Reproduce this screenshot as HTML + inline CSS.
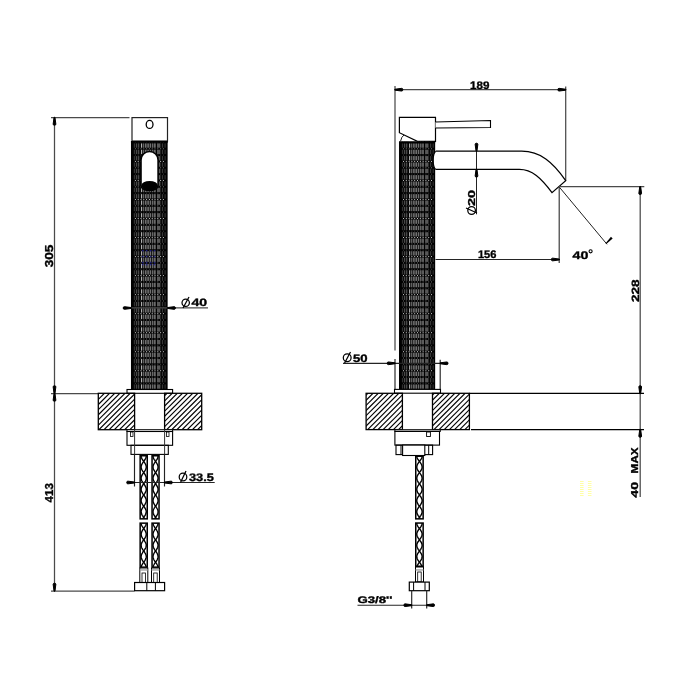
<!DOCTYPE html>
<html><head><meta charset="utf-8">
<style>
html,body{margin:0;padding:0;background:#fff;width:700px;height:700px;overflow:hidden}
svg{display:block;will-change:transform}
text{font-family:"Liberation Sans",sans-serif;font-weight:bold;fill:#000;stroke:#000;stroke-width:0.35px;text-rendering:geometricPrecision}
</style></head>
<body>
<svg width="700" height="700" viewBox="0 0 700 700">
<defs>
  <path id="arr" d="M0.2,-0.45 L-6.6,-1.35 Q-7.8,-1.4 -7.8,0 Q-7.8,1.4 -6.6,1.35 L0.2,0.45 Z" fill="#000"/>
</defs>

<g fill="none" stroke="#000" stroke-width="1">
<g stroke="#4a4a4a" stroke-width="1.25">
  <line x1="54.5" y1="117.5" x2="54.5" y2="591"/>
  <line x1="51" y1="117.5" x2="129.5" y2="117.5"/>
  <line x1="51" y1="393.5" x2="98" y2="393.5"/>
  <line x1="51" y1="591" x2="134.5" y2="591"/>
</g>
<use href="#arr" transform="translate(54.5,117.5) rotate(-90)"/>
<use href="#arr" transform="translate(54.5,393.5) rotate(90)"/>
<use href="#arr" transform="translate(54.5,393.5) rotate(-90)"/>
<use href="#arr" transform="translate(54.5,591) rotate(90)"/>
<rect x="132" y="117.6" width="35.5" height="23.4" fill="#fff" stroke="#222" stroke-width="1.2"/>
<ellipse cx="149.6" cy="124.4" rx="3.4" ry="4.0" stroke-width="1.3"/>
</g>
<clipPath id="kL"><rect x="130.8" y="141" width="37.0" height="248.39999999999998"/></clipPath>
<g clip-path="url(#kL)">
<rect x="130.8" y="141" width="37.0" height="248.39999999999998" fill="#000"/>
<rect x="133.80" y="137.06" width="1.2" height="4.34" fill="#303030"/>
<rect x="135.80" y="137.06" width="1.4" height="4.34" fill="#484848"/>
<rect x="137.90" y="137.06" width="1.4" height="4.34" fill="#484848"/>
<rect x="140.95" y="137.06" width="1.1" height="4.34" fill="#b0b0b0"/>
<rect x="142.70" y="137.06" width="1.6" height="4.34" fill="#606060"/>
<rect x="145.00" y="137.06" width="1.6" height="4.34" fill="#707070"/>
<rect x="147.30" y="137.06" width="1.6" height="4.34" fill="#707070"/>
<rect x="149.60" y="137.06" width="1.6" height="4.34" fill="#707070"/>
<rect x="151.95" y="137.06" width="1.5" height="4.34" fill="#686868"/>
<rect x="154.30" y="137.06" width="1.2" height="4.34" fill="#989898"/>
<rect x="157.00" y="137.06" width="3.4" height="4.34" fill="#585858"/>
<rect x="161.85" y="137.06" width="1.3" height="4.34" fill="#383838"/>
<rect x="164.50" y="137.06" width="1.2" height="4.34" fill="#303030"/>
<rect x="134.90" y="135.56" width="1" height="1" fill="#404040"/>
<rect x="137.70" y="135.56" width="1" height="1" fill="#404040"/>
<rect x="140.50" y="135.56" width="1" height="1" fill="#404040"/>
<rect x="143.30" y="135.56" width="1" height="1" fill="#404040"/>
<rect x="146.10" y="135.56" width="1" height="1" fill="#404040"/>
<rect x="148.90" y="135.56" width="1" height="1" fill="#404040"/>
<rect x="151.70" y="135.56" width="1" height="1" fill="#404040"/>
<rect x="154.50" y="135.56" width="1" height="1" fill="#404040"/>
<rect x="157.30" y="135.56" width="1" height="1" fill="#404040"/>
<rect x="160.10" y="135.56" width="1" height="1" fill="#404040"/>
<rect x="162.90" y="135.56" width="1" height="1" fill="#404040"/>
<rect x="133.80" y="143.40" width="1.2" height="4.34" fill="#303030"/>
<rect x="135.80" y="143.40" width="1.4" height="4.34" fill="#484848"/>
<rect x="137.90" y="143.40" width="1.4" height="4.34" fill="#484848"/>
<rect x="140.95" y="143.40" width="1.1" height="4.34" fill="#b0b0b0"/>
<rect x="142.70" y="143.40" width="1.6" height="4.34" fill="#606060"/>
<rect x="145.00" y="143.40" width="1.6" height="4.34" fill="#707070"/>
<rect x="147.30" y="143.40" width="1.6" height="4.34" fill="#707070"/>
<rect x="149.60" y="143.40" width="1.6" height="4.34" fill="#707070"/>
<rect x="151.95" y="143.40" width="1.5" height="4.34" fill="#686868"/>
<rect x="154.30" y="143.40" width="1.2" height="4.34" fill="#989898"/>
<rect x="157.00" y="143.40" width="3.4" height="4.34" fill="#585858"/>
<rect x="161.85" y="143.40" width="1.3" height="4.34" fill="#383838"/>
<rect x="164.50" y="143.40" width="1.2" height="4.34" fill="#303030"/>
<rect x="134.90" y="141.90" width="1" height="1" fill="#c8c8c8"/>
<rect x="137.70" y="141.90" width="1" height="1" fill="#c8c8c8"/>
<rect x="140.50" y="141.90" width="1" height="1" fill="#c8c8c8"/>
<rect x="143.30" y="141.90" width="1" height="1" fill="#c8c8c8"/>
<rect x="146.10" y="141.90" width="1" height="1" fill="#c8c8c8"/>
<rect x="148.90" y="141.90" width="1" height="1" fill="#c8c8c8"/>
<rect x="151.70" y="141.90" width="1" height="1" fill="#c8c8c8"/>
<rect x="154.50" y="141.90" width="1" height="1" fill="#c8c8c8"/>
<rect x="157.30" y="141.90" width="1" height="1" fill="#c8c8c8"/>
<rect x="160.10" y="141.90" width="1" height="1" fill="#c8c8c8"/>
<rect x="162.90" y="141.90" width="1" height="1" fill="#c8c8c8"/>
<rect x="133.80" y="149.74" width="1.2" height="4.34" fill="#303030"/>
<rect x="135.80" y="149.74" width="1.4" height="4.34" fill="#484848"/>
<rect x="137.90" y="149.74" width="1.4" height="4.34" fill="#484848"/>
<rect x="140.95" y="149.74" width="1.1" height="4.34" fill="#b0b0b0"/>
<rect x="142.70" y="149.74" width="1.6" height="4.34" fill="#606060"/>
<rect x="145.00" y="149.74" width="1.6" height="4.34" fill="#707070"/>
<rect x="147.30" y="149.74" width="1.6" height="4.34" fill="#707070"/>
<rect x="149.60" y="149.74" width="1.6" height="4.34" fill="#707070"/>
<rect x="151.95" y="149.74" width="1.5" height="4.34" fill="#686868"/>
<rect x="154.30" y="149.74" width="1.2" height="4.34" fill="#989898"/>
<rect x="157.00" y="149.74" width="3.4" height="4.34" fill="#585858"/>
<rect x="161.85" y="149.74" width="1.3" height="4.34" fill="#383838"/>
<rect x="164.50" y="149.74" width="1.2" height="4.34" fill="#303030"/>
<rect x="134.90" y="148.24" width="1" height="1" fill="#707070"/>
<rect x="137.70" y="148.24" width="1" height="1" fill="#707070"/>
<rect x="140.50" y="148.24" width="1" height="1" fill="#707070"/>
<rect x="143.30" y="148.24" width="1" height="1" fill="#707070"/>
<rect x="146.10" y="148.24" width="1" height="1" fill="#707070"/>
<rect x="148.90" y="148.24" width="1" height="1" fill="#707070"/>
<rect x="151.70" y="148.24" width="1" height="1" fill="#707070"/>
<rect x="154.50" y="148.24" width="1" height="1" fill="#707070"/>
<rect x="157.30" y="148.24" width="1" height="1" fill="#707070"/>
<rect x="160.10" y="148.24" width="1" height="1" fill="#707070"/>
<rect x="162.90" y="148.24" width="1" height="1" fill="#707070"/>
<rect x="133.80" y="156.08" width="1.2" height="4.34" fill="#303030"/>
<rect x="135.80" y="156.08" width="1.4" height="4.34" fill="#484848"/>
<rect x="137.90" y="156.08" width="1.4" height="4.34" fill="#484848"/>
<rect x="140.95" y="156.08" width="1.1" height="4.34" fill="#b0b0b0"/>
<rect x="142.70" y="156.08" width="1.6" height="4.34" fill="#606060"/>
<rect x="145.00" y="156.08" width="1.6" height="4.34" fill="#707070"/>
<rect x="147.30" y="156.08" width="1.6" height="4.34" fill="#707070"/>
<rect x="149.60" y="156.08" width="1.6" height="4.34" fill="#707070"/>
<rect x="151.95" y="156.08" width="1.5" height="4.34" fill="#686868"/>
<rect x="154.30" y="156.08" width="1.2" height="4.34" fill="#989898"/>
<rect x="157.00" y="156.08" width="3.4" height="4.34" fill="#585858"/>
<rect x="161.85" y="156.08" width="1.3" height="4.34" fill="#383838"/>
<rect x="164.50" y="156.08" width="1.2" height="4.34" fill="#303030"/>
<rect x="134.90" y="154.58" width="1" height="1" fill="#404040"/>
<rect x="137.70" y="154.58" width="1" height="1" fill="#404040"/>
<rect x="140.50" y="154.58" width="1" height="1" fill="#404040"/>
<rect x="143.30" y="154.58" width="1" height="1" fill="#404040"/>
<rect x="146.10" y="154.58" width="1" height="1" fill="#404040"/>
<rect x="148.90" y="154.58" width="1" height="1" fill="#404040"/>
<rect x="151.70" y="154.58" width="1" height="1" fill="#404040"/>
<rect x="154.50" y="154.58" width="1" height="1" fill="#404040"/>
<rect x="157.30" y="154.58" width="1" height="1" fill="#404040"/>
<rect x="160.10" y="154.58" width="1" height="1" fill="#404040"/>
<rect x="162.90" y="154.58" width="1" height="1" fill="#404040"/>
<rect x="133.80" y="162.43" width="1.2" height="4.34" fill="#303030"/>
<rect x="135.80" y="162.43" width="1.4" height="4.34" fill="#484848"/>
<rect x="137.90" y="162.43" width="1.4" height="4.34" fill="#484848"/>
<rect x="140.95" y="162.43" width="1.1" height="4.34" fill="#b0b0b0"/>
<rect x="142.70" y="162.43" width="1.6" height="4.34" fill="#606060"/>
<rect x="145.00" y="162.43" width="1.6" height="4.34" fill="#707070"/>
<rect x="147.30" y="162.43" width="1.6" height="4.34" fill="#707070"/>
<rect x="149.60" y="162.43" width="1.6" height="4.34" fill="#707070"/>
<rect x="151.95" y="162.43" width="1.5" height="4.34" fill="#686868"/>
<rect x="154.30" y="162.43" width="1.2" height="4.34" fill="#989898"/>
<rect x="157.00" y="162.43" width="3.4" height="4.34" fill="#585858"/>
<rect x="161.85" y="162.43" width="1.3" height="4.34" fill="#383838"/>
<rect x="164.50" y="162.43" width="1.2" height="4.34" fill="#303030"/>
<rect x="134.90" y="160.93" width="1" height="1" fill="#c8c8c8"/>
<rect x="137.70" y="160.93" width="1" height="1" fill="#c8c8c8"/>
<rect x="140.50" y="160.93" width="1" height="1" fill="#c8c8c8"/>
<rect x="143.30" y="160.93" width="1" height="1" fill="#c8c8c8"/>
<rect x="146.10" y="160.93" width="1" height="1" fill="#c8c8c8"/>
<rect x="148.90" y="160.93" width="1" height="1" fill="#c8c8c8"/>
<rect x="151.70" y="160.93" width="1" height="1" fill="#c8c8c8"/>
<rect x="154.50" y="160.93" width="1" height="1" fill="#c8c8c8"/>
<rect x="157.30" y="160.93" width="1" height="1" fill="#c8c8c8"/>
<rect x="160.10" y="160.93" width="1" height="1" fill="#c8c8c8"/>
<rect x="162.90" y="160.93" width="1" height="1" fill="#c8c8c8"/>
<rect x="133.80" y="168.77" width="1.2" height="4.34" fill="#303030"/>
<rect x="135.80" y="168.77" width="1.4" height="4.34" fill="#484848"/>
<rect x="137.90" y="168.77" width="1.4" height="4.34" fill="#484848"/>
<rect x="140.95" y="168.77" width="1.1" height="4.34" fill="#b0b0b0"/>
<rect x="142.70" y="168.77" width="1.6" height="4.34" fill="#606060"/>
<rect x="145.00" y="168.77" width="1.6" height="4.34" fill="#707070"/>
<rect x="147.30" y="168.77" width="1.6" height="4.34" fill="#707070"/>
<rect x="149.60" y="168.77" width="1.6" height="4.34" fill="#707070"/>
<rect x="151.95" y="168.77" width="1.5" height="4.34" fill="#686868"/>
<rect x="154.30" y="168.77" width="1.2" height="4.34" fill="#989898"/>
<rect x="157.00" y="168.77" width="3.4" height="4.34" fill="#585858"/>
<rect x="161.85" y="168.77" width="1.3" height="4.34" fill="#383838"/>
<rect x="164.50" y="168.77" width="1.2" height="4.34" fill="#303030"/>
<rect x="134.90" y="167.27" width="1" height="1" fill="#707070"/>
<rect x="137.70" y="167.27" width="1" height="1" fill="#707070"/>
<rect x="140.50" y="167.27" width="1" height="1" fill="#707070"/>
<rect x="143.30" y="167.27" width="1" height="1" fill="#707070"/>
<rect x="146.10" y="167.27" width="1" height="1" fill="#707070"/>
<rect x="148.90" y="167.27" width="1" height="1" fill="#707070"/>
<rect x="151.70" y="167.27" width="1" height="1" fill="#707070"/>
<rect x="154.50" y="167.27" width="1" height="1" fill="#707070"/>
<rect x="157.30" y="167.27" width="1" height="1" fill="#707070"/>
<rect x="160.10" y="167.27" width="1" height="1" fill="#707070"/>
<rect x="162.90" y="167.27" width="1" height="1" fill="#707070"/>
<rect x="133.80" y="175.11" width="1.2" height="4.34" fill="#303030"/>
<rect x="135.80" y="175.11" width="1.4" height="4.34" fill="#484848"/>
<rect x="137.90" y="175.11" width="1.4" height="4.34" fill="#484848"/>
<rect x="140.95" y="175.11" width="1.1" height="4.34" fill="#b0b0b0"/>
<rect x="142.70" y="175.11" width="1.6" height="4.34" fill="#606060"/>
<rect x="145.00" y="175.11" width="1.6" height="4.34" fill="#707070"/>
<rect x="147.30" y="175.11" width="1.6" height="4.34" fill="#707070"/>
<rect x="149.60" y="175.11" width="1.6" height="4.34" fill="#707070"/>
<rect x="151.95" y="175.11" width="1.5" height="4.34" fill="#686868"/>
<rect x="154.30" y="175.11" width="1.2" height="4.34" fill="#989898"/>
<rect x="157.00" y="175.11" width="3.4" height="4.34" fill="#585858"/>
<rect x="161.85" y="175.11" width="1.3" height="4.34" fill="#383838"/>
<rect x="164.50" y="175.11" width="1.2" height="4.34" fill="#303030"/>
<rect x="134.90" y="173.61" width="1" height="1" fill="#404040"/>
<rect x="137.70" y="173.61" width="1" height="1" fill="#404040"/>
<rect x="140.50" y="173.61" width="1" height="1" fill="#404040"/>
<rect x="143.30" y="173.61" width="1" height="1" fill="#404040"/>
<rect x="146.10" y="173.61" width="1" height="1" fill="#404040"/>
<rect x="148.90" y="173.61" width="1" height="1" fill="#404040"/>
<rect x="151.70" y="173.61" width="1" height="1" fill="#404040"/>
<rect x="154.50" y="173.61" width="1" height="1" fill="#404040"/>
<rect x="157.30" y="173.61" width="1" height="1" fill="#404040"/>
<rect x="160.10" y="173.61" width="1" height="1" fill="#404040"/>
<rect x="162.90" y="173.61" width="1" height="1" fill="#404040"/>
<rect x="133.80" y="181.45" width="1.2" height="4.34" fill="#303030"/>
<rect x="135.80" y="181.45" width="1.4" height="4.34" fill="#484848"/>
<rect x="137.90" y="181.45" width="1.4" height="4.34" fill="#484848"/>
<rect x="140.95" y="181.45" width="1.1" height="4.34" fill="#b0b0b0"/>
<rect x="142.70" y="181.45" width="1.6" height="4.34" fill="#606060"/>
<rect x="145.00" y="181.45" width="1.6" height="4.34" fill="#707070"/>
<rect x="147.30" y="181.45" width="1.6" height="4.34" fill="#707070"/>
<rect x="149.60" y="181.45" width="1.6" height="4.34" fill="#707070"/>
<rect x="151.95" y="181.45" width="1.5" height="4.34" fill="#686868"/>
<rect x="154.30" y="181.45" width="1.2" height="4.34" fill="#989898"/>
<rect x="157.00" y="181.45" width="3.4" height="4.34" fill="#585858"/>
<rect x="161.85" y="181.45" width="1.3" height="4.34" fill="#383838"/>
<rect x="164.50" y="181.45" width="1.2" height="4.34" fill="#303030"/>
<rect x="134.90" y="179.95" width="1" height="1" fill="#c8c8c8"/>
<rect x="137.70" y="179.95" width="1" height="1" fill="#c8c8c8"/>
<rect x="140.50" y="179.95" width="1" height="1" fill="#c8c8c8"/>
<rect x="143.30" y="179.95" width="1" height="1" fill="#c8c8c8"/>
<rect x="146.10" y="179.95" width="1" height="1" fill="#c8c8c8"/>
<rect x="148.90" y="179.95" width="1" height="1" fill="#c8c8c8"/>
<rect x="151.70" y="179.95" width="1" height="1" fill="#c8c8c8"/>
<rect x="154.50" y="179.95" width="1" height="1" fill="#c8c8c8"/>
<rect x="157.30" y="179.95" width="1" height="1" fill="#c8c8c8"/>
<rect x="160.10" y="179.95" width="1" height="1" fill="#c8c8c8"/>
<rect x="162.90" y="179.95" width="1" height="1" fill="#c8c8c8"/>
<rect x="133.80" y="187.79" width="1.2" height="4.34" fill="#303030"/>
<rect x="135.80" y="187.79" width="1.4" height="4.34" fill="#484848"/>
<rect x="137.90" y="187.79" width="1.4" height="4.34" fill="#484848"/>
<rect x="140.95" y="187.79" width="1.1" height="4.34" fill="#b0b0b0"/>
<rect x="142.70" y="187.79" width="1.6" height="4.34" fill="#606060"/>
<rect x="145.00" y="187.79" width="1.6" height="4.34" fill="#707070"/>
<rect x="147.30" y="187.79" width="1.6" height="4.34" fill="#707070"/>
<rect x="149.60" y="187.79" width="1.6" height="4.34" fill="#707070"/>
<rect x="151.95" y="187.79" width="1.5" height="4.34" fill="#686868"/>
<rect x="154.30" y="187.79" width="1.2" height="4.34" fill="#989898"/>
<rect x="157.00" y="187.79" width="3.4" height="4.34" fill="#585858"/>
<rect x="161.85" y="187.79" width="1.3" height="4.34" fill="#383838"/>
<rect x="164.50" y="187.79" width="1.2" height="4.34" fill="#303030"/>
<rect x="134.90" y="186.29" width="1" height="1" fill="#707070"/>
<rect x="137.70" y="186.29" width="1" height="1" fill="#707070"/>
<rect x="140.50" y="186.29" width="1" height="1" fill="#707070"/>
<rect x="143.30" y="186.29" width="1" height="1" fill="#707070"/>
<rect x="146.10" y="186.29" width="1" height="1" fill="#707070"/>
<rect x="148.90" y="186.29" width="1" height="1" fill="#707070"/>
<rect x="151.70" y="186.29" width="1" height="1" fill="#707070"/>
<rect x="154.50" y="186.29" width="1" height="1" fill="#707070"/>
<rect x="157.30" y="186.29" width="1" height="1" fill="#707070"/>
<rect x="160.10" y="186.29" width="1" height="1" fill="#707070"/>
<rect x="162.90" y="186.29" width="1" height="1" fill="#707070"/>
<rect x="133.80" y="194.14" width="1.2" height="4.34" fill="#303030"/>
<rect x="135.80" y="194.14" width="1.4" height="4.34" fill="#484848"/>
<rect x="137.90" y="194.14" width="1.4" height="4.34" fill="#484848"/>
<rect x="140.95" y="194.14" width="1.1" height="4.34" fill="#b0b0b0"/>
<rect x="142.70" y="194.14" width="1.6" height="4.34" fill="#606060"/>
<rect x="145.00" y="194.14" width="1.6" height="4.34" fill="#707070"/>
<rect x="147.30" y="194.14" width="1.6" height="4.34" fill="#707070"/>
<rect x="149.60" y="194.14" width="1.6" height="4.34" fill="#707070"/>
<rect x="151.95" y="194.14" width="1.5" height="4.34" fill="#686868"/>
<rect x="154.30" y="194.14" width="1.2" height="4.34" fill="#989898"/>
<rect x="157.00" y="194.14" width="3.4" height="4.34" fill="#585858"/>
<rect x="161.85" y="194.14" width="1.3" height="4.34" fill="#383838"/>
<rect x="164.50" y="194.14" width="1.2" height="4.34" fill="#303030"/>
<rect x="134.90" y="192.64" width="1" height="1" fill="#404040"/>
<rect x="137.70" y="192.64" width="1" height="1" fill="#404040"/>
<rect x="140.50" y="192.64" width="1" height="1" fill="#404040"/>
<rect x="143.30" y="192.64" width="1" height="1" fill="#404040"/>
<rect x="146.10" y="192.64" width="1" height="1" fill="#404040"/>
<rect x="148.90" y="192.64" width="1" height="1" fill="#404040"/>
<rect x="151.70" y="192.64" width="1" height="1" fill="#404040"/>
<rect x="154.50" y="192.64" width="1" height="1" fill="#404040"/>
<rect x="157.30" y="192.64" width="1" height="1" fill="#404040"/>
<rect x="160.10" y="192.64" width="1" height="1" fill="#404040"/>
<rect x="162.90" y="192.64" width="1" height="1" fill="#404040"/>
<rect x="133.80" y="200.48" width="1.2" height="4.34" fill="#303030"/>
<rect x="135.80" y="200.48" width="1.4" height="4.34" fill="#484848"/>
<rect x="137.90" y="200.48" width="1.4" height="4.34" fill="#484848"/>
<rect x="140.95" y="200.48" width="1.1" height="4.34" fill="#b0b0b0"/>
<rect x="142.70" y="200.48" width="1.6" height="4.34" fill="#606060"/>
<rect x="145.00" y="200.48" width="1.6" height="4.34" fill="#707070"/>
<rect x="147.30" y="200.48" width="1.6" height="4.34" fill="#707070"/>
<rect x="149.60" y="200.48" width="1.6" height="4.34" fill="#707070"/>
<rect x="151.95" y="200.48" width="1.5" height="4.34" fill="#686868"/>
<rect x="154.30" y="200.48" width="1.2" height="4.34" fill="#989898"/>
<rect x="157.00" y="200.48" width="3.4" height="4.34" fill="#585858"/>
<rect x="161.85" y="200.48" width="1.3" height="4.34" fill="#383838"/>
<rect x="164.50" y="200.48" width="1.2" height="4.34" fill="#303030"/>
<rect x="134.90" y="198.98" width="1" height="1" fill="#c8c8c8"/>
<rect x="137.70" y="198.98" width="1" height="1" fill="#c8c8c8"/>
<rect x="140.50" y="198.98" width="1" height="1" fill="#c8c8c8"/>
<rect x="143.30" y="198.98" width="1" height="1" fill="#c8c8c8"/>
<rect x="146.10" y="198.98" width="1" height="1" fill="#c8c8c8"/>
<rect x="148.90" y="198.98" width="1" height="1" fill="#c8c8c8"/>
<rect x="151.70" y="198.98" width="1" height="1" fill="#c8c8c8"/>
<rect x="154.50" y="198.98" width="1" height="1" fill="#c8c8c8"/>
<rect x="157.30" y="198.98" width="1" height="1" fill="#c8c8c8"/>
<rect x="160.10" y="198.98" width="1" height="1" fill="#c8c8c8"/>
<rect x="162.90" y="198.98" width="1" height="1" fill="#c8c8c8"/>
<rect x="133.80" y="206.82" width="1.2" height="4.34" fill="#303030"/>
<rect x="135.80" y="206.82" width="1.4" height="4.34" fill="#484848"/>
<rect x="137.90" y="206.82" width="1.4" height="4.34" fill="#484848"/>
<rect x="140.95" y="206.82" width="1.1" height="4.34" fill="#b0b0b0"/>
<rect x="142.70" y="206.82" width="1.6" height="4.34" fill="#606060"/>
<rect x="145.00" y="206.82" width="1.6" height="4.34" fill="#707070"/>
<rect x="147.30" y="206.82" width="1.6" height="4.34" fill="#707070"/>
<rect x="149.60" y="206.82" width="1.6" height="4.34" fill="#707070"/>
<rect x="151.95" y="206.82" width="1.5" height="4.34" fill="#686868"/>
<rect x="154.30" y="206.82" width="1.2" height="4.34" fill="#989898"/>
<rect x="157.00" y="206.82" width="3.4" height="4.34" fill="#585858"/>
<rect x="161.85" y="206.82" width="1.3" height="4.34" fill="#383838"/>
<rect x="164.50" y="206.82" width="1.2" height="4.34" fill="#303030"/>
<rect x="134.90" y="205.32" width="1" height="1" fill="#707070"/>
<rect x="137.70" y="205.32" width="1" height="1" fill="#707070"/>
<rect x="140.50" y="205.32" width="1" height="1" fill="#707070"/>
<rect x="143.30" y="205.32" width="1" height="1" fill="#707070"/>
<rect x="146.10" y="205.32" width="1" height="1" fill="#707070"/>
<rect x="148.90" y="205.32" width="1" height="1" fill="#707070"/>
<rect x="151.70" y="205.32" width="1" height="1" fill="#707070"/>
<rect x="154.50" y="205.32" width="1" height="1" fill="#707070"/>
<rect x="157.30" y="205.32" width="1" height="1" fill="#707070"/>
<rect x="160.10" y="205.32" width="1" height="1" fill="#707070"/>
<rect x="162.90" y="205.32" width="1" height="1" fill="#707070"/>
<rect x="133.80" y="213.16" width="1.2" height="4.34" fill="#303030"/>
<rect x="135.80" y="213.16" width="1.4" height="4.34" fill="#484848"/>
<rect x="137.90" y="213.16" width="1.4" height="4.34" fill="#484848"/>
<rect x="140.95" y="213.16" width="1.1" height="4.34" fill="#b0b0b0"/>
<rect x="142.70" y="213.16" width="1.6" height="4.34" fill="#606060"/>
<rect x="145.00" y="213.16" width="1.6" height="4.34" fill="#707070"/>
<rect x="147.30" y="213.16" width="1.6" height="4.34" fill="#707070"/>
<rect x="149.60" y="213.16" width="1.6" height="4.34" fill="#707070"/>
<rect x="151.95" y="213.16" width="1.5" height="4.34" fill="#686868"/>
<rect x="154.30" y="213.16" width="1.2" height="4.34" fill="#989898"/>
<rect x="157.00" y="213.16" width="3.4" height="4.34" fill="#585858"/>
<rect x="161.85" y="213.16" width="1.3" height="4.34" fill="#383838"/>
<rect x="164.50" y="213.16" width="1.2" height="4.34" fill="#303030"/>
<rect x="134.90" y="211.66" width="1" height="1" fill="#404040"/>
<rect x="137.70" y="211.66" width="1" height="1" fill="#404040"/>
<rect x="140.50" y="211.66" width="1" height="1" fill="#404040"/>
<rect x="143.30" y="211.66" width="1" height="1" fill="#404040"/>
<rect x="146.10" y="211.66" width="1" height="1" fill="#404040"/>
<rect x="148.90" y="211.66" width="1" height="1" fill="#404040"/>
<rect x="151.70" y="211.66" width="1" height="1" fill="#404040"/>
<rect x="154.50" y="211.66" width="1" height="1" fill="#404040"/>
<rect x="157.30" y="211.66" width="1" height="1" fill="#404040"/>
<rect x="160.10" y="211.66" width="1" height="1" fill="#404040"/>
<rect x="162.90" y="211.66" width="1" height="1" fill="#404040"/>
<rect x="133.80" y="219.50" width="1.2" height="4.34" fill="#303030"/>
<rect x="135.80" y="219.50" width="1.4" height="4.34" fill="#484848"/>
<rect x="137.90" y="219.50" width="1.4" height="4.34" fill="#484848"/>
<rect x="140.95" y="219.50" width="1.1" height="4.34" fill="#b0b0b0"/>
<rect x="142.70" y="219.50" width="1.6" height="4.34" fill="#606060"/>
<rect x="145.00" y="219.50" width="1.6" height="4.34" fill="#707070"/>
<rect x="147.30" y="219.50" width="1.6" height="4.34" fill="#707070"/>
<rect x="149.60" y="219.50" width="1.6" height="4.34" fill="#707070"/>
<rect x="151.95" y="219.50" width="1.5" height="4.34" fill="#686868"/>
<rect x="154.30" y="219.50" width="1.2" height="4.34" fill="#989898"/>
<rect x="157.00" y="219.50" width="3.4" height="4.34" fill="#585858"/>
<rect x="161.85" y="219.50" width="1.3" height="4.34" fill="#383838"/>
<rect x="164.50" y="219.50" width="1.2" height="4.34" fill="#303030"/>
<rect x="134.90" y="218.00" width="1" height="1" fill="#c8c8c8"/>
<rect x="137.70" y="218.00" width="1" height="1" fill="#c8c8c8"/>
<rect x="140.50" y="218.00" width="1" height="1" fill="#c8c8c8"/>
<rect x="143.30" y="218.00" width="1" height="1" fill="#c8c8c8"/>
<rect x="146.10" y="218.00" width="1" height="1" fill="#c8c8c8"/>
<rect x="148.90" y="218.00" width="1" height="1" fill="#c8c8c8"/>
<rect x="151.70" y="218.00" width="1" height="1" fill="#c8c8c8"/>
<rect x="154.50" y="218.00" width="1" height="1" fill="#c8c8c8"/>
<rect x="157.30" y="218.00" width="1" height="1" fill="#c8c8c8"/>
<rect x="160.10" y="218.00" width="1" height="1" fill="#c8c8c8"/>
<rect x="162.90" y="218.00" width="1" height="1" fill="#c8c8c8"/>
<rect x="133.80" y="225.85" width="1.2" height="4.34" fill="#303030"/>
<rect x="135.80" y="225.85" width="1.4" height="4.34" fill="#484848"/>
<rect x="137.90" y="225.85" width="1.4" height="4.34" fill="#484848"/>
<rect x="140.95" y="225.85" width="1.1" height="4.34" fill="#b0b0b0"/>
<rect x="142.70" y="225.85" width="1.6" height="4.34" fill="#606060"/>
<rect x="145.00" y="225.85" width="1.6" height="4.34" fill="#707070"/>
<rect x="147.30" y="225.85" width="1.6" height="4.34" fill="#707070"/>
<rect x="149.60" y="225.85" width="1.6" height="4.34" fill="#707070"/>
<rect x="151.95" y="225.85" width="1.5" height="4.34" fill="#686868"/>
<rect x="154.30" y="225.85" width="1.2" height="4.34" fill="#989898"/>
<rect x="157.00" y="225.85" width="3.4" height="4.34" fill="#585858"/>
<rect x="161.85" y="225.85" width="1.3" height="4.34" fill="#383838"/>
<rect x="164.50" y="225.85" width="1.2" height="4.34" fill="#303030"/>
<rect x="134.90" y="224.35" width="1" height="1" fill="#707070"/>
<rect x="137.70" y="224.35" width="1" height="1" fill="#707070"/>
<rect x="140.50" y="224.35" width="1" height="1" fill="#707070"/>
<rect x="143.30" y="224.35" width="1" height="1" fill="#707070"/>
<rect x="146.10" y="224.35" width="1" height="1" fill="#707070"/>
<rect x="148.90" y="224.35" width="1" height="1" fill="#707070"/>
<rect x="151.70" y="224.35" width="1" height="1" fill="#707070"/>
<rect x="154.50" y="224.35" width="1" height="1" fill="#707070"/>
<rect x="157.30" y="224.35" width="1" height="1" fill="#707070"/>
<rect x="160.10" y="224.35" width="1" height="1" fill="#707070"/>
<rect x="162.90" y="224.35" width="1" height="1" fill="#707070"/>
<rect x="133.80" y="232.19" width="1.2" height="4.34" fill="#303030"/>
<rect x="135.80" y="232.19" width="1.4" height="4.34" fill="#484848"/>
<rect x="137.90" y="232.19" width="1.4" height="4.34" fill="#484848"/>
<rect x="140.95" y="232.19" width="1.1" height="4.34" fill="#b0b0b0"/>
<rect x="142.70" y="232.19" width="1.6" height="4.34" fill="#606060"/>
<rect x="145.00" y="232.19" width="1.6" height="4.34" fill="#707070"/>
<rect x="147.30" y="232.19" width="1.6" height="4.34" fill="#707070"/>
<rect x="149.60" y="232.19" width="1.6" height="4.34" fill="#707070"/>
<rect x="151.95" y="232.19" width="1.5" height="4.34" fill="#686868"/>
<rect x="154.30" y="232.19" width="1.2" height="4.34" fill="#989898"/>
<rect x="157.00" y="232.19" width="3.4" height="4.34" fill="#585858"/>
<rect x="161.85" y="232.19" width="1.3" height="4.34" fill="#383838"/>
<rect x="164.50" y="232.19" width="1.2" height="4.34" fill="#303030"/>
<rect x="134.90" y="230.69" width="1" height="1" fill="#404040"/>
<rect x="137.70" y="230.69" width="1" height="1" fill="#404040"/>
<rect x="140.50" y="230.69" width="1" height="1" fill="#404040"/>
<rect x="143.30" y="230.69" width="1" height="1" fill="#404040"/>
<rect x="146.10" y="230.69" width="1" height="1" fill="#404040"/>
<rect x="148.90" y="230.69" width="1" height="1" fill="#404040"/>
<rect x="151.70" y="230.69" width="1" height="1" fill="#404040"/>
<rect x="154.50" y="230.69" width="1" height="1" fill="#404040"/>
<rect x="157.30" y="230.69" width="1" height="1" fill="#404040"/>
<rect x="160.10" y="230.69" width="1" height="1" fill="#404040"/>
<rect x="162.90" y="230.69" width="1" height="1" fill="#404040"/>
<rect x="133.80" y="238.53" width="1.2" height="4.34" fill="#303030"/>
<rect x="135.80" y="238.53" width="1.4" height="4.34" fill="#484848"/>
<rect x="137.90" y="238.53" width="1.4" height="4.34" fill="#484848"/>
<rect x="140.95" y="238.53" width="1.1" height="4.34" fill="#b0b0b0"/>
<rect x="142.70" y="238.53" width="1.6" height="4.34" fill="#606060"/>
<rect x="145.00" y="238.53" width="1.6" height="4.34" fill="#707070"/>
<rect x="147.30" y="238.53" width="1.6" height="4.34" fill="#707070"/>
<rect x="149.60" y="238.53" width="1.6" height="4.34" fill="#707070"/>
<rect x="151.95" y="238.53" width="1.5" height="4.34" fill="#686868"/>
<rect x="154.30" y="238.53" width="1.2" height="4.34" fill="#989898"/>
<rect x="157.00" y="238.53" width="3.4" height="4.34" fill="#585858"/>
<rect x="161.85" y="238.53" width="1.3" height="4.34" fill="#383838"/>
<rect x="164.50" y="238.53" width="1.2" height="4.34" fill="#303030"/>
<rect x="134.90" y="237.03" width="1" height="1" fill="#c8c8c8"/>
<rect x="137.70" y="237.03" width="1" height="1" fill="#c8c8c8"/>
<rect x="140.50" y="237.03" width="1" height="1" fill="#c8c8c8"/>
<rect x="143.30" y="237.03" width="1" height="1" fill="#c8c8c8"/>
<rect x="146.10" y="237.03" width="1" height="1" fill="#c8c8c8"/>
<rect x="148.90" y="237.03" width="1" height="1" fill="#c8c8c8"/>
<rect x="151.70" y="237.03" width="1" height="1" fill="#c8c8c8"/>
<rect x="154.50" y="237.03" width="1" height="1" fill="#c8c8c8"/>
<rect x="157.30" y="237.03" width="1" height="1" fill="#c8c8c8"/>
<rect x="160.10" y="237.03" width="1" height="1" fill="#c8c8c8"/>
<rect x="162.90" y="237.03" width="1" height="1" fill="#c8c8c8"/>
<rect x="133.80" y="244.87" width="1.2" height="4.34" fill="#303030"/>
<rect x="135.80" y="244.87" width="1.4" height="4.34" fill="#484848"/>
<rect x="137.90" y="244.87" width="1.4" height="4.34" fill="#484848"/>
<rect x="140.95" y="244.87" width="1.1" height="4.34" fill="#b0b0b0"/>
<rect x="142.70" y="244.87" width="1.6" height="4.34" fill="#606060"/>
<rect x="145.00" y="244.87" width="1.6" height="4.34" fill="#707070"/>
<rect x="147.30" y="244.87" width="1.6" height="4.34" fill="#707070"/>
<rect x="149.60" y="244.87" width="1.6" height="4.34" fill="#707070"/>
<rect x="151.95" y="244.87" width="1.5" height="4.34" fill="#686868"/>
<rect x="154.30" y="244.87" width="1.2" height="4.34" fill="#989898"/>
<rect x="157.00" y="244.87" width="3.4" height="4.34" fill="#585858"/>
<rect x="161.85" y="244.87" width="1.3" height="4.34" fill="#383838"/>
<rect x="164.50" y="244.87" width="1.2" height="4.34" fill="#303030"/>
<rect x="134.90" y="243.37" width="1" height="1" fill="#707070"/>
<rect x="137.70" y="243.37" width="1" height="1" fill="#707070"/>
<rect x="140.50" y="243.37" width="1" height="1" fill="#707070"/>
<rect x="143.30" y="243.37" width="1" height="1" fill="#707070"/>
<rect x="146.10" y="243.37" width="1" height="1" fill="#707070"/>
<rect x="148.90" y="243.37" width="1" height="1" fill="#707070"/>
<rect x="151.70" y="243.37" width="1" height="1" fill="#707070"/>
<rect x="154.50" y="243.37" width="1" height="1" fill="#707070"/>
<rect x="157.30" y="243.37" width="1" height="1" fill="#707070"/>
<rect x="160.10" y="243.37" width="1" height="1" fill="#707070"/>
<rect x="162.90" y="243.37" width="1" height="1" fill="#707070"/>
<rect x="133.80" y="251.21" width="1.2" height="4.34" fill="#303030"/>
<rect x="135.80" y="251.21" width="1.4" height="4.34" fill="#484848"/>
<rect x="137.90" y="251.21" width="1.4" height="4.34" fill="#484848"/>
<rect x="140.95" y="251.21" width="1.1" height="4.34" fill="#b0b0b0"/>
<rect x="142.70" y="251.21" width="1.6" height="4.34" fill="#606060"/>
<rect x="145.00" y="251.21" width="1.6" height="4.34" fill="#707070"/>
<rect x="147.30" y="251.21" width="1.6" height="4.34" fill="#707070"/>
<rect x="149.60" y="251.21" width="1.6" height="4.34" fill="#707070"/>
<rect x="151.95" y="251.21" width="1.5" height="4.34" fill="#686868"/>
<rect x="154.30" y="251.21" width="1.2" height="4.34" fill="#989898"/>
<rect x="157.00" y="251.21" width="3.4" height="4.34" fill="#585858"/>
<rect x="161.85" y="251.21" width="1.3" height="4.34" fill="#383838"/>
<rect x="164.50" y="251.21" width="1.2" height="4.34" fill="#303030"/>
<rect x="134.90" y="249.71" width="1" height="1" fill="#404040"/>
<rect x="137.70" y="249.71" width="1" height="1" fill="#404040"/>
<rect x="140.50" y="249.71" width="1" height="1" fill="#404040"/>
<rect x="143.30" y="249.71" width="1" height="1" fill="#404040"/>
<rect x="146.10" y="249.71" width="1" height="1" fill="#404040"/>
<rect x="148.90" y="249.71" width="1" height="1" fill="#404040"/>
<rect x="151.70" y="249.71" width="1" height="1" fill="#404040"/>
<rect x="154.50" y="249.71" width="1" height="1" fill="#404040"/>
<rect x="157.30" y="249.71" width="1" height="1" fill="#404040"/>
<rect x="160.10" y="249.71" width="1" height="1" fill="#404040"/>
<rect x="162.90" y="249.71" width="1" height="1" fill="#404040"/>
<rect x="133.80" y="257.56" width="1.2" height="4.34" fill="#303030"/>
<rect x="135.80" y="257.56" width="1.4" height="4.34" fill="#484848"/>
<rect x="137.90" y="257.56" width="1.4" height="4.34" fill="#484848"/>
<rect x="140.95" y="257.56" width="1.1" height="4.34" fill="#b0b0b0"/>
<rect x="142.70" y="257.56" width="1.6" height="4.34" fill="#606060"/>
<rect x="145.00" y="257.56" width="1.6" height="4.34" fill="#707070"/>
<rect x="147.30" y="257.56" width="1.6" height="4.34" fill="#707070"/>
<rect x="149.60" y="257.56" width="1.6" height="4.34" fill="#707070"/>
<rect x="151.95" y="257.56" width="1.5" height="4.34" fill="#686868"/>
<rect x="154.30" y="257.56" width="1.2" height="4.34" fill="#989898"/>
<rect x="157.00" y="257.56" width="3.4" height="4.34" fill="#585858"/>
<rect x="161.85" y="257.56" width="1.3" height="4.34" fill="#383838"/>
<rect x="164.50" y="257.56" width="1.2" height="4.34" fill="#303030"/>
<rect x="134.90" y="256.06" width="1" height="1" fill="#c8c8c8"/>
<rect x="137.70" y="256.06" width="1" height="1" fill="#c8c8c8"/>
<rect x="140.50" y="256.06" width="1" height="1" fill="#c8c8c8"/>
<rect x="143.30" y="256.06" width="1" height="1" fill="#c8c8c8"/>
<rect x="146.10" y="256.06" width="1" height="1" fill="#c8c8c8"/>
<rect x="148.90" y="256.06" width="1" height="1" fill="#c8c8c8"/>
<rect x="151.70" y="256.06" width="1" height="1" fill="#c8c8c8"/>
<rect x="154.50" y="256.06" width="1" height="1" fill="#c8c8c8"/>
<rect x="157.30" y="256.06" width="1" height="1" fill="#c8c8c8"/>
<rect x="160.10" y="256.06" width="1" height="1" fill="#c8c8c8"/>
<rect x="162.90" y="256.06" width="1" height="1" fill="#c8c8c8"/>
<rect x="133.80" y="263.90" width="1.2" height="4.34" fill="#303030"/>
<rect x="135.80" y="263.90" width="1.4" height="4.34" fill="#484848"/>
<rect x="137.90" y="263.90" width="1.4" height="4.34" fill="#484848"/>
<rect x="140.95" y="263.90" width="1.1" height="4.34" fill="#b0b0b0"/>
<rect x="142.70" y="263.90" width="1.6" height="4.34" fill="#606060"/>
<rect x="145.00" y="263.90" width="1.6" height="4.34" fill="#707070"/>
<rect x="147.30" y="263.90" width="1.6" height="4.34" fill="#707070"/>
<rect x="149.60" y="263.90" width="1.6" height="4.34" fill="#707070"/>
<rect x="151.95" y="263.90" width="1.5" height="4.34" fill="#686868"/>
<rect x="154.30" y="263.90" width="1.2" height="4.34" fill="#989898"/>
<rect x="157.00" y="263.90" width="3.4" height="4.34" fill="#585858"/>
<rect x="161.85" y="263.90" width="1.3" height="4.34" fill="#383838"/>
<rect x="164.50" y="263.90" width="1.2" height="4.34" fill="#303030"/>
<rect x="134.90" y="262.40" width="1" height="1" fill="#707070"/>
<rect x="137.70" y="262.40" width="1" height="1" fill="#707070"/>
<rect x="140.50" y="262.40" width="1" height="1" fill="#707070"/>
<rect x="143.30" y="262.40" width="1" height="1" fill="#707070"/>
<rect x="146.10" y="262.40" width="1" height="1" fill="#707070"/>
<rect x="148.90" y="262.40" width="1" height="1" fill="#707070"/>
<rect x="151.70" y="262.40" width="1" height="1" fill="#707070"/>
<rect x="154.50" y="262.40" width="1" height="1" fill="#707070"/>
<rect x="157.30" y="262.40" width="1" height="1" fill="#707070"/>
<rect x="160.10" y="262.40" width="1" height="1" fill="#707070"/>
<rect x="162.90" y="262.40" width="1" height="1" fill="#707070"/>
<rect x="133.80" y="270.24" width="1.2" height="4.34" fill="#303030"/>
<rect x="135.80" y="270.24" width="1.4" height="4.34" fill="#484848"/>
<rect x="137.90" y="270.24" width="1.4" height="4.34" fill="#484848"/>
<rect x="140.95" y="270.24" width="1.1" height="4.34" fill="#b0b0b0"/>
<rect x="142.70" y="270.24" width="1.6" height="4.34" fill="#606060"/>
<rect x="145.00" y="270.24" width="1.6" height="4.34" fill="#707070"/>
<rect x="147.30" y="270.24" width="1.6" height="4.34" fill="#707070"/>
<rect x="149.60" y="270.24" width="1.6" height="4.34" fill="#707070"/>
<rect x="151.95" y="270.24" width="1.5" height="4.34" fill="#686868"/>
<rect x="154.30" y="270.24" width="1.2" height="4.34" fill="#989898"/>
<rect x="157.00" y="270.24" width="3.4" height="4.34" fill="#585858"/>
<rect x="161.85" y="270.24" width="1.3" height="4.34" fill="#383838"/>
<rect x="164.50" y="270.24" width="1.2" height="4.34" fill="#303030"/>
<rect x="134.90" y="268.74" width="1" height="1" fill="#404040"/>
<rect x="137.70" y="268.74" width="1" height="1" fill="#404040"/>
<rect x="140.50" y="268.74" width="1" height="1" fill="#404040"/>
<rect x="143.30" y="268.74" width="1" height="1" fill="#404040"/>
<rect x="146.10" y="268.74" width="1" height="1" fill="#404040"/>
<rect x="148.90" y="268.74" width="1" height="1" fill="#404040"/>
<rect x="151.70" y="268.74" width="1" height="1" fill="#404040"/>
<rect x="154.50" y="268.74" width="1" height="1" fill="#404040"/>
<rect x="157.30" y="268.74" width="1" height="1" fill="#404040"/>
<rect x="160.10" y="268.74" width="1" height="1" fill="#404040"/>
<rect x="162.90" y="268.74" width="1" height="1" fill="#404040"/>
<rect x="133.80" y="276.58" width="1.2" height="4.34" fill="#303030"/>
<rect x="135.80" y="276.58" width="1.4" height="4.34" fill="#484848"/>
<rect x="137.90" y="276.58" width="1.4" height="4.34" fill="#484848"/>
<rect x="140.95" y="276.58" width="1.1" height="4.34" fill="#b0b0b0"/>
<rect x="142.70" y="276.58" width="1.6" height="4.34" fill="#606060"/>
<rect x="145.00" y="276.58" width="1.6" height="4.34" fill="#707070"/>
<rect x="147.30" y="276.58" width="1.6" height="4.34" fill="#707070"/>
<rect x="149.60" y="276.58" width="1.6" height="4.34" fill="#707070"/>
<rect x="151.95" y="276.58" width="1.5" height="4.34" fill="#686868"/>
<rect x="154.30" y="276.58" width="1.2" height="4.34" fill="#989898"/>
<rect x="157.00" y="276.58" width="3.4" height="4.34" fill="#585858"/>
<rect x="161.85" y="276.58" width="1.3" height="4.34" fill="#383838"/>
<rect x="164.50" y="276.58" width="1.2" height="4.34" fill="#303030"/>
<rect x="134.90" y="275.08" width="1" height="1" fill="#c8c8c8"/>
<rect x="137.70" y="275.08" width="1" height="1" fill="#c8c8c8"/>
<rect x="140.50" y="275.08" width="1" height="1" fill="#c8c8c8"/>
<rect x="143.30" y="275.08" width="1" height="1" fill="#c8c8c8"/>
<rect x="146.10" y="275.08" width="1" height="1" fill="#c8c8c8"/>
<rect x="148.90" y="275.08" width="1" height="1" fill="#c8c8c8"/>
<rect x="151.70" y="275.08" width="1" height="1" fill="#c8c8c8"/>
<rect x="154.50" y="275.08" width="1" height="1" fill="#c8c8c8"/>
<rect x="157.30" y="275.08" width="1" height="1" fill="#c8c8c8"/>
<rect x="160.10" y="275.08" width="1" height="1" fill="#c8c8c8"/>
<rect x="162.90" y="275.08" width="1" height="1" fill="#c8c8c8"/>
<rect x="133.80" y="282.92" width="1.2" height="4.34" fill="#303030"/>
<rect x="135.80" y="282.92" width="1.4" height="4.34" fill="#484848"/>
<rect x="137.90" y="282.92" width="1.4" height="4.34" fill="#484848"/>
<rect x="140.95" y="282.92" width="1.1" height="4.34" fill="#b0b0b0"/>
<rect x="142.70" y="282.92" width="1.6" height="4.34" fill="#606060"/>
<rect x="145.00" y="282.92" width="1.6" height="4.34" fill="#707070"/>
<rect x="147.30" y="282.92" width="1.6" height="4.34" fill="#707070"/>
<rect x="149.60" y="282.92" width="1.6" height="4.34" fill="#707070"/>
<rect x="151.95" y="282.92" width="1.5" height="4.34" fill="#686868"/>
<rect x="154.30" y="282.92" width="1.2" height="4.34" fill="#989898"/>
<rect x="157.00" y="282.92" width="3.4" height="4.34" fill="#585858"/>
<rect x="161.85" y="282.92" width="1.3" height="4.34" fill="#383838"/>
<rect x="164.50" y="282.92" width="1.2" height="4.34" fill="#303030"/>
<rect x="134.90" y="281.42" width="1" height="1" fill="#707070"/>
<rect x="137.70" y="281.42" width="1" height="1" fill="#707070"/>
<rect x="140.50" y="281.42" width="1" height="1" fill="#707070"/>
<rect x="143.30" y="281.42" width="1" height="1" fill="#707070"/>
<rect x="146.10" y="281.42" width="1" height="1" fill="#707070"/>
<rect x="148.90" y="281.42" width="1" height="1" fill="#707070"/>
<rect x="151.70" y="281.42" width="1" height="1" fill="#707070"/>
<rect x="154.50" y="281.42" width="1" height="1" fill="#707070"/>
<rect x="157.30" y="281.42" width="1" height="1" fill="#707070"/>
<rect x="160.10" y="281.42" width="1" height="1" fill="#707070"/>
<rect x="162.90" y="281.42" width="1" height="1" fill="#707070"/>
<rect x="133.80" y="289.27" width="1.2" height="4.34" fill="#303030"/>
<rect x="135.80" y="289.27" width="1.4" height="4.34" fill="#484848"/>
<rect x="137.90" y="289.27" width="1.4" height="4.34" fill="#484848"/>
<rect x="140.95" y="289.27" width="1.1" height="4.34" fill="#b0b0b0"/>
<rect x="142.70" y="289.27" width="1.6" height="4.34" fill="#606060"/>
<rect x="145.00" y="289.27" width="1.6" height="4.34" fill="#707070"/>
<rect x="147.30" y="289.27" width="1.6" height="4.34" fill="#707070"/>
<rect x="149.60" y="289.27" width="1.6" height="4.34" fill="#707070"/>
<rect x="151.95" y="289.27" width="1.5" height="4.34" fill="#686868"/>
<rect x="154.30" y="289.27" width="1.2" height="4.34" fill="#989898"/>
<rect x="157.00" y="289.27" width="3.4" height="4.34" fill="#585858"/>
<rect x="161.85" y="289.27" width="1.3" height="4.34" fill="#383838"/>
<rect x="164.50" y="289.27" width="1.2" height="4.34" fill="#303030"/>
<rect x="134.90" y="287.77" width="1" height="1" fill="#404040"/>
<rect x="137.70" y="287.77" width="1" height="1" fill="#404040"/>
<rect x="140.50" y="287.77" width="1" height="1" fill="#404040"/>
<rect x="143.30" y="287.77" width="1" height="1" fill="#404040"/>
<rect x="146.10" y="287.77" width="1" height="1" fill="#404040"/>
<rect x="148.90" y="287.77" width="1" height="1" fill="#404040"/>
<rect x="151.70" y="287.77" width="1" height="1" fill="#404040"/>
<rect x="154.50" y="287.77" width="1" height="1" fill="#404040"/>
<rect x="157.30" y="287.77" width="1" height="1" fill="#404040"/>
<rect x="160.10" y="287.77" width="1" height="1" fill="#404040"/>
<rect x="162.90" y="287.77" width="1" height="1" fill="#404040"/>
<rect x="133.80" y="295.61" width="1.2" height="4.34" fill="#303030"/>
<rect x="135.80" y="295.61" width="1.4" height="4.34" fill="#484848"/>
<rect x="137.90" y="295.61" width="1.4" height="4.34" fill="#484848"/>
<rect x="140.95" y="295.61" width="1.1" height="4.34" fill="#b0b0b0"/>
<rect x="142.70" y="295.61" width="1.6" height="4.34" fill="#606060"/>
<rect x="145.00" y="295.61" width="1.6" height="4.34" fill="#707070"/>
<rect x="147.30" y="295.61" width="1.6" height="4.34" fill="#707070"/>
<rect x="149.60" y="295.61" width="1.6" height="4.34" fill="#707070"/>
<rect x="151.95" y="295.61" width="1.5" height="4.34" fill="#686868"/>
<rect x="154.30" y="295.61" width="1.2" height="4.34" fill="#989898"/>
<rect x="157.00" y="295.61" width="3.4" height="4.34" fill="#585858"/>
<rect x="161.85" y="295.61" width="1.3" height="4.34" fill="#383838"/>
<rect x="164.50" y="295.61" width="1.2" height="4.34" fill="#303030"/>
<rect x="134.90" y="294.11" width="1" height="1" fill="#c8c8c8"/>
<rect x="137.70" y="294.11" width="1" height="1" fill="#c8c8c8"/>
<rect x="140.50" y="294.11" width="1" height="1" fill="#c8c8c8"/>
<rect x="143.30" y="294.11" width="1" height="1" fill="#c8c8c8"/>
<rect x="146.10" y="294.11" width="1" height="1" fill="#c8c8c8"/>
<rect x="148.90" y="294.11" width="1" height="1" fill="#c8c8c8"/>
<rect x="151.70" y="294.11" width="1" height="1" fill="#c8c8c8"/>
<rect x="154.50" y="294.11" width="1" height="1" fill="#c8c8c8"/>
<rect x="157.30" y="294.11" width="1" height="1" fill="#c8c8c8"/>
<rect x="160.10" y="294.11" width="1" height="1" fill="#c8c8c8"/>
<rect x="162.90" y="294.11" width="1" height="1" fill="#c8c8c8"/>
<rect x="133.80" y="301.95" width="1.2" height="4.34" fill="#303030"/>
<rect x="135.80" y="301.95" width="1.4" height="4.34" fill="#484848"/>
<rect x="137.90" y="301.95" width="1.4" height="4.34" fill="#484848"/>
<rect x="140.95" y="301.95" width="1.1" height="4.34" fill="#b0b0b0"/>
<rect x="142.70" y="301.95" width="1.6" height="4.34" fill="#606060"/>
<rect x="145.00" y="301.95" width="1.6" height="4.34" fill="#707070"/>
<rect x="147.30" y="301.95" width="1.6" height="4.34" fill="#707070"/>
<rect x="149.60" y="301.95" width="1.6" height="4.34" fill="#707070"/>
<rect x="151.95" y="301.95" width="1.5" height="4.34" fill="#686868"/>
<rect x="154.30" y="301.95" width="1.2" height="4.34" fill="#989898"/>
<rect x="157.00" y="301.95" width="3.4" height="4.34" fill="#585858"/>
<rect x="161.85" y="301.95" width="1.3" height="4.34" fill="#383838"/>
<rect x="164.50" y="301.95" width="1.2" height="4.34" fill="#303030"/>
<rect x="134.90" y="300.45" width="1" height="1" fill="#707070"/>
<rect x="137.70" y="300.45" width="1" height="1" fill="#707070"/>
<rect x="140.50" y="300.45" width="1" height="1" fill="#707070"/>
<rect x="143.30" y="300.45" width="1" height="1" fill="#707070"/>
<rect x="146.10" y="300.45" width="1" height="1" fill="#707070"/>
<rect x="148.90" y="300.45" width="1" height="1" fill="#707070"/>
<rect x="151.70" y="300.45" width="1" height="1" fill="#707070"/>
<rect x="154.50" y="300.45" width="1" height="1" fill="#707070"/>
<rect x="157.30" y="300.45" width="1" height="1" fill="#707070"/>
<rect x="160.10" y="300.45" width="1" height="1" fill="#707070"/>
<rect x="162.90" y="300.45" width="1" height="1" fill="#707070"/>
<rect x="133.80" y="308.29" width="1.2" height="4.34" fill="#303030"/>
<rect x="135.80" y="308.29" width="1.4" height="4.34" fill="#484848"/>
<rect x="137.90" y="308.29" width="1.4" height="4.34" fill="#484848"/>
<rect x="140.95" y="308.29" width="1.1" height="4.34" fill="#b0b0b0"/>
<rect x="142.70" y="308.29" width="1.6" height="4.34" fill="#606060"/>
<rect x="145.00" y="308.29" width="1.6" height="4.34" fill="#707070"/>
<rect x="147.30" y="308.29" width="1.6" height="4.34" fill="#707070"/>
<rect x="149.60" y="308.29" width="1.6" height="4.34" fill="#707070"/>
<rect x="151.95" y="308.29" width="1.5" height="4.34" fill="#686868"/>
<rect x="154.30" y="308.29" width="1.2" height="4.34" fill="#989898"/>
<rect x="157.00" y="308.29" width="3.4" height="4.34" fill="#585858"/>
<rect x="161.85" y="308.29" width="1.3" height="4.34" fill="#383838"/>
<rect x="164.50" y="308.29" width="1.2" height="4.34" fill="#303030"/>
<rect x="134.90" y="306.79" width="1" height="1" fill="#404040"/>
<rect x="137.70" y="306.79" width="1" height="1" fill="#404040"/>
<rect x="140.50" y="306.79" width="1" height="1" fill="#404040"/>
<rect x="143.30" y="306.79" width="1" height="1" fill="#404040"/>
<rect x="146.10" y="306.79" width="1" height="1" fill="#404040"/>
<rect x="148.90" y="306.79" width="1" height="1" fill="#404040"/>
<rect x="151.70" y="306.79" width="1" height="1" fill="#404040"/>
<rect x="154.50" y="306.79" width="1" height="1" fill="#404040"/>
<rect x="157.30" y="306.79" width="1" height="1" fill="#404040"/>
<rect x="160.10" y="306.79" width="1" height="1" fill="#404040"/>
<rect x="162.90" y="306.79" width="1" height="1" fill="#404040"/>
<rect x="133.80" y="314.63" width="1.2" height="4.34" fill="#303030"/>
<rect x="135.80" y="314.63" width="1.4" height="4.34" fill="#484848"/>
<rect x="137.90" y="314.63" width="1.4" height="4.34" fill="#484848"/>
<rect x="140.95" y="314.63" width="1.1" height="4.34" fill="#b0b0b0"/>
<rect x="142.70" y="314.63" width="1.6" height="4.34" fill="#606060"/>
<rect x="145.00" y="314.63" width="1.6" height="4.34" fill="#707070"/>
<rect x="147.30" y="314.63" width="1.6" height="4.34" fill="#707070"/>
<rect x="149.60" y="314.63" width="1.6" height="4.34" fill="#707070"/>
<rect x="151.95" y="314.63" width="1.5" height="4.34" fill="#686868"/>
<rect x="154.30" y="314.63" width="1.2" height="4.34" fill="#989898"/>
<rect x="157.00" y="314.63" width="3.4" height="4.34" fill="#585858"/>
<rect x="161.85" y="314.63" width="1.3" height="4.34" fill="#383838"/>
<rect x="164.50" y="314.63" width="1.2" height="4.34" fill="#303030"/>
<rect x="134.90" y="313.13" width="1" height="1" fill="#c8c8c8"/>
<rect x="137.70" y="313.13" width="1" height="1" fill="#c8c8c8"/>
<rect x="140.50" y="313.13" width="1" height="1" fill="#c8c8c8"/>
<rect x="143.30" y="313.13" width="1" height="1" fill="#c8c8c8"/>
<rect x="146.10" y="313.13" width="1" height="1" fill="#c8c8c8"/>
<rect x="148.90" y="313.13" width="1" height="1" fill="#c8c8c8"/>
<rect x="151.70" y="313.13" width="1" height="1" fill="#c8c8c8"/>
<rect x="154.50" y="313.13" width="1" height="1" fill="#c8c8c8"/>
<rect x="157.30" y="313.13" width="1" height="1" fill="#c8c8c8"/>
<rect x="160.10" y="313.13" width="1" height="1" fill="#c8c8c8"/>
<rect x="162.90" y="313.13" width="1" height="1" fill="#c8c8c8"/>
<rect x="133.80" y="320.98" width="1.2" height="4.34" fill="#303030"/>
<rect x="135.80" y="320.98" width="1.4" height="4.34" fill="#484848"/>
<rect x="137.90" y="320.98" width="1.4" height="4.34" fill="#484848"/>
<rect x="140.95" y="320.98" width="1.1" height="4.34" fill="#b0b0b0"/>
<rect x="142.70" y="320.98" width="1.6" height="4.34" fill="#606060"/>
<rect x="145.00" y="320.98" width="1.6" height="4.34" fill="#707070"/>
<rect x="147.30" y="320.98" width="1.6" height="4.34" fill="#707070"/>
<rect x="149.60" y="320.98" width="1.6" height="4.34" fill="#707070"/>
<rect x="151.95" y="320.98" width="1.5" height="4.34" fill="#686868"/>
<rect x="154.30" y="320.98" width="1.2" height="4.34" fill="#989898"/>
<rect x="157.00" y="320.98" width="3.4" height="4.34" fill="#585858"/>
<rect x="161.85" y="320.98" width="1.3" height="4.34" fill="#383838"/>
<rect x="164.50" y="320.98" width="1.2" height="4.34" fill="#303030"/>
<rect x="134.90" y="319.48" width="1" height="1" fill="#707070"/>
<rect x="137.70" y="319.48" width="1" height="1" fill="#707070"/>
<rect x="140.50" y="319.48" width="1" height="1" fill="#707070"/>
<rect x="143.30" y="319.48" width="1" height="1" fill="#707070"/>
<rect x="146.10" y="319.48" width="1" height="1" fill="#707070"/>
<rect x="148.90" y="319.48" width="1" height="1" fill="#707070"/>
<rect x="151.70" y="319.48" width="1" height="1" fill="#707070"/>
<rect x="154.50" y="319.48" width="1" height="1" fill="#707070"/>
<rect x="157.30" y="319.48" width="1" height="1" fill="#707070"/>
<rect x="160.10" y="319.48" width="1" height="1" fill="#707070"/>
<rect x="162.90" y="319.48" width="1" height="1" fill="#707070"/>
<rect x="133.80" y="327.32" width="1.2" height="4.34" fill="#303030"/>
<rect x="135.80" y="327.32" width="1.4" height="4.34" fill="#484848"/>
<rect x="137.90" y="327.32" width="1.4" height="4.34" fill="#484848"/>
<rect x="140.95" y="327.32" width="1.1" height="4.34" fill="#b0b0b0"/>
<rect x="142.70" y="327.32" width="1.6" height="4.34" fill="#606060"/>
<rect x="145.00" y="327.32" width="1.6" height="4.34" fill="#707070"/>
<rect x="147.30" y="327.32" width="1.6" height="4.34" fill="#707070"/>
<rect x="149.60" y="327.32" width="1.6" height="4.34" fill="#707070"/>
<rect x="151.95" y="327.32" width="1.5" height="4.34" fill="#686868"/>
<rect x="154.30" y="327.32" width="1.2" height="4.34" fill="#989898"/>
<rect x="157.00" y="327.32" width="3.4" height="4.34" fill="#585858"/>
<rect x="161.85" y="327.32" width="1.3" height="4.34" fill="#383838"/>
<rect x="164.50" y="327.32" width="1.2" height="4.34" fill="#303030"/>
<rect x="134.90" y="325.82" width="1" height="1" fill="#404040"/>
<rect x="137.70" y="325.82" width="1" height="1" fill="#404040"/>
<rect x="140.50" y="325.82" width="1" height="1" fill="#404040"/>
<rect x="143.30" y="325.82" width="1" height="1" fill="#404040"/>
<rect x="146.10" y="325.82" width="1" height="1" fill="#404040"/>
<rect x="148.90" y="325.82" width="1" height="1" fill="#404040"/>
<rect x="151.70" y="325.82" width="1" height="1" fill="#404040"/>
<rect x="154.50" y="325.82" width="1" height="1" fill="#404040"/>
<rect x="157.30" y="325.82" width="1" height="1" fill="#404040"/>
<rect x="160.10" y="325.82" width="1" height="1" fill="#404040"/>
<rect x="162.90" y="325.82" width="1" height="1" fill="#404040"/>
<rect x="133.80" y="333.66" width="1.2" height="4.34" fill="#303030"/>
<rect x="135.80" y="333.66" width="1.4" height="4.34" fill="#484848"/>
<rect x="137.90" y="333.66" width="1.4" height="4.34" fill="#484848"/>
<rect x="140.95" y="333.66" width="1.1" height="4.34" fill="#b0b0b0"/>
<rect x="142.70" y="333.66" width="1.6" height="4.34" fill="#606060"/>
<rect x="145.00" y="333.66" width="1.6" height="4.34" fill="#707070"/>
<rect x="147.30" y="333.66" width="1.6" height="4.34" fill="#707070"/>
<rect x="149.60" y="333.66" width="1.6" height="4.34" fill="#707070"/>
<rect x="151.95" y="333.66" width="1.5" height="4.34" fill="#686868"/>
<rect x="154.30" y="333.66" width="1.2" height="4.34" fill="#989898"/>
<rect x="157.00" y="333.66" width="3.4" height="4.34" fill="#585858"/>
<rect x="161.85" y="333.66" width="1.3" height="4.34" fill="#383838"/>
<rect x="164.50" y="333.66" width="1.2" height="4.34" fill="#303030"/>
<rect x="134.90" y="332.16" width="1" height="1" fill="#c8c8c8"/>
<rect x="137.70" y="332.16" width="1" height="1" fill="#c8c8c8"/>
<rect x="140.50" y="332.16" width="1" height="1" fill="#c8c8c8"/>
<rect x="143.30" y="332.16" width="1" height="1" fill="#c8c8c8"/>
<rect x="146.10" y="332.16" width="1" height="1" fill="#c8c8c8"/>
<rect x="148.90" y="332.16" width="1" height="1" fill="#c8c8c8"/>
<rect x="151.70" y="332.16" width="1" height="1" fill="#c8c8c8"/>
<rect x="154.50" y="332.16" width="1" height="1" fill="#c8c8c8"/>
<rect x="157.30" y="332.16" width="1" height="1" fill="#c8c8c8"/>
<rect x="160.10" y="332.16" width="1" height="1" fill="#c8c8c8"/>
<rect x="162.90" y="332.16" width="1" height="1" fill="#c8c8c8"/>
<rect x="133.80" y="340.00" width="1.2" height="4.34" fill="#303030"/>
<rect x="135.80" y="340.00" width="1.4" height="4.34" fill="#484848"/>
<rect x="137.90" y="340.00" width="1.4" height="4.34" fill="#484848"/>
<rect x="140.95" y="340.00" width="1.1" height="4.34" fill="#b0b0b0"/>
<rect x="142.70" y="340.00" width="1.6" height="4.34" fill="#606060"/>
<rect x="145.00" y="340.00" width="1.6" height="4.34" fill="#707070"/>
<rect x="147.30" y="340.00" width="1.6" height="4.34" fill="#707070"/>
<rect x="149.60" y="340.00" width="1.6" height="4.34" fill="#707070"/>
<rect x="151.95" y="340.00" width="1.5" height="4.34" fill="#686868"/>
<rect x="154.30" y="340.00" width="1.2" height="4.34" fill="#989898"/>
<rect x="157.00" y="340.00" width="3.4" height="4.34" fill="#585858"/>
<rect x="161.85" y="340.00" width="1.3" height="4.34" fill="#383838"/>
<rect x="164.50" y="340.00" width="1.2" height="4.34" fill="#303030"/>
<rect x="134.90" y="338.50" width="1" height="1" fill="#707070"/>
<rect x="137.70" y="338.50" width="1" height="1" fill="#707070"/>
<rect x="140.50" y="338.50" width="1" height="1" fill="#707070"/>
<rect x="143.30" y="338.50" width="1" height="1" fill="#707070"/>
<rect x="146.10" y="338.50" width="1" height="1" fill="#707070"/>
<rect x="148.90" y="338.50" width="1" height="1" fill="#707070"/>
<rect x="151.70" y="338.50" width="1" height="1" fill="#707070"/>
<rect x="154.50" y="338.50" width="1" height="1" fill="#707070"/>
<rect x="157.30" y="338.50" width="1" height="1" fill="#707070"/>
<rect x="160.10" y="338.50" width="1" height="1" fill="#707070"/>
<rect x="162.90" y="338.50" width="1" height="1" fill="#707070"/>
<rect x="133.80" y="346.34" width="1.2" height="4.34" fill="#303030"/>
<rect x="135.80" y="346.34" width="1.4" height="4.34" fill="#484848"/>
<rect x="137.90" y="346.34" width="1.4" height="4.34" fill="#484848"/>
<rect x="140.95" y="346.34" width="1.1" height="4.34" fill="#b0b0b0"/>
<rect x="142.70" y="346.34" width="1.6" height="4.34" fill="#606060"/>
<rect x="145.00" y="346.34" width="1.6" height="4.34" fill="#707070"/>
<rect x="147.30" y="346.34" width="1.6" height="4.34" fill="#707070"/>
<rect x="149.60" y="346.34" width="1.6" height="4.34" fill="#707070"/>
<rect x="151.95" y="346.34" width="1.5" height="4.34" fill="#686868"/>
<rect x="154.30" y="346.34" width="1.2" height="4.34" fill="#989898"/>
<rect x="157.00" y="346.34" width="3.4" height="4.34" fill="#585858"/>
<rect x="161.85" y="346.34" width="1.3" height="4.34" fill="#383838"/>
<rect x="164.50" y="346.34" width="1.2" height="4.34" fill="#303030"/>
<rect x="134.90" y="344.84" width="1" height="1" fill="#404040"/>
<rect x="137.70" y="344.84" width="1" height="1" fill="#404040"/>
<rect x="140.50" y="344.84" width="1" height="1" fill="#404040"/>
<rect x="143.30" y="344.84" width="1" height="1" fill="#404040"/>
<rect x="146.10" y="344.84" width="1" height="1" fill="#404040"/>
<rect x="148.90" y="344.84" width="1" height="1" fill="#404040"/>
<rect x="151.70" y="344.84" width="1" height="1" fill="#404040"/>
<rect x="154.50" y="344.84" width="1" height="1" fill="#404040"/>
<rect x="157.30" y="344.84" width="1" height="1" fill="#404040"/>
<rect x="160.10" y="344.84" width="1" height="1" fill="#404040"/>
<rect x="162.90" y="344.84" width="1" height="1" fill="#404040"/>
<rect x="133.80" y="352.69" width="1.2" height="4.34" fill="#303030"/>
<rect x="135.80" y="352.69" width="1.4" height="4.34" fill="#484848"/>
<rect x="137.90" y="352.69" width="1.4" height="4.34" fill="#484848"/>
<rect x="140.95" y="352.69" width="1.1" height="4.34" fill="#b0b0b0"/>
<rect x="142.70" y="352.69" width="1.6" height="4.34" fill="#606060"/>
<rect x="145.00" y="352.69" width="1.6" height="4.34" fill="#707070"/>
<rect x="147.30" y="352.69" width="1.6" height="4.34" fill="#707070"/>
<rect x="149.60" y="352.69" width="1.6" height="4.34" fill="#707070"/>
<rect x="151.95" y="352.69" width="1.5" height="4.34" fill="#686868"/>
<rect x="154.30" y="352.69" width="1.2" height="4.34" fill="#989898"/>
<rect x="157.00" y="352.69" width="3.4" height="4.34" fill="#585858"/>
<rect x="161.85" y="352.69" width="1.3" height="4.34" fill="#383838"/>
<rect x="164.50" y="352.69" width="1.2" height="4.34" fill="#303030"/>
<rect x="134.90" y="351.19" width="1" height="1" fill="#c8c8c8"/>
<rect x="137.70" y="351.19" width="1" height="1" fill="#c8c8c8"/>
<rect x="140.50" y="351.19" width="1" height="1" fill="#c8c8c8"/>
<rect x="143.30" y="351.19" width="1" height="1" fill="#c8c8c8"/>
<rect x="146.10" y="351.19" width="1" height="1" fill="#c8c8c8"/>
<rect x="148.90" y="351.19" width="1" height="1" fill="#c8c8c8"/>
<rect x="151.70" y="351.19" width="1" height="1" fill="#c8c8c8"/>
<rect x="154.50" y="351.19" width="1" height="1" fill="#c8c8c8"/>
<rect x="157.30" y="351.19" width="1" height="1" fill="#c8c8c8"/>
<rect x="160.10" y="351.19" width="1" height="1" fill="#c8c8c8"/>
<rect x="162.90" y="351.19" width="1" height="1" fill="#c8c8c8"/>
<rect x="133.80" y="359.03" width="1.2" height="4.34" fill="#303030"/>
<rect x="135.80" y="359.03" width="1.4" height="4.34" fill="#484848"/>
<rect x="137.90" y="359.03" width="1.4" height="4.34" fill="#484848"/>
<rect x="140.95" y="359.03" width="1.1" height="4.34" fill="#b0b0b0"/>
<rect x="142.70" y="359.03" width="1.6" height="4.34" fill="#606060"/>
<rect x="145.00" y="359.03" width="1.6" height="4.34" fill="#707070"/>
<rect x="147.30" y="359.03" width="1.6" height="4.34" fill="#707070"/>
<rect x="149.60" y="359.03" width="1.6" height="4.34" fill="#707070"/>
<rect x="151.95" y="359.03" width="1.5" height="4.34" fill="#686868"/>
<rect x="154.30" y="359.03" width="1.2" height="4.34" fill="#989898"/>
<rect x="157.00" y="359.03" width="3.4" height="4.34" fill="#585858"/>
<rect x="161.85" y="359.03" width="1.3" height="4.34" fill="#383838"/>
<rect x="164.50" y="359.03" width="1.2" height="4.34" fill="#303030"/>
<rect x="134.90" y="357.53" width="1" height="1" fill="#707070"/>
<rect x="137.70" y="357.53" width="1" height="1" fill="#707070"/>
<rect x="140.50" y="357.53" width="1" height="1" fill="#707070"/>
<rect x="143.30" y="357.53" width="1" height="1" fill="#707070"/>
<rect x="146.10" y="357.53" width="1" height="1" fill="#707070"/>
<rect x="148.90" y="357.53" width="1" height="1" fill="#707070"/>
<rect x="151.70" y="357.53" width="1" height="1" fill="#707070"/>
<rect x="154.50" y="357.53" width="1" height="1" fill="#707070"/>
<rect x="157.30" y="357.53" width="1" height="1" fill="#707070"/>
<rect x="160.10" y="357.53" width="1" height="1" fill="#707070"/>
<rect x="162.90" y="357.53" width="1" height="1" fill="#707070"/>
<rect x="133.80" y="365.37" width="1.2" height="4.34" fill="#303030"/>
<rect x="135.80" y="365.37" width="1.4" height="4.34" fill="#484848"/>
<rect x="137.90" y="365.37" width="1.4" height="4.34" fill="#484848"/>
<rect x="140.95" y="365.37" width="1.1" height="4.34" fill="#b0b0b0"/>
<rect x="142.70" y="365.37" width="1.6" height="4.34" fill="#606060"/>
<rect x="145.00" y="365.37" width="1.6" height="4.34" fill="#707070"/>
<rect x="147.30" y="365.37" width="1.6" height="4.34" fill="#707070"/>
<rect x="149.60" y="365.37" width="1.6" height="4.34" fill="#707070"/>
<rect x="151.95" y="365.37" width="1.5" height="4.34" fill="#686868"/>
<rect x="154.30" y="365.37" width="1.2" height="4.34" fill="#989898"/>
<rect x="157.00" y="365.37" width="3.4" height="4.34" fill="#585858"/>
<rect x="161.85" y="365.37" width="1.3" height="4.34" fill="#383838"/>
<rect x="164.50" y="365.37" width="1.2" height="4.34" fill="#303030"/>
<rect x="134.90" y="363.87" width="1" height="1" fill="#404040"/>
<rect x="137.70" y="363.87" width="1" height="1" fill="#404040"/>
<rect x="140.50" y="363.87" width="1" height="1" fill="#404040"/>
<rect x="143.30" y="363.87" width="1" height="1" fill="#404040"/>
<rect x="146.10" y="363.87" width="1" height="1" fill="#404040"/>
<rect x="148.90" y="363.87" width="1" height="1" fill="#404040"/>
<rect x="151.70" y="363.87" width="1" height="1" fill="#404040"/>
<rect x="154.50" y="363.87" width="1" height="1" fill="#404040"/>
<rect x="157.30" y="363.87" width="1" height="1" fill="#404040"/>
<rect x="160.10" y="363.87" width="1" height="1" fill="#404040"/>
<rect x="162.90" y="363.87" width="1" height="1" fill="#404040"/>
<rect x="133.80" y="371.71" width="1.2" height="4.34" fill="#303030"/>
<rect x="135.80" y="371.71" width="1.4" height="4.34" fill="#484848"/>
<rect x="137.90" y="371.71" width="1.4" height="4.34" fill="#484848"/>
<rect x="140.95" y="371.71" width="1.1" height="4.34" fill="#b0b0b0"/>
<rect x="142.70" y="371.71" width="1.6" height="4.34" fill="#606060"/>
<rect x="145.00" y="371.71" width="1.6" height="4.34" fill="#707070"/>
<rect x="147.30" y="371.71" width="1.6" height="4.34" fill="#707070"/>
<rect x="149.60" y="371.71" width="1.6" height="4.34" fill="#707070"/>
<rect x="151.95" y="371.71" width="1.5" height="4.34" fill="#686868"/>
<rect x="154.30" y="371.71" width="1.2" height="4.34" fill="#989898"/>
<rect x="157.00" y="371.71" width="3.4" height="4.34" fill="#585858"/>
<rect x="161.85" y="371.71" width="1.3" height="4.34" fill="#383838"/>
<rect x="164.50" y="371.71" width="1.2" height="4.34" fill="#303030"/>
<rect x="134.90" y="370.21" width="1" height="1" fill="#c8c8c8"/>
<rect x="137.70" y="370.21" width="1" height="1" fill="#c8c8c8"/>
<rect x="140.50" y="370.21" width="1" height="1" fill="#c8c8c8"/>
<rect x="143.30" y="370.21" width="1" height="1" fill="#c8c8c8"/>
<rect x="146.10" y="370.21" width="1" height="1" fill="#c8c8c8"/>
<rect x="148.90" y="370.21" width="1" height="1" fill="#c8c8c8"/>
<rect x="151.70" y="370.21" width="1" height="1" fill="#c8c8c8"/>
<rect x="154.50" y="370.21" width="1" height="1" fill="#c8c8c8"/>
<rect x="157.30" y="370.21" width="1" height="1" fill="#c8c8c8"/>
<rect x="160.10" y="370.21" width="1" height="1" fill="#c8c8c8"/>
<rect x="162.90" y="370.21" width="1" height="1" fill="#c8c8c8"/>
<rect x="133.80" y="378.05" width="1.2" height="4.34" fill="#303030"/>
<rect x="135.80" y="378.05" width="1.4" height="4.34" fill="#484848"/>
<rect x="137.90" y="378.05" width="1.4" height="4.34" fill="#484848"/>
<rect x="140.95" y="378.05" width="1.1" height="4.34" fill="#b0b0b0"/>
<rect x="142.70" y="378.05" width="1.6" height="4.34" fill="#606060"/>
<rect x="145.00" y="378.05" width="1.6" height="4.34" fill="#707070"/>
<rect x="147.30" y="378.05" width="1.6" height="4.34" fill="#707070"/>
<rect x="149.60" y="378.05" width="1.6" height="4.34" fill="#707070"/>
<rect x="151.95" y="378.05" width="1.5" height="4.34" fill="#686868"/>
<rect x="154.30" y="378.05" width="1.2" height="4.34" fill="#989898"/>
<rect x="157.00" y="378.05" width="3.4" height="4.34" fill="#585858"/>
<rect x="161.85" y="378.05" width="1.3" height="4.34" fill="#383838"/>
<rect x="164.50" y="378.05" width="1.2" height="4.34" fill="#303030"/>
<rect x="134.90" y="376.55" width="1" height="1" fill="#707070"/>
<rect x="137.70" y="376.55" width="1" height="1" fill="#707070"/>
<rect x="140.50" y="376.55" width="1" height="1" fill="#707070"/>
<rect x="143.30" y="376.55" width="1" height="1" fill="#707070"/>
<rect x="146.10" y="376.55" width="1" height="1" fill="#707070"/>
<rect x="148.90" y="376.55" width="1" height="1" fill="#707070"/>
<rect x="151.70" y="376.55" width="1" height="1" fill="#707070"/>
<rect x="154.50" y="376.55" width="1" height="1" fill="#707070"/>
<rect x="157.30" y="376.55" width="1" height="1" fill="#707070"/>
<rect x="160.10" y="376.55" width="1" height="1" fill="#707070"/>
<rect x="162.90" y="376.55" width="1" height="1" fill="#707070"/>
<rect x="133.80" y="384.40" width="1.2" height="4.34" fill="#303030"/>
<rect x="135.80" y="384.40" width="1.4" height="4.34" fill="#484848"/>
<rect x="137.90" y="384.40" width="1.4" height="4.34" fill="#484848"/>
<rect x="140.95" y="384.40" width="1.1" height="4.34" fill="#b0b0b0"/>
<rect x="142.70" y="384.40" width="1.6" height="4.34" fill="#606060"/>
<rect x="145.00" y="384.40" width="1.6" height="4.34" fill="#707070"/>
<rect x="147.30" y="384.40" width="1.6" height="4.34" fill="#707070"/>
<rect x="149.60" y="384.40" width="1.6" height="4.34" fill="#707070"/>
<rect x="151.95" y="384.40" width="1.5" height="4.34" fill="#686868"/>
<rect x="154.30" y="384.40" width="1.2" height="4.34" fill="#989898"/>
<rect x="157.00" y="384.40" width="3.4" height="4.34" fill="#585858"/>
<rect x="161.85" y="384.40" width="1.3" height="4.34" fill="#383838"/>
<rect x="164.50" y="384.40" width="1.2" height="4.34" fill="#303030"/>
<rect x="134.90" y="382.90" width="1" height="1" fill="#404040"/>
<rect x="137.70" y="382.90" width="1" height="1" fill="#404040"/>
<rect x="140.50" y="382.90" width="1" height="1" fill="#404040"/>
<rect x="143.30" y="382.90" width="1" height="1" fill="#404040"/>
<rect x="146.10" y="382.90" width="1" height="1" fill="#404040"/>
<rect x="148.90" y="382.90" width="1" height="1" fill="#404040"/>
<rect x="151.70" y="382.90" width="1" height="1" fill="#404040"/>
<rect x="154.50" y="382.90" width="1" height="1" fill="#404040"/>
<rect x="157.30" y="382.90" width="1" height="1" fill="#404040"/>
<rect x="160.10" y="382.90" width="1" height="1" fill="#404040"/>
<rect x="162.90" y="382.90" width="1" height="1" fill="#404040"/>
<rect x="130.8" y="141" width="37.0" height="1.9" fill="#000"/>
</g>
<g fill="none" stroke="#000" stroke-width="1">
<path d="M141,160 A8.55,8.55 0 0 1 158.1,160 L158.1,185.5 A8.55,5 0 0 1 141,185.5 Z" fill="#fff" stroke="#000" stroke-width="1.6"/>
<ellipse cx="149.6" cy="185.6" rx="8.3" ry="4.7" fill="#000" stroke="none"/>
<rect x="127" y="389.5" width="45.6" height="3.8" fill="#fff" stroke-width="1.1"/>
</g>
<clipPath id="h1"><rect x="98.3" y="393.3" width="36.3" height="36.39999999999998"/></clipPath>
<g clip-path="url(#h1)" stroke="#000" stroke-width="1.15">
<line x1="68.00" y1="429.7" x2="104.40" y2="393.3"/>
<line x1="73.15" y1="429.7" x2="109.55" y2="393.3"/>
<line x1="78.30" y1="429.7" x2="114.70" y2="393.3"/>
<line x1="83.45" y1="429.7" x2="119.85" y2="393.3"/>
<line x1="88.60" y1="429.7" x2="125.00" y2="393.3"/>
<line x1="93.75" y1="429.7" x2="130.15" y2="393.3"/>
<line x1="98.90" y1="429.7" x2="135.30" y2="393.3"/>
<line x1="104.05" y1="429.7" x2="140.45" y2="393.3"/>
<line x1="109.20" y1="429.7" x2="145.60" y2="393.3"/>
<line x1="114.35" y1="429.7" x2="150.75" y2="393.3"/>
<line x1="119.50" y1="429.7" x2="155.90" y2="393.3"/>
<line x1="124.65" y1="429.7" x2="161.05" y2="393.3"/>
<line x1="129.80" y1="429.7" x2="166.20" y2="393.3"/>
</g>
<rect x="98.3" y="393.3" width="36.3" height="36.39999999999998" fill="none" stroke="#000" stroke-width="1.3"/>
<clipPath id="h2"><rect x="164.6" y="393.3" width="37.099999999999994" height="36.39999999999998"/></clipPath>
<g clip-path="url(#h2)" stroke="#000" stroke-width="1.15">
<line x1="130.60" y1="429.7" x2="167.00" y2="393.3"/>
<line x1="135.75" y1="429.7" x2="172.15" y2="393.3"/>
<line x1="140.90" y1="429.7" x2="177.30" y2="393.3"/>
<line x1="146.05" y1="429.7" x2="182.45" y2="393.3"/>
<line x1="151.20" y1="429.7" x2="187.60" y2="393.3"/>
<line x1="156.35" y1="429.7" x2="192.75" y2="393.3"/>
<line x1="161.50" y1="429.7" x2="197.90" y2="393.3"/>
<line x1="166.65" y1="429.7" x2="203.05" y2="393.3"/>
<line x1="171.80" y1="429.7" x2="208.20" y2="393.3"/>
<line x1="176.95" y1="429.7" x2="213.35" y2="393.3"/>
<line x1="182.10" y1="429.7" x2="218.50" y2="393.3"/>
<line x1="187.25" y1="429.7" x2="223.65" y2="393.3"/>
<line x1="192.40" y1="429.7" x2="228.80" y2="393.3"/>
<line x1="197.55" y1="429.7" x2="233.95" y2="393.3"/>
</g>
<rect x="164.6" y="393.3" width="37.099999999999994" height="36.39999999999998" fill="none" stroke="#000" stroke-width="1.3"/>
<g fill="none" stroke="#000" stroke-width="1">
<rect x="127" y="429.7" width="45.6" height="1.8" fill="#fff" stroke-width="1"/>
<rect x="127" y="431.5" width="45.6" height="13.8" stroke-width="1.1"/>
<rect x="130.5" y="432" width="2.5" height="4.5" stroke-width="0.8"/>
<rect x="166.5" y="432" width="2.5" height="4.5" stroke-width="0.8"/>
<rect x="131" y="445.3" width="37.3" height="9.1" stroke-width="1.1"/>
<line x1="134.6" y1="429.7" x2="134.6" y2="454.4" stroke="#333"/>
<line x1="164.6" y1="429.7" x2="164.6" y2="454.4" stroke="#333"/>
</g>
<clipPath id="cb13944557"><rect x="140.15" y="455.75" width="7.099999999999994" height="63.10000000000002"/></clipPath>
<g clip-path="url(#cb13944557)">
<polyline points="146.3,455.8 146.2,456.5 146.1,457.2 145.8,457.9 145.5,458.6 145.1,459.3 144.7,460.0 144.2,460.7 143.7,461.4 143.2,462.1 142.7,462.8 142.3,463.5 141.9,464.2 141.6,464.9 141.3,465.6 141.2,466.3 141.1,467.0 141.2,467.7 141.3,468.4 141.6,469.1 141.9,469.8 142.3,470.5 142.7,471.2 143.2,471.9 143.7,472.6 144.2,473.3 144.7,474.0 145.1,474.7 145.5,475.4 145.8,476.1 146.1,476.8 146.2,477.5 146.3,478.2 146.2,478.9 146.1,479.6 145.8,480.3 145.5,481.0 145.1,481.7 144.7,482.4 144.2,483.1 143.7,483.8 143.2,484.5 142.7,485.2 142.3,485.9 141.9,486.6 141.6,487.3 141.3,488.0 141.2,488.7 141.1,489.4 141.2,490.1 141.3,490.8 141.6,491.5 141.9,492.2 142.3,492.9 142.7,493.6 143.2,494.3 143.7,495.0 144.2,495.7 144.7,496.4 145.1,497.1 145.5,497.8 145.8,498.5 146.1,499.2 146.2,499.9 146.3,500.6 146.2,501.3 146.1,502.0 145.8,502.7 145.5,503.4 145.1,504.1 144.7,504.8 144.2,505.5 143.7,506.2 143.2,506.9 142.7,507.6 142.3,508.3 141.9,509.0 141.6,509.7 141.3,510.4 141.2,511.1 141.1,511.8 141.2,512.5 141.4,513.2 141.6,513.9 141.9,514.6 142.3,515.3 142.8,516.0 143.2,516.7 143.7,517.4 144.2,518.1 144.7,518.9" fill="none" stroke="#000" stroke-width="1.4"/>
<polyline points="141.1,455.8 141.2,456.5 141.3,457.2 141.6,457.9 141.9,458.6 142.3,459.3 142.7,460.0 143.2,460.7 143.7,461.4 144.2,462.1 144.7,462.8 145.1,463.5 145.5,464.2 145.8,464.9 146.1,465.6 146.2,466.3 146.3,467.0 146.2,467.7 146.1,468.4 145.8,469.1 145.5,469.8 145.1,470.5 144.7,471.2 144.2,471.9 143.7,472.6 143.2,473.3 142.7,474.0 142.3,474.7 141.9,475.4 141.6,476.1 141.3,476.8 141.2,477.5 141.1,478.2 141.2,478.9 141.3,479.6 141.6,480.3 141.9,481.0 142.3,481.7 142.7,482.4 143.2,483.1 143.7,483.8 144.2,484.5 144.7,485.2 145.1,485.9 145.5,486.6 145.8,487.3 146.1,488.0 146.2,488.7 146.3,489.4 146.2,490.1 146.1,490.8 145.8,491.5 145.5,492.2 145.1,492.9 144.7,493.6 144.2,494.3 143.7,495.0 143.2,495.7 142.7,496.4 142.3,497.1 141.9,497.8 141.6,498.5 141.3,499.2 141.2,499.9 141.1,500.6 141.2,501.3 141.3,502.0 141.6,502.7 141.9,503.4 142.3,504.1 142.7,504.8 143.2,505.5 143.7,506.2 144.2,506.9 144.7,507.6 145.1,508.3 145.5,509.0 145.8,509.7 146.1,510.4 146.2,511.1 146.3,511.8 146.2,512.5 146.0,513.2 145.8,513.9 145.5,514.6 145.1,515.3 144.6,516.0 144.2,516.7 143.7,517.4 143.2,518.1 142.7,518.9" fill="none" stroke="#000" stroke-width="1.4"/>
</g>
<rect x="140.15" y="455.75" width="7.099999999999994" height="63.10000000000002" fill="none" stroke="#000" stroke-width="1.5"/>
<clipPath id="cb13945231"><rect x="140.15" y="523.15" width="7.099999999999994" height="44.0"/></clipPath>
<g clip-path="url(#cb13945231)">
<polyline points="146.3,523.1 146.2,523.9 146.0,524.6 145.8,525.3 145.4,526.0 145.0,526.7 144.5,527.4 144.0,528.1 143.5,528.8 143.0,529.5 142.6,530.2 142.1,531.0 141.8,531.7 141.5,532.4 141.3,533.1 141.2,533.8 141.2,534.5 141.2,535.2 141.4,535.9 141.7,536.6 142.1,537.3 142.5,538.1 143.0,538.8 143.5,539.5 144.0,540.2 144.5,540.9 144.9,541.6 145.4,542.3 145.7,543.0 146.0,543.7 146.2,544.4 146.2,545.1 146.2,545.9 146.1,546.6 145.9,547.3 145.6,548.0 145.2,548.7 144.8,549.4 144.3,550.1 143.8,550.8 143.3,551.5 142.8,552.2 142.4,553.0 142.0,553.7 141.6,554.4 141.4,555.1 141.2,555.8 141.1,556.5 141.2,557.2 141.3,557.9 141.5,558.6 141.9,559.3 142.3,560.1 142.7,560.8 143.2,561.5 143.7,562.2 144.2,562.9 144.7,563.6 145.1,564.3 145.5,565.0 145.8,565.7 146.1,566.4 146.2,567.1" fill="none" stroke="#000" stroke-width="1.4"/>
<polyline points="141.1,523.1 141.2,523.9 141.4,524.6 141.6,525.3 142.0,526.0 142.4,526.7 142.9,527.4 143.4,528.1 143.9,528.8 144.4,529.5 144.8,530.2 145.3,531.0 145.6,531.7 145.9,532.4 146.1,533.1 146.2,533.8 146.2,534.5 146.2,535.2 146.0,535.9 145.7,536.6 145.3,537.3 144.9,538.1 144.4,538.8 143.9,539.5 143.4,540.2 142.9,540.9 142.5,541.6 142.0,542.3 141.7,543.0 141.4,543.7 141.2,544.4 141.2,545.1 141.2,545.9 141.3,546.6 141.5,547.3 141.8,548.0 142.2,548.7 142.6,549.4 143.1,550.1 143.6,550.8 144.1,551.5 144.6,552.2 145.0,553.0 145.4,553.7 145.8,554.4 146.0,555.1 146.2,555.8 146.3,556.5 146.2,557.2 146.1,557.9 145.9,558.6 145.5,559.3 145.1,560.1 144.7,560.8 144.2,561.5 143.7,562.2 143.2,562.9 142.7,563.6 142.3,564.3 141.9,565.0 141.6,565.7 141.3,566.4 141.2,567.1" fill="none" stroke="#000" stroke-width="1.4"/>
</g>
<rect x="140.15" y="523.15" width="7.099999999999994" height="44.0" fill="none" stroke="#000" stroke-width="1.5"/>
<clipPath id="cb15134557"><rect x="152.05" y="455.75" width="7.0" height="63.10000000000002"/></clipPath>
<g clip-path="url(#cb15134557)">
<polyline points="158.1,455.8 158.0,456.5 157.9,457.2 157.7,457.9 157.4,458.6 157.0,459.3 156.5,460.0 156.1,460.7 155.6,461.4 155.1,462.1 154.6,462.8 154.2,463.5 153.8,464.2 153.5,464.9 153.2,465.6 153.1,466.3 153.0,467.0 153.1,467.7 153.2,468.4 153.4,469.1 153.8,469.8 154.1,470.5 154.6,471.2 155.0,471.9 155.5,472.6 156.0,473.3 156.5,474.0 156.9,474.7 157.3,475.4 157.6,476.1 157.9,476.8 158.0,477.5 158.1,478.2 158.0,478.9 157.9,479.6 157.6,480.3 157.3,481.0 157.0,481.7 156.5,482.4 156.0,483.1 155.6,483.8 155.1,484.5 154.6,485.2 154.2,485.9 153.8,486.6 153.5,487.3 153.2,488.0 153.1,488.7 153.0,489.4 153.1,490.1 153.2,490.8 153.5,491.5 153.8,492.2 154.2,492.9 154.6,493.6 155.1,494.3 155.6,495.0 156.1,495.7 156.5,496.4 157.0,497.1 157.3,497.8 157.7,498.5 157.9,499.2 158.0,499.9 158.1,500.6 158.0,501.3 157.9,502.0 157.6,502.7 157.3,503.4 156.9,504.1 156.5,504.8 156.0,505.5 155.5,506.2 155.0,506.9 154.6,507.6 154.1,508.3 153.8,509.0 153.4,509.7 153.2,510.4 153.1,511.1 153.0,511.8 153.1,512.5 153.2,513.2 153.5,513.9 153.8,514.6 154.2,515.3 154.6,516.0 155.1,516.7 155.6,517.4 156.1,518.1 156.5,518.9" fill="none" stroke="#000" stroke-width="1.4"/>
<polyline points="153.0,455.8 153.1,456.5 153.2,457.2 153.4,457.9 153.7,458.6 154.1,459.3 154.6,460.0 155.0,460.7 155.5,461.4 156.0,462.1 156.5,462.8 156.9,463.5 157.3,464.2 157.6,464.9 157.9,465.6 158.0,466.3 158.1,467.0 158.0,467.7 157.9,468.4 157.7,469.1 157.3,469.8 157.0,470.5 156.5,471.2 156.1,471.9 155.6,472.6 155.1,473.3 154.6,474.0 154.2,474.7 153.8,475.4 153.5,476.1 153.2,476.8 153.1,477.5 153.0,478.2 153.1,478.9 153.2,479.6 153.5,480.3 153.8,481.0 154.1,481.7 154.6,482.4 155.1,483.1 155.5,483.8 156.0,484.5 156.5,485.2 156.9,485.9 157.3,486.6 157.6,487.3 157.9,488.0 158.0,488.7 158.1,489.4 158.0,490.1 157.9,490.8 157.6,491.5 157.3,492.2 156.9,492.9 156.5,493.6 156.0,494.3 155.5,495.0 155.0,495.7 154.6,496.4 154.1,497.1 153.8,497.8 153.4,498.5 153.2,499.2 153.1,499.9 153.0,500.6 153.1,501.3 153.2,502.0 153.5,502.7 153.8,503.4 154.2,504.1 154.6,504.8 155.1,505.5 155.6,506.2 156.1,506.9 156.5,507.6 157.0,508.3 157.3,509.0 157.7,509.7 157.9,510.4 158.0,511.1 158.1,511.8 158.0,512.5 157.9,513.2 157.6,513.9 157.3,514.6 156.9,515.3 156.5,516.0 156.0,516.7 155.5,517.4 155.0,518.1 154.6,518.9" fill="none" stroke="#000" stroke-width="1.4"/>
</g>
<rect x="152.05" y="455.75" width="7.0" height="63.10000000000002" fill="none" stroke="#000" stroke-width="1.5"/>
<clipPath id="cb15135231"><rect x="152.05" y="523.15" width="7.0" height="44.0"/></clipPath>
<g clip-path="url(#cb15135231)">
<polyline points="158.1,523.1 158.0,523.9 157.8,524.6 157.6,525.3 157.2,526.0 156.8,526.7 156.4,527.4 155.9,528.1 155.4,528.8 154.9,529.5 154.4,530.2 154.0,531.0 153.6,531.7 153.4,532.4 153.2,533.1 153.0,533.8 153.0,534.5 153.1,535.2 153.3,535.9 153.6,536.6 153.9,537.3 154.4,538.1 154.8,538.8 155.3,539.5 155.8,540.2 156.3,540.9 156.8,541.6 157.2,542.3 157.5,543.0 157.8,543.7 158.0,544.4 158.1,545.1 158.0,545.9 157.9,546.6 157.7,547.3 157.4,548.0 157.1,548.7 156.6,549.4 156.2,550.1 155.7,550.8 155.2,551.5 154.7,552.2 154.2,553.0 153.8,553.7 153.5,554.4 153.3,555.1 153.1,555.8 153.0,556.5 153.1,557.2 153.2,557.9 153.4,558.6 153.7,559.3 154.1,560.1 154.6,560.8 155.0,561.5 155.5,562.2 156.0,562.9 156.5,563.6 157.0,564.3 157.3,565.0 157.7,565.7 157.9,566.4 158.0,567.1" fill="none" stroke="#000" stroke-width="1.4"/>
<polyline points="153.0,523.1 153.1,523.9 153.3,524.6 153.5,525.3 153.9,526.0 154.3,526.7 154.7,527.4 155.2,528.1 155.7,528.8 156.2,529.5 156.7,530.2 157.1,531.0 157.5,531.7 157.7,532.4 157.9,533.1 158.1,533.8 158.1,534.5 158.0,535.2 157.8,535.9 157.5,536.6 157.2,537.3 156.7,538.1 156.3,538.8 155.8,539.5 155.3,540.2 154.8,540.9 154.3,541.6 153.9,542.3 153.6,543.0 153.3,543.7 153.1,544.4 153.0,545.1 153.1,545.9 153.2,546.6 153.4,547.3 153.7,548.0 154.0,548.7 154.5,549.4 154.9,550.1 155.4,550.8 155.9,551.5 156.4,552.2 156.9,553.0 157.3,553.7 157.6,554.4 157.8,555.1 158.0,555.8 158.1,556.5 158.0,557.2 157.9,557.9 157.7,558.6 157.4,559.3 157.0,560.1 156.5,560.8 156.1,561.5 155.6,562.2 155.1,562.9 154.6,563.6 154.1,564.3 153.8,565.0 153.4,565.7 153.2,566.4 153.1,567.1" fill="none" stroke="#000" stroke-width="1.4"/>
</g>
<rect x="152.05" y="523.15" width="7.0" height="44.0" fill="none" stroke="#000" stroke-width="1.5"/>
<g fill="none" stroke="#000" stroke-width="1">
<rect x="139.8" y="568" width="8" height="14.5" stroke-width="1"/>
<rect x="151.5" y="568" width="8" height="14.5" stroke-width="1"/>
<rect x="142" y="573" width="3.5" height="9.5" stroke-width="0.8"/>
<rect x="153.7" y="573" width="3.5" height="9.5" stroke-width="0.8"/>
<rect x="134.6" y="582.5" width="30" height="8.2" fill="#fff" stroke-width="1.2"/>
<line x1="146.8" y1="582.5" x2="146.8" y2="590.7"/>
<line x1="155.4" y1="582.5" x2="155.4" y2="590.7"/>
<g stroke="#242424" stroke-width="1.15">
  <line x1="134.5" y1="454.4" x2="134.5" y2="486.5"/>
  <line x1="164.5" y1="454.4" x2="164.5" y2="486.5"/>
  <line x1="127" y1="482.5" x2="214.7" y2="482.5"/>
</g>
<use href="#arr" transform="translate(134.5,482.5) rotate(0)"/>
<use href="#arr" transform="translate(164.5,482.5) rotate(180)"/>
<line x1="124" y1="307.9" x2="208" y2="307.9" stroke="#4a4a4a" stroke-width="1.25"/>
<use href="#arr" transform="translate(131,308) rotate(0)"/>
<use href="#arr" transform="translate(167.6,308) rotate(180)"/>
<g stroke="#4a4a4a" stroke-width="1.25">
  <line x1="395" y1="86" x2="395" y2="350.5"/>
  <line x1="565.7" y1="86.4" x2="565.7" y2="180.6"/>
  <line x1="395" y1="89.7" x2="565.7" y2="89.7"/>
</g>
<use href="#arr" transform="translate(395,89.7) rotate(180)"/>
<use href="#arr" transform="translate(565.7,89.7) rotate(0)"/>
<path d="M399.4,117.3 L435.5,117.3 L435.5,141.3 L417.4,141.3 L399.4,132.7 Z" fill="#fff" stroke-width="1.2"/>
<path d="M400.5,141.3 Q401.5,136.5 404,135" stroke-width="0.9"/>
<path d="M435.5,122 L490.5,120.5 L490.5,127.5 L435.5,128" fill="#fff" stroke-width="1.1"/>
</g>
<clipPath id="kR"><rect x="398.9" y="141.3" width="36.5" height="248.09999999999997"/></clipPath>
<g clip-path="url(#kR)">
<rect x="398.9" y="141.3" width="36.5" height="248.09999999999997" fill="#000"/>
<rect x="401.90" y="137.06" width="1.2" height="4.34" fill="#303030"/>
<rect x="403.90" y="137.06" width="1.4" height="4.34" fill="#484848"/>
<rect x="406.00" y="137.06" width="1.4" height="4.34" fill="#484848"/>
<rect x="409.05" y="137.06" width="1.1" height="4.34" fill="#b0b0b0"/>
<rect x="410.80" y="137.06" width="1.6" height="4.34" fill="#606060"/>
<rect x="413.10" y="137.06" width="1.6" height="4.34" fill="#707070"/>
<rect x="415.40" y="137.06" width="1.6" height="4.34" fill="#707070"/>
<rect x="417.70" y="137.06" width="1.6" height="4.34" fill="#707070"/>
<rect x="420.05" y="137.06" width="1.5" height="4.34" fill="#686868"/>
<rect x="422.40" y="137.06" width="1.2" height="4.34" fill="#989898"/>
<rect x="425.10" y="137.06" width="3.4" height="4.34" fill="#585858"/>
<rect x="429.95" y="137.06" width="1.3" height="4.34" fill="#383838"/>
<rect x="432.60" y="137.06" width="1.2" height="4.34" fill="#303030"/>
<rect x="403.00" y="135.56" width="1" height="1" fill="#404040"/>
<rect x="405.80" y="135.56" width="1" height="1" fill="#404040"/>
<rect x="408.60" y="135.56" width="1" height="1" fill="#404040"/>
<rect x="411.40" y="135.56" width="1" height="1" fill="#404040"/>
<rect x="414.20" y="135.56" width="1" height="1" fill="#404040"/>
<rect x="417.00" y="135.56" width="1" height="1" fill="#404040"/>
<rect x="419.80" y="135.56" width="1" height="1" fill="#404040"/>
<rect x="422.60" y="135.56" width="1" height="1" fill="#404040"/>
<rect x="425.40" y="135.56" width="1" height="1" fill="#404040"/>
<rect x="428.20" y="135.56" width="1" height="1" fill="#404040"/>
<rect x="431.00" y="135.56" width="1" height="1" fill="#404040"/>
<rect x="401.90" y="143.40" width="1.2" height="4.34" fill="#303030"/>
<rect x="403.90" y="143.40" width="1.4" height="4.34" fill="#484848"/>
<rect x="406.00" y="143.40" width="1.4" height="4.34" fill="#484848"/>
<rect x="409.05" y="143.40" width="1.1" height="4.34" fill="#b0b0b0"/>
<rect x="410.80" y="143.40" width="1.6" height="4.34" fill="#606060"/>
<rect x="413.10" y="143.40" width="1.6" height="4.34" fill="#707070"/>
<rect x="415.40" y="143.40" width="1.6" height="4.34" fill="#707070"/>
<rect x="417.70" y="143.40" width="1.6" height="4.34" fill="#707070"/>
<rect x="420.05" y="143.40" width="1.5" height="4.34" fill="#686868"/>
<rect x="422.40" y="143.40" width="1.2" height="4.34" fill="#989898"/>
<rect x="425.10" y="143.40" width="3.4" height="4.34" fill="#585858"/>
<rect x="429.95" y="143.40" width="1.3" height="4.34" fill="#383838"/>
<rect x="432.60" y="143.40" width="1.2" height="4.34" fill="#303030"/>
<rect x="403.00" y="141.90" width="1" height="1" fill="#c8c8c8"/>
<rect x="405.80" y="141.90" width="1" height="1" fill="#c8c8c8"/>
<rect x="408.60" y="141.90" width="1" height="1" fill="#c8c8c8"/>
<rect x="411.40" y="141.90" width="1" height="1" fill="#c8c8c8"/>
<rect x="414.20" y="141.90" width="1" height="1" fill="#c8c8c8"/>
<rect x="417.00" y="141.90" width="1" height="1" fill="#c8c8c8"/>
<rect x="419.80" y="141.90" width="1" height="1" fill="#c8c8c8"/>
<rect x="422.60" y="141.90" width="1" height="1" fill="#c8c8c8"/>
<rect x="425.40" y="141.90" width="1" height="1" fill="#c8c8c8"/>
<rect x="428.20" y="141.90" width="1" height="1" fill="#c8c8c8"/>
<rect x="431.00" y="141.90" width="1" height="1" fill="#c8c8c8"/>
<rect x="401.90" y="149.74" width="1.2" height="4.34" fill="#303030"/>
<rect x="403.90" y="149.74" width="1.4" height="4.34" fill="#484848"/>
<rect x="406.00" y="149.74" width="1.4" height="4.34" fill="#484848"/>
<rect x="409.05" y="149.74" width="1.1" height="4.34" fill="#b0b0b0"/>
<rect x="410.80" y="149.74" width="1.6" height="4.34" fill="#606060"/>
<rect x="413.10" y="149.74" width="1.6" height="4.34" fill="#707070"/>
<rect x="415.40" y="149.74" width="1.6" height="4.34" fill="#707070"/>
<rect x="417.70" y="149.74" width="1.6" height="4.34" fill="#707070"/>
<rect x="420.05" y="149.74" width="1.5" height="4.34" fill="#686868"/>
<rect x="422.40" y="149.74" width="1.2" height="4.34" fill="#989898"/>
<rect x="425.10" y="149.74" width="3.4" height="4.34" fill="#585858"/>
<rect x="429.95" y="149.74" width="1.3" height="4.34" fill="#383838"/>
<rect x="432.60" y="149.74" width="1.2" height="4.34" fill="#303030"/>
<rect x="403.00" y="148.24" width="1" height="1" fill="#707070"/>
<rect x="405.80" y="148.24" width="1" height="1" fill="#707070"/>
<rect x="408.60" y="148.24" width="1" height="1" fill="#707070"/>
<rect x="411.40" y="148.24" width="1" height="1" fill="#707070"/>
<rect x="414.20" y="148.24" width="1" height="1" fill="#707070"/>
<rect x="417.00" y="148.24" width="1" height="1" fill="#707070"/>
<rect x="419.80" y="148.24" width="1" height="1" fill="#707070"/>
<rect x="422.60" y="148.24" width="1" height="1" fill="#707070"/>
<rect x="425.40" y="148.24" width="1" height="1" fill="#707070"/>
<rect x="428.20" y="148.24" width="1" height="1" fill="#707070"/>
<rect x="431.00" y="148.24" width="1" height="1" fill="#707070"/>
<rect x="401.90" y="156.08" width="1.2" height="4.34" fill="#303030"/>
<rect x="403.90" y="156.08" width="1.4" height="4.34" fill="#484848"/>
<rect x="406.00" y="156.08" width="1.4" height="4.34" fill="#484848"/>
<rect x="409.05" y="156.08" width="1.1" height="4.34" fill="#b0b0b0"/>
<rect x="410.80" y="156.08" width="1.6" height="4.34" fill="#606060"/>
<rect x="413.10" y="156.08" width="1.6" height="4.34" fill="#707070"/>
<rect x="415.40" y="156.08" width="1.6" height="4.34" fill="#707070"/>
<rect x="417.70" y="156.08" width="1.6" height="4.34" fill="#707070"/>
<rect x="420.05" y="156.08" width="1.5" height="4.34" fill="#686868"/>
<rect x="422.40" y="156.08" width="1.2" height="4.34" fill="#989898"/>
<rect x="425.10" y="156.08" width="3.4" height="4.34" fill="#585858"/>
<rect x="429.95" y="156.08" width="1.3" height="4.34" fill="#383838"/>
<rect x="432.60" y="156.08" width="1.2" height="4.34" fill="#303030"/>
<rect x="403.00" y="154.58" width="1" height="1" fill="#404040"/>
<rect x="405.80" y="154.58" width="1" height="1" fill="#404040"/>
<rect x="408.60" y="154.58" width="1" height="1" fill="#404040"/>
<rect x="411.40" y="154.58" width="1" height="1" fill="#404040"/>
<rect x="414.20" y="154.58" width="1" height="1" fill="#404040"/>
<rect x="417.00" y="154.58" width="1" height="1" fill="#404040"/>
<rect x="419.80" y="154.58" width="1" height="1" fill="#404040"/>
<rect x="422.60" y="154.58" width="1" height="1" fill="#404040"/>
<rect x="425.40" y="154.58" width="1" height="1" fill="#404040"/>
<rect x="428.20" y="154.58" width="1" height="1" fill="#404040"/>
<rect x="431.00" y="154.58" width="1" height="1" fill="#404040"/>
<rect x="401.90" y="162.43" width="1.2" height="4.34" fill="#303030"/>
<rect x="403.90" y="162.43" width="1.4" height="4.34" fill="#484848"/>
<rect x="406.00" y="162.43" width="1.4" height="4.34" fill="#484848"/>
<rect x="409.05" y="162.43" width="1.1" height="4.34" fill="#b0b0b0"/>
<rect x="410.80" y="162.43" width="1.6" height="4.34" fill="#606060"/>
<rect x="413.10" y="162.43" width="1.6" height="4.34" fill="#707070"/>
<rect x="415.40" y="162.43" width="1.6" height="4.34" fill="#707070"/>
<rect x="417.70" y="162.43" width="1.6" height="4.34" fill="#707070"/>
<rect x="420.05" y="162.43" width="1.5" height="4.34" fill="#686868"/>
<rect x="422.40" y="162.43" width="1.2" height="4.34" fill="#989898"/>
<rect x="425.10" y="162.43" width="3.4" height="4.34" fill="#585858"/>
<rect x="429.95" y="162.43" width="1.3" height="4.34" fill="#383838"/>
<rect x="432.60" y="162.43" width="1.2" height="4.34" fill="#303030"/>
<rect x="403.00" y="160.93" width="1" height="1" fill="#c8c8c8"/>
<rect x="405.80" y="160.93" width="1" height="1" fill="#c8c8c8"/>
<rect x="408.60" y="160.93" width="1" height="1" fill="#c8c8c8"/>
<rect x="411.40" y="160.93" width="1" height="1" fill="#c8c8c8"/>
<rect x="414.20" y="160.93" width="1" height="1" fill="#c8c8c8"/>
<rect x="417.00" y="160.93" width="1" height="1" fill="#c8c8c8"/>
<rect x="419.80" y="160.93" width="1" height="1" fill="#c8c8c8"/>
<rect x="422.60" y="160.93" width="1" height="1" fill="#c8c8c8"/>
<rect x="425.40" y="160.93" width="1" height="1" fill="#c8c8c8"/>
<rect x="428.20" y="160.93" width="1" height="1" fill="#c8c8c8"/>
<rect x="431.00" y="160.93" width="1" height="1" fill="#c8c8c8"/>
<rect x="401.90" y="168.77" width="1.2" height="4.34" fill="#303030"/>
<rect x="403.90" y="168.77" width="1.4" height="4.34" fill="#484848"/>
<rect x="406.00" y="168.77" width="1.4" height="4.34" fill="#484848"/>
<rect x="409.05" y="168.77" width="1.1" height="4.34" fill="#b0b0b0"/>
<rect x="410.80" y="168.77" width="1.6" height="4.34" fill="#606060"/>
<rect x="413.10" y="168.77" width="1.6" height="4.34" fill="#707070"/>
<rect x="415.40" y="168.77" width="1.6" height="4.34" fill="#707070"/>
<rect x="417.70" y="168.77" width="1.6" height="4.34" fill="#707070"/>
<rect x="420.05" y="168.77" width="1.5" height="4.34" fill="#686868"/>
<rect x="422.40" y="168.77" width="1.2" height="4.34" fill="#989898"/>
<rect x="425.10" y="168.77" width="3.4" height="4.34" fill="#585858"/>
<rect x="429.95" y="168.77" width="1.3" height="4.34" fill="#383838"/>
<rect x="432.60" y="168.77" width="1.2" height="4.34" fill="#303030"/>
<rect x="403.00" y="167.27" width="1" height="1" fill="#707070"/>
<rect x="405.80" y="167.27" width="1" height="1" fill="#707070"/>
<rect x="408.60" y="167.27" width="1" height="1" fill="#707070"/>
<rect x="411.40" y="167.27" width="1" height="1" fill="#707070"/>
<rect x="414.20" y="167.27" width="1" height="1" fill="#707070"/>
<rect x="417.00" y="167.27" width="1" height="1" fill="#707070"/>
<rect x="419.80" y="167.27" width="1" height="1" fill="#707070"/>
<rect x="422.60" y="167.27" width="1" height="1" fill="#707070"/>
<rect x="425.40" y="167.27" width="1" height="1" fill="#707070"/>
<rect x="428.20" y="167.27" width="1" height="1" fill="#707070"/>
<rect x="431.00" y="167.27" width="1" height="1" fill="#707070"/>
<rect x="401.90" y="175.11" width="1.2" height="4.34" fill="#303030"/>
<rect x="403.90" y="175.11" width="1.4" height="4.34" fill="#484848"/>
<rect x="406.00" y="175.11" width="1.4" height="4.34" fill="#484848"/>
<rect x="409.05" y="175.11" width="1.1" height="4.34" fill="#b0b0b0"/>
<rect x="410.80" y="175.11" width="1.6" height="4.34" fill="#606060"/>
<rect x="413.10" y="175.11" width="1.6" height="4.34" fill="#707070"/>
<rect x="415.40" y="175.11" width="1.6" height="4.34" fill="#707070"/>
<rect x="417.70" y="175.11" width="1.6" height="4.34" fill="#707070"/>
<rect x="420.05" y="175.11" width="1.5" height="4.34" fill="#686868"/>
<rect x="422.40" y="175.11" width="1.2" height="4.34" fill="#989898"/>
<rect x="425.10" y="175.11" width="3.4" height="4.34" fill="#585858"/>
<rect x="429.95" y="175.11" width="1.3" height="4.34" fill="#383838"/>
<rect x="432.60" y="175.11" width="1.2" height="4.34" fill="#303030"/>
<rect x="403.00" y="173.61" width="1" height="1" fill="#404040"/>
<rect x="405.80" y="173.61" width="1" height="1" fill="#404040"/>
<rect x="408.60" y="173.61" width="1" height="1" fill="#404040"/>
<rect x="411.40" y="173.61" width="1" height="1" fill="#404040"/>
<rect x="414.20" y="173.61" width="1" height="1" fill="#404040"/>
<rect x="417.00" y="173.61" width="1" height="1" fill="#404040"/>
<rect x="419.80" y="173.61" width="1" height="1" fill="#404040"/>
<rect x="422.60" y="173.61" width="1" height="1" fill="#404040"/>
<rect x="425.40" y="173.61" width="1" height="1" fill="#404040"/>
<rect x="428.20" y="173.61" width="1" height="1" fill="#404040"/>
<rect x="431.00" y="173.61" width="1" height="1" fill="#404040"/>
<rect x="401.90" y="181.45" width="1.2" height="4.34" fill="#303030"/>
<rect x="403.90" y="181.45" width="1.4" height="4.34" fill="#484848"/>
<rect x="406.00" y="181.45" width="1.4" height="4.34" fill="#484848"/>
<rect x="409.05" y="181.45" width="1.1" height="4.34" fill="#b0b0b0"/>
<rect x="410.80" y="181.45" width="1.6" height="4.34" fill="#606060"/>
<rect x="413.10" y="181.45" width="1.6" height="4.34" fill="#707070"/>
<rect x="415.40" y="181.45" width="1.6" height="4.34" fill="#707070"/>
<rect x="417.70" y="181.45" width="1.6" height="4.34" fill="#707070"/>
<rect x="420.05" y="181.45" width="1.5" height="4.34" fill="#686868"/>
<rect x="422.40" y="181.45" width="1.2" height="4.34" fill="#989898"/>
<rect x="425.10" y="181.45" width="3.4" height="4.34" fill="#585858"/>
<rect x="429.95" y="181.45" width="1.3" height="4.34" fill="#383838"/>
<rect x="432.60" y="181.45" width="1.2" height="4.34" fill="#303030"/>
<rect x="403.00" y="179.95" width="1" height="1" fill="#c8c8c8"/>
<rect x="405.80" y="179.95" width="1" height="1" fill="#c8c8c8"/>
<rect x="408.60" y="179.95" width="1" height="1" fill="#c8c8c8"/>
<rect x="411.40" y="179.95" width="1" height="1" fill="#c8c8c8"/>
<rect x="414.20" y="179.95" width="1" height="1" fill="#c8c8c8"/>
<rect x="417.00" y="179.95" width="1" height="1" fill="#c8c8c8"/>
<rect x="419.80" y="179.95" width="1" height="1" fill="#c8c8c8"/>
<rect x="422.60" y="179.95" width="1" height="1" fill="#c8c8c8"/>
<rect x="425.40" y="179.95" width="1" height="1" fill="#c8c8c8"/>
<rect x="428.20" y="179.95" width="1" height="1" fill="#c8c8c8"/>
<rect x="431.00" y="179.95" width="1" height="1" fill="#c8c8c8"/>
<rect x="401.90" y="187.79" width="1.2" height="4.34" fill="#303030"/>
<rect x="403.90" y="187.79" width="1.4" height="4.34" fill="#484848"/>
<rect x="406.00" y="187.79" width="1.4" height="4.34" fill="#484848"/>
<rect x="409.05" y="187.79" width="1.1" height="4.34" fill="#b0b0b0"/>
<rect x="410.80" y="187.79" width="1.6" height="4.34" fill="#606060"/>
<rect x="413.10" y="187.79" width="1.6" height="4.34" fill="#707070"/>
<rect x="415.40" y="187.79" width="1.6" height="4.34" fill="#707070"/>
<rect x="417.70" y="187.79" width="1.6" height="4.34" fill="#707070"/>
<rect x="420.05" y="187.79" width="1.5" height="4.34" fill="#686868"/>
<rect x="422.40" y="187.79" width="1.2" height="4.34" fill="#989898"/>
<rect x="425.10" y="187.79" width="3.4" height="4.34" fill="#585858"/>
<rect x="429.95" y="187.79" width="1.3" height="4.34" fill="#383838"/>
<rect x="432.60" y="187.79" width="1.2" height="4.34" fill="#303030"/>
<rect x="403.00" y="186.29" width="1" height="1" fill="#707070"/>
<rect x="405.80" y="186.29" width="1" height="1" fill="#707070"/>
<rect x="408.60" y="186.29" width="1" height="1" fill="#707070"/>
<rect x="411.40" y="186.29" width="1" height="1" fill="#707070"/>
<rect x="414.20" y="186.29" width="1" height="1" fill="#707070"/>
<rect x="417.00" y="186.29" width="1" height="1" fill="#707070"/>
<rect x="419.80" y="186.29" width="1" height="1" fill="#707070"/>
<rect x="422.60" y="186.29" width="1" height="1" fill="#707070"/>
<rect x="425.40" y="186.29" width="1" height="1" fill="#707070"/>
<rect x="428.20" y="186.29" width="1" height="1" fill="#707070"/>
<rect x="431.00" y="186.29" width="1" height="1" fill="#707070"/>
<rect x="401.90" y="194.14" width="1.2" height="4.34" fill="#303030"/>
<rect x="403.90" y="194.14" width="1.4" height="4.34" fill="#484848"/>
<rect x="406.00" y="194.14" width="1.4" height="4.34" fill="#484848"/>
<rect x="409.05" y="194.14" width="1.1" height="4.34" fill="#b0b0b0"/>
<rect x="410.80" y="194.14" width="1.6" height="4.34" fill="#606060"/>
<rect x="413.10" y="194.14" width="1.6" height="4.34" fill="#707070"/>
<rect x="415.40" y="194.14" width="1.6" height="4.34" fill="#707070"/>
<rect x="417.70" y="194.14" width="1.6" height="4.34" fill="#707070"/>
<rect x="420.05" y="194.14" width="1.5" height="4.34" fill="#686868"/>
<rect x="422.40" y="194.14" width="1.2" height="4.34" fill="#989898"/>
<rect x="425.10" y="194.14" width="3.4" height="4.34" fill="#585858"/>
<rect x="429.95" y="194.14" width="1.3" height="4.34" fill="#383838"/>
<rect x="432.60" y="194.14" width="1.2" height="4.34" fill="#303030"/>
<rect x="403.00" y="192.64" width="1" height="1" fill="#404040"/>
<rect x="405.80" y="192.64" width="1" height="1" fill="#404040"/>
<rect x="408.60" y="192.64" width="1" height="1" fill="#404040"/>
<rect x="411.40" y="192.64" width="1" height="1" fill="#404040"/>
<rect x="414.20" y="192.64" width="1" height="1" fill="#404040"/>
<rect x="417.00" y="192.64" width="1" height="1" fill="#404040"/>
<rect x="419.80" y="192.64" width="1" height="1" fill="#404040"/>
<rect x="422.60" y="192.64" width="1" height="1" fill="#404040"/>
<rect x="425.40" y="192.64" width="1" height="1" fill="#404040"/>
<rect x="428.20" y="192.64" width="1" height="1" fill="#404040"/>
<rect x="431.00" y="192.64" width="1" height="1" fill="#404040"/>
<rect x="401.90" y="200.48" width="1.2" height="4.34" fill="#303030"/>
<rect x="403.90" y="200.48" width="1.4" height="4.34" fill="#484848"/>
<rect x="406.00" y="200.48" width="1.4" height="4.34" fill="#484848"/>
<rect x="409.05" y="200.48" width="1.1" height="4.34" fill="#b0b0b0"/>
<rect x="410.80" y="200.48" width="1.6" height="4.34" fill="#606060"/>
<rect x="413.10" y="200.48" width="1.6" height="4.34" fill="#707070"/>
<rect x="415.40" y="200.48" width="1.6" height="4.34" fill="#707070"/>
<rect x="417.70" y="200.48" width="1.6" height="4.34" fill="#707070"/>
<rect x="420.05" y="200.48" width="1.5" height="4.34" fill="#686868"/>
<rect x="422.40" y="200.48" width="1.2" height="4.34" fill="#989898"/>
<rect x="425.10" y="200.48" width="3.4" height="4.34" fill="#585858"/>
<rect x="429.95" y="200.48" width="1.3" height="4.34" fill="#383838"/>
<rect x="432.60" y="200.48" width="1.2" height="4.34" fill="#303030"/>
<rect x="403.00" y="198.98" width="1" height="1" fill="#c8c8c8"/>
<rect x="405.80" y="198.98" width="1" height="1" fill="#c8c8c8"/>
<rect x="408.60" y="198.98" width="1" height="1" fill="#c8c8c8"/>
<rect x="411.40" y="198.98" width="1" height="1" fill="#c8c8c8"/>
<rect x="414.20" y="198.98" width="1" height="1" fill="#c8c8c8"/>
<rect x="417.00" y="198.98" width="1" height="1" fill="#c8c8c8"/>
<rect x="419.80" y="198.98" width="1" height="1" fill="#c8c8c8"/>
<rect x="422.60" y="198.98" width="1" height="1" fill="#c8c8c8"/>
<rect x="425.40" y="198.98" width="1" height="1" fill="#c8c8c8"/>
<rect x="428.20" y="198.98" width="1" height="1" fill="#c8c8c8"/>
<rect x="431.00" y="198.98" width="1" height="1" fill="#c8c8c8"/>
<rect x="401.90" y="206.82" width="1.2" height="4.34" fill="#303030"/>
<rect x="403.90" y="206.82" width="1.4" height="4.34" fill="#484848"/>
<rect x="406.00" y="206.82" width="1.4" height="4.34" fill="#484848"/>
<rect x="409.05" y="206.82" width="1.1" height="4.34" fill="#b0b0b0"/>
<rect x="410.80" y="206.82" width="1.6" height="4.34" fill="#606060"/>
<rect x="413.10" y="206.82" width="1.6" height="4.34" fill="#707070"/>
<rect x="415.40" y="206.82" width="1.6" height="4.34" fill="#707070"/>
<rect x="417.70" y="206.82" width="1.6" height="4.34" fill="#707070"/>
<rect x="420.05" y="206.82" width="1.5" height="4.34" fill="#686868"/>
<rect x="422.40" y="206.82" width="1.2" height="4.34" fill="#989898"/>
<rect x="425.10" y="206.82" width="3.4" height="4.34" fill="#585858"/>
<rect x="429.95" y="206.82" width="1.3" height="4.34" fill="#383838"/>
<rect x="432.60" y="206.82" width="1.2" height="4.34" fill="#303030"/>
<rect x="403.00" y="205.32" width="1" height="1" fill="#707070"/>
<rect x="405.80" y="205.32" width="1" height="1" fill="#707070"/>
<rect x="408.60" y="205.32" width="1" height="1" fill="#707070"/>
<rect x="411.40" y="205.32" width="1" height="1" fill="#707070"/>
<rect x="414.20" y="205.32" width="1" height="1" fill="#707070"/>
<rect x="417.00" y="205.32" width="1" height="1" fill="#707070"/>
<rect x="419.80" y="205.32" width="1" height="1" fill="#707070"/>
<rect x="422.60" y="205.32" width="1" height="1" fill="#707070"/>
<rect x="425.40" y="205.32" width="1" height="1" fill="#707070"/>
<rect x="428.20" y="205.32" width="1" height="1" fill="#707070"/>
<rect x="431.00" y="205.32" width="1" height="1" fill="#707070"/>
<rect x="401.90" y="213.16" width="1.2" height="4.34" fill="#303030"/>
<rect x="403.90" y="213.16" width="1.4" height="4.34" fill="#484848"/>
<rect x="406.00" y="213.16" width="1.4" height="4.34" fill="#484848"/>
<rect x="409.05" y="213.16" width="1.1" height="4.34" fill="#b0b0b0"/>
<rect x="410.80" y="213.16" width="1.6" height="4.34" fill="#606060"/>
<rect x="413.10" y="213.16" width="1.6" height="4.34" fill="#707070"/>
<rect x="415.40" y="213.16" width="1.6" height="4.34" fill="#707070"/>
<rect x="417.70" y="213.16" width="1.6" height="4.34" fill="#707070"/>
<rect x="420.05" y="213.16" width="1.5" height="4.34" fill="#686868"/>
<rect x="422.40" y="213.16" width="1.2" height="4.34" fill="#989898"/>
<rect x="425.10" y="213.16" width="3.4" height="4.34" fill="#585858"/>
<rect x="429.95" y="213.16" width="1.3" height="4.34" fill="#383838"/>
<rect x="432.60" y="213.16" width="1.2" height="4.34" fill="#303030"/>
<rect x="403.00" y="211.66" width="1" height="1" fill="#404040"/>
<rect x="405.80" y="211.66" width="1" height="1" fill="#404040"/>
<rect x="408.60" y="211.66" width="1" height="1" fill="#404040"/>
<rect x="411.40" y="211.66" width="1" height="1" fill="#404040"/>
<rect x="414.20" y="211.66" width="1" height="1" fill="#404040"/>
<rect x="417.00" y="211.66" width="1" height="1" fill="#404040"/>
<rect x="419.80" y="211.66" width="1" height="1" fill="#404040"/>
<rect x="422.60" y="211.66" width="1" height="1" fill="#404040"/>
<rect x="425.40" y="211.66" width="1" height="1" fill="#404040"/>
<rect x="428.20" y="211.66" width="1" height="1" fill="#404040"/>
<rect x="431.00" y="211.66" width="1" height="1" fill="#404040"/>
<rect x="401.90" y="219.50" width="1.2" height="4.34" fill="#303030"/>
<rect x="403.90" y="219.50" width="1.4" height="4.34" fill="#484848"/>
<rect x="406.00" y="219.50" width="1.4" height="4.34" fill="#484848"/>
<rect x="409.05" y="219.50" width="1.1" height="4.34" fill="#b0b0b0"/>
<rect x="410.80" y="219.50" width="1.6" height="4.34" fill="#606060"/>
<rect x="413.10" y="219.50" width="1.6" height="4.34" fill="#707070"/>
<rect x="415.40" y="219.50" width="1.6" height="4.34" fill="#707070"/>
<rect x="417.70" y="219.50" width="1.6" height="4.34" fill="#707070"/>
<rect x="420.05" y="219.50" width="1.5" height="4.34" fill="#686868"/>
<rect x="422.40" y="219.50" width="1.2" height="4.34" fill="#989898"/>
<rect x="425.10" y="219.50" width="3.4" height="4.34" fill="#585858"/>
<rect x="429.95" y="219.50" width="1.3" height="4.34" fill="#383838"/>
<rect x="432.60" y="219.50" width="1.2" height="4.34" fill="#303030"/>
<rect x="403.00" y="218.00" width="1" height="1" fill="#c8c8c8"/>
<rect x="405.80" y="218.00" width="1" height="1" fill="#c8c8c8"/>
<rect x="408.60" y="218.00" width="1" height="1" fill="#c8c8c8"/>
<rect x="411.40" y="218.00" width="1" height="1" fill="#c8c8c8"/>
<rect x="414.20" y="218.00" width="1" height="1" fill="#c8c8c8"/>
<rect x="417.00" y="218.00" width="1" height="1" fill="#c8c8c8"/>
<rect x="419.80" y="218.00" width="1" height="1" fill="#c8c8c8"/>
<rect x="422.60" y="218.00" width="1" height="1" fill="#c8c8c8"/>
<rect x="425.40" y="218.00" width="1" height="1" fill="#c8c8c8"/>
<rect x="428.20" y="218.00" width="1" height="1" fill="#c8c8c8"/>
<rect x="431.00" y="218.00" width="1" height="1" fill="#c8c8c8"/>
<rect x="401.90" y="225.85" width="1.2" height="4.34" fill="#303030"/>
<rect x="403.90" y="225.85" width="1.4" height="4.34" fill="#484848"/>
<rect x="406.00" y="225.85" width="1.4" height="4.34" fill="#484848"/>
<rect x="409.05" y="225.85" width="1.1" height="4.34" fill="#b0b0b0"/>
<rect x="410.80" y="225.85" width="1.6" height="4.34" fill="#606060"/>
<rect x="413.10" y="225.85" width="1.6" height="4.34" fill="#707070"/>
<rect x="415.40" y="225.85" width="1.6" height="4.34" fill="#707070"/>
<rect x="417.70" y="225.85" width="1.6" height="4.34" fill="#707070"/>
<rect x="420.05" y="225.85" width="1.5" height="4.34" fill="#686868"/>
<rect x="422.40" y="225.85" width="1.2" height="4.34" fill="#989898"/>
<rect x="425.10" y="225.85" width="3.4" height="4.34" fill="#585858"/>
<rect x="429.95" y="225.85" width="1.3" height="4.34" fill="#383838"/>
<rect x="432.60" y="225.85" width="1.2" height="4.34" fill="#303030"/>
<rect x="403.00" y="224.35" width="1" height="1" fill="#707070"/>
<rect x="405.80" y="224.35" width="1" height="1" fill="#707070"/>
<rect x="408.60" y="224.35" width="1" height="1" fill="#707070"/>
<rect x="411.40" y="224.35" width="1" height="1" fill="#707070"/>
<rect x="414.20" y="224.35" width="1" height="1" fill="#707070"/>
<rect x="417.00" y="224.35" width="1" height="1" fill="#707070"/>
<rect x="419.80" y="224.35" width="1" height="1" fill="#707070"/>
<rect x="422.60" y="224.35" width="1" height="1" fill="#707070"/>
<rect x="425.40" y="224.35" width="1" height="1" fill="#707070"/>
<rect x="428.20" y="224.35" width="1" height="1" fill="#707070"/>
<rect x="431.00" y="224.35" width="1" height="1" fill="#707070"/>
<rect x="401.90" y="232.19" width="1.2" height="4.34" fill="#303030"/>
<rect x="403.90" y="232.19" width="1.4" height="4.34" fill="#484848"/>
<rect x="406.00" y="232.19" width="1.4" height="4.34" fill="#484848"/>
<rect x="409.05" y="232.19" width="1.1" height="4.34" fill="#b0b0b0"/>
<rect x="410.80" y="232.19" width="1.6" height="4.34" fill="#606060"/>
<rect x="413.10" y="232.19" width="1.6" height="4.34" fill="#707070"/>
<rect x="415.40" y="232.19" width="1.6" height="4.34" fill="#707070"/>
<rect x="417.70" y="232.19" width="1.6" height="4.34" fill="#707070"/>
<rect x="420.05" y="232.19" width="1.5" height="4.34" fill="#686868"/>
<rect x="422.40" y="232.19" width="1.2" height="4.34" fill="#989898"/>
<rect x="425.10" y="232.19" width="3.4" height="4.34" fill="#585858"/>
<rect x="429.95" y="232.19" width="1.3" height="4.34" fill="#383838"/>
<rect x="432.60" y="232.19" width="1.2" height="4.34" fill="#303030"/>
<rect x="403.00" y="230.69" width="1" height="1" fill="#404040"/>
<rect x="405.80" y="230.69" width="1" height="1" fill="#404040"/>
<rect x="408.60" y="230.69" width="1" height="1" fill="#404040"/>
<rect x="411.40" y="230.69" width="1" height="1" fill="#404040"/>
<rect x="414.20" y="230.69" width="1" height="1" fill="#404040"/>
<rect x="417.00" y="230.69" width="1" height="1" fill="#404040"/>
<rect x="419.80" y="230.69" width="1" height="1" fill="#404040"/>
<rect x="422.60" y="230.69" width="1" height="1" fill="#404040"/>
<rect x="425.40" y="230.69" width="1" height="1" fill="#404040"/>
<rect x="428.20" y="230.69" width="1" height="1" fill="#404040"/>
<rect x="431.00" y="230.69" width="1" height="1" fill="#404040"/>
<rect x="401.90" y="238.53" width="1.2" height="4.34" fill="#303030"/>
<rect x="403.90" y="238.53" width="1.4" height="4.34" fill="#484848"/>
<rect x="406.00" y="238.53" width="1.4" height="4.34" fill="#484848"/>
<rect x="409.05" y="238.53" width="1.1" height="4.34" fill="#b0b0b0"/>
<rect x="410.80" y="238.53" width="1.6" height="4.34" fill="#606060"/>
<rect x="413.10" y="238.53" width="1.6" height="4.34" fill="#707070"/>
<rect x="415.40" y="238.53" width="1.6" height="4.34" fill="#707070"/>
<rect x="417.70" y="238.53" width="1.6" height="4.34" fill="#707070"/>
<rect x="420.05" y="238.53" width="1.5" height="4.34" fill="#686868"/>
<rect x="422.40" y="238.53" width="1.2" height="4.34" fill="#989898"/>
<rect x="425.10" y="238.53" width="3.4" height="4.34" fill="#585858"/>
<rect x="429.95" y="238.53" width="1.3" height="4.34" fill="#383838"/>
<rect x="432.60" y="238.53" width="1.2" height="4.34" fill="#303030"/>
<rect x="403.00" y="237.03" width="1" height="1" fill="#c8c8c8"/>
<rect x="405.80" y="237.03" width="1" height="1" fill="#c8c8c8"/>
<rect x="408.60" y="237.03" width="1" height="1" fill="#c8c8c8"/>
<rect x="411.40" y="237.03" width="1" height="1" fill="#c8c8c8"/>
<rect x="414.20" y="237.03" width="1" height="1" fill="#c8c8c8"/>
<rect x="417.00" y="237.03" width="1" height="1" fill="#c8c8c8"/>
<rect x="419.80" y="237.03" width="1" height="1" fill="#c8c8c8"/>
<rect x="422.60" y="237.03" width="1" height="1" fill="#c8c8c8"/>
<rect x="425.40" y="237.03" width="1" height="1" fill="#c8c8c8"/>
<rect x="428.20" y="237.03" width="1" height="1" fill="#c8c8c8"/>
<rect x="431.00" y="237.03" width="1" height="1" fill="#c8c8c8"/>
<rect x="401.90" y="244.87" width="1.2" height="4.34" fill="#303030"/>
<rect x="403.90" y="244.87" width="1.4" height="4.34" fill="#484848"/>
<rect x="406.00" y="244.87" width="1.4" height="4.34" fill="#484848"/>
<rect x="409.05" y="244.87" width="1.1" height="4.34" fill="#b0b0b0"/>
<rect x="410.80" y="244.87" width="1.6" height="4.34" fill="#606060"/>
<rect x="413.10" y="244.87" width="1.6" height="4.34" fill="#707070"/>
<rect x="415.40" y="244.87" width="1.6" height="4.34" fill="#707070"/>
<rect x="417.70" y="244.87" width="1.6" height="4.34" fill="#707070"/>
<rect x="420.05" y="244.87" width="1.5" height="4.34" fill="#686868"/>
<rect x="422.40" y="244.87" width="1.2" height="4.34" fill="#989898"/>
<rect x="425.10" y="244.87" width="3.4" height="4.34" fill="#585858"/>
<rect x="429.95" y="244.87" width="1.3" height="4.34" fill="#383838"/>
<rect x="432.60" y="244.87" width="1.2" height="4.34" fill="#303030"/>
<rect x="403.00" y="243.37" width="1" height="1" fill="#707070"/>
<rect x="405.80" y="243.37" width="1" height="1" fill="#707070"/>
<rect x="408.60" y="243.37" width="1" height="1" fill="#707070"/>
<rect x="411.40" y="243.37" width="1" height="1" fill="#707070"/>
<rect x="414.20" y="243.37" width="1" height="1" fill="#707070"/>
<rect x="417.00" y="243.37" width="1" height="1" fill="#707070"/>
<rect x="419.80" y="243.37" width="1" height="1" fill="#707070"/>
<rect x="422.60" y="243.37" width="1" height="1" fill="#707070"/>
<rect x="425.40" y="243.37" width="1" height="1" fill="#707070"/>
<rect x="428.20" y="243.37" width="1" height="1" fill="#707070"/>
<rect x="431.00" y="243.37" width="1" height="1" fill="#707070"/>
<rect x="401.90" y="251.21" width="1.2" height="4.34" fill="#303030"/>
<rect x="403.90" y="251.21" width="1.4" height="4.34" fill="#484848"/>
<rect x="406.00" y="251.21" width="1.4" height="4.34" fill="#484848"/>
<rect x="409.05" y="251.21" width="1.1" height="4.34" fill="#b0b0b0"/>
<rect x="410.80" y="251.21" width="1.6" height="4.34" fill="#606060"/>
<rect x="413.10" y="251.21" width="1.6" height="4.34" fill="#707070"/>
<rect x="415.40" y="251.21" width="1.6" height="4.34" fill="#707070"/>
<rect x="417.70" y="251.21" width="1.6" height="4.34" fill="#707070"/>
<rect x="420.05" y="251.21" width="1.5" height="4.34" fill="#686868"/>
<rect x="422.40" y="251.21" width="1.2" height="4.34" fill="#989898"/>
<rect x="425.10" y="251.21" width="3.4" height="4.34" fill="#585858"/>
<rect x="429.95" y="251.21" width="1.3" height="4.34" fill="#383838"/>
<rect x="432.60" y="251.21" width="1.2" height="4.34" fill="#303030"/>
<rect x="403.00" y="249.71" width="1" height="1" fill="#404040"/>
<rect x="405.80" y="249.71" width="1" height="1" fill="#404040"/>
<rect x="408.60" y="249.71" width="1" height="1" fill="#404040"/>
<rect x="411.40" y="249.71" width="1" height="1" fill="#404040"/>
<rect x="414.20" y="249.71" width="1" height="1" fill="#404040"/>
<rect x="417.00" y="249.71" width="1" height="1" fill="#404040"/>
<rect x="419.80" y="249.71" width="1" height="1" fill="#404040"/>
<rect x="422.60" y="249.71" width="1" height="1" fill="#404040"/>
<rect x="425.40" y="249.71" width="1" height="1" fill="#404040"/>
<rect x="428.20" y="249.71" width="1" height="1" fill="#404040"/>
<rect x="431.00" y="249.71" width="1" height="1" fill="#404040"/>
<rect x="401.90" y="257.56" width="1.2" height="4.34" fill="#303030"/>
<rect x="403.90" y="257.56" width="1.4" height="4.34" fill="#484848"/>
<rect x="406.00" y="257.56" width="1.4" height="4.34" fill="#484848"/>
<rect x="409.05" y="257.56" width="1.1" height="4.34" fill="#b0b0b0"/>
<rect x="410.80" y="257.56" width="1.6" height="4.34" fill="#606060"/>
<rect x="413.10" y="257.56" width="1.6" height="4.34" fill="#707070"/>
<rect x="415.40" y="257.56" width="1.6" height="4.34" fill="#707070"/>
<rect x="417.70" y="257.56" width="1.6" height="4.34" fill="#707070"/>
<rect x="420.05" y="257.56" width="1.5" height="4.34" fill="#686868"/>
<rect x="422.40" y="257.56" width="1.2" height="4.34" fill="#989898"/>
<rect x="425.10" y="257.56" width="3.4" height="4.34" fill="#585858"/>
<rect x="429.95" y="257.56" width="1.3" height="4.34" fill="#383838"/>
<rect x="432.60" y="257.56" width="1.2" height="4.34" fill="#303030"/>
<rect x="403.00" y="256.06" width="1" height="1" fill="#c8c8c8"/>
<rect x="405.80" y="256.06" width="1" height="1" fill="#c8c8c8"/>
<rect x="408.60" y="256.06" width="1" height="1" fill="#c8c8c8"/>
<rect x="411.40" y="256.06" width="1" height="1" fill="#c8c8c8"/>
<rect x="414.20" y="256.06" width="1" height="1" fill="#c8c8c8"/>
<rect x="417.00" y="256.06" width="1" height="1" fill="#c8c8c8"/>
<rect x="419.80" y="256.06" width="1" height="1" fill="#c8c8c8"/>
<rect x="422.60" y="256.06" width="1" height="1" fill="#c8c8c8"/>
<rect x="425.40" y="256.06" width="1" height="1" fill="#c8c8c8"/>
<rect x="428.20" y="256.06" width="1" height="1" fill="#c8c8c8"/>
<rect x="431.00" y="256.06" width="1" height="1" fill="#c8c8c8"/>
<rect x="401.90" y="263.90" width="1.2" height="4.34" fill="#303030"/>
<rect x="403.90" y="263.90" width="1.4" height="4.34" fill="#484848"/>
<rect x="406.00" y="263.90" width="1.4" height="4.34" fill="#484848"/>
<rect x="409.05" y="263.90" width="1.1" height="4.34" fill="#b0b0b0"/>
<rect x="410.80" y="263.90" width="1.6" height="4.34" fill="#606060"/>
<rect x="413.10" y="263.90" width="1.6" height="4.34" fill="#707070"/>
<rect x="415.40" y="263.90" width="1.6" height="4.34" fill="#707070"/>
<rect x="417.70" y="263.90" width="1.6" height="4.34" fill="#707070"/>
<rect x="420.05" y="263.90" width="1.5" height="4.34" fill="#686868"/>
<rect x="422.40" y="263.90" width="1.2" height="4.34" fill="#989898"/>
<rect x="425.10" y="263.90" width="3.4" height="4.34" fill="#585858"/>
<rect x="429.95" y="263.90" width="1.3" height="4.34" fill="#383838"/>
<rect x="432.60" y="263.90" width="1.2" height="4.34" fill="#303030"/>
<rect x="403.00" y="262.40" width="1" height="1" fill="#707070"/>
<rect x="405.80" y="262.40" width="1" height="1" fill="#707070"/>
<rect x="408.60" y="262.40" width="1" height="1" fill="#707070"/>
<rect x="411.40" y="262.40" width="1" height="1" fill="#707070"/>
<rect x="414.20" y="262.40" width="1" height="1" fill="#707070"/>
<rect x="417.00" y="262.40" width="1" height="1" fill="#707070"/>
<rect x="419.80" y="262.40" width="1" height="1" fill="#707070"/>
<rect x="422.60" y="262.40" width="1" height="1" fill="#707070"/>
<rect x="425.40" y="262.40" width="1" height="1" fill="#707070"/>
<rect x="428.20" y="262.40" width="1" height="1" fill="#707070"/>
<rect x="431.00" y="262.40" width="1" height="1" fill="#707070"/>
<rect x="401.90" y="270.24" width="1.2" height="4.34" fill="#303030"/>
<rect x="403.90" y="270.24" width="1.4" height="4.34" fill="#484848"/>
<rect x="406.00" y="270.24" width="1.4" height="4.34" fill="#484848"/>
<rect x="409.05" y="270.24" width="1.1" height="4.34" fill="#b0b0b0"/>
<rect x="410.80" y="270.24" width="1.6" height="4.34" fill="#606060"/>
<rect x="413.10" y="270.24" width="1.6" height="4.34" fill="#707070"/>
<rect x="415.40" y="270.24" width="1.6" height="4.34" fill="#707070"/>
<rect x="417.70" y="270.24" width="1.6" height="4.34" fill="#707070"/>
<rect x="420.05" y="270.24" width="1.5" height="4.34" fill="#686868"/>
<rect x="422.40" y="270.24" width="1.2" height="4.34" fill="#989898"/>
<rect x="425.10" y="270.24" width="3.4" height="4.34" fill="#585858"/>
<rect x="429.95" y="270.24" width="1.3" height="4.34" fill="#383838"/>
<rect x="432.60" y="270.24" width="1.2" height="4.34" fill="#303030"/>
<rect x="403.00" y="268.74" width="1" height="1" fill="#404040"/>
<rect x="405.80" y="268.74" width="1" height="1" fill="#404040"/>
<rect x="408.60" y="268.74" width="1" height="1" fill="#404040"/>
<rect x="411.40" y="268.74" width="1" height="1" fill="#404040"/>
<rect x="414.20" y="268.74" width="1" height="1" fill="#404040"/>
<rect x="417.00" y="268.74" width="1" height="1" fill="#404040"/>
<rect x="419.80" y="268.74" width="1" height="1" fill="#404040"/>
<rect x="422.60" y="268.74" width="1" height="1" fill="#404040"/>
<rect x="425.40" y="268.74" width="1" height="1" fill="#404040"/>
<rect x="428.20" y="268.74" width="1" height="1" fill="#404040"/>
<rect x="431.00" y="268.74" width="1" height="1" fill="#404040"/>
<rect x="401.90" y="276.58" width="1.2" height="4.34" fill="#303030"/>
<rect x="403.90" y="276.58" width="1.4" height="4.34" fill="#484848"/>
<rect x="406.00" y="276.58" width="1.4" height="4.34" fill="#484848"/>
<rect x="409.05" y="276.58" width="1.1" height="4.34" fill="#b0b0b0"/>
<rect x="410.80" y="276.58" width="1.6" height="4.34" fill="#606060"/>
<rect x="413.10" y="276.58" width="1.6" height="4.34" fill="#707070"/>
<rect x="415.40" y="276.58" width="1.6" height="4.34" fill="#707070"/>
<rect x="417.70" y="276.58" width="1.6" height="4.34" fill="#707070"/>
<rect x="420.05" y="276.58" width="1.5" height="4.34" fill="#686868"/>
<rect x="422.40" y="276.58" width="1.2" height="4.34" fill="#989898"/>
<rect x="425.10" y="276.58" width="3.4" height="4.34" fill="#585858"/>
<rect x="429.95" y="276.58" width="1.3" height="4.34" fill="#383838"/>
<rect x="432.60" y="276.58" width="1.2" height="4.34" fill="#303030"/>
<rect x="403.00" y="275.08" width="1" height="1" fill="#c8c8c8"/>
<rect x="405.80" y="275.08" width="1" height="1" fill="#c8c8c8"/>
<rect x="408.60" y="275.08" width="1" height="1" fill="#c8c8c8"/>
<rect x="411.40" y="275.08" width="1" height="1" fill="#c8c8c8"/>
<rect x="414.20" y="275.08" width="1" height="1" fill="#c8c8c8"/>
<rect x="417.00" y="275.08" width="1" height="1" fill="#c8c8c8"/>
<rect x="419.80" y="275.08" width="1" height="1" fill="#c8c8c8"/>
<rect x="422.60" y="275.08" width="1" height="1" fill="#c8c8c8"/>
<rect x="425.40" y="275.08" width="1" height="1" fill="#c8c8c8"/>
<rect x="428.20" y="275.08" width="1" height="1" fill="#c8c8c8"/>
<rect x="431.00" y="275.08" width="1" height="1" fill="#c8c8c8"/>
<rect x="401.90" y="282.92" width="1.2" height="4.34" fill="#303030"/>
<rect x="403.90" y="282.92" width="1.4" height="4.34" fill="#484848"/>
<rect x="406.00" y="282.92" width="1.4" height="4.34" fill="#484848"/>
<rect x="409.05" y="282.92" width="1.1" height="4.34" fill="#b0b0b0"/>
<rect x="410.80" y="282.92" width="1.6" height="4.34" fill="#606060"/>
<rect x="413.10" y="282.92" width="1.6" height="4.34" fill="#707070"/>
<rect x="415.40" y="282.92" width="1.6" height="4.34" fill="#707070"/>
<rect x="417.70" y="282.92" width="1.6" height="4.34" fill="#707070"/>
<rect x="420.05" y="282.92" width="1.5" height="4.34" fill="#686868"/>
<rect x="422.40" y="282.92" width="1.2" height="4.34" fill="#989898"/>
<rect x="425.10" y="282.92" width="3.4" height="4.34" fill="#585858"/>
<rect x="429.95" y="282.92" width="1.3" height="4.34" fill="#383838"/>
<rect x="432.60" y="282.92" width="1.2" height="4.34" fill="#303030"/>
<rect x="403.00" y="281.42" width="1" height="1" fill="#707070"/>
<rect x="405.80" y="281.42" width="1" height="1" fill="#707070"/>
<rect x="408.60" y="281.42" width="1" height="1" fill="#707070"/>
<rect x="411.40" y="281.42" width="1" height="1" fill="#707070"/>
<rect x="414.20" y="281.42" width="1" height="1" fill="#707070"/>
<rect x="417.00" y="281.42" width="1" height="1" fill="#707070"/>
<rect x="419.80" y="281.42" width="1" height="1" fill="#707070"/>
<rect x="422.60" y="281.42" width="1" height="1" fill="#707070"/>
<rect x="425.40" y="281.42" width="1" height="1" fill="#707070"/>
<rect x="428.20" y="281.42" width="1" height="1" fill="#707070"/>
<rect x="431.00" y="281.42" width="1" height="1" fill="#707070"/>
<rect x="401.90" y="289.27" width="1.2" height="4.34" fill="#303030"/>
<rect x="403.90" y="289.27" width="1.4" height="4.34" fill="#484848"/>
<rect x="406.00" y="289.27" width="1.4" height="4.34" fill="#484848"/>
<rect x="409.05" y="289.27" width="1.1" height="4.34" fill="#b0b0b0"/>
<rect x="410.80" y="289.27" width="1.6" height="4.34" fill="#606060"/>
<rect x="413.10" y="289.27" width="1.6" height="4.34" fill="#707070"/>
<rect x="415.40" y="289.27" width="1.6" height="4.34" fill="#707070"/>
<rect x="417.70" y="289.27" width="1.6" height="4.34" fill="#707070"/>
<rect x="420.05" y="289.27" width="1.5" height="4.34" fill="#686868"/>
<rect x="422.40" y="289.27" width="1.2" height="4.34" fill="#989898"/>
<rect x="425.10" y="289.27" width="3.4" height="4.34" fill="#585858"/>
<rect x="429.95" y="289.27" width="1.3" height="4.34" fill="#383838"/>
<rect x="432.60" y="289.27" width="1.2" height="4.34" fill="#303030"/>
<rect x="403.00" y="287.77" width="1" height="1" fill="#404040"/>
<rect x="405.80" y="287.77" width="1" height="1" fill="#404040"/>
<rect x="408.60" y="287.77" width="1" height="1" fill="#404040"/>
<rect x="411.40" y="287.77" width="1" height="1" fill="#404040"/>
<rect x="414.20" y="287.77" width="1" height="1" fill="#404040"/>
<rect x="417.00" y="287.77" width="1" height="1" fill="#404040"/>
<rect x="419.80" y="287.77" width="1" height="1" fill="#404040"/>
<rect x="422.60" y="287.77" width="1" height="1" fill="#404040"/>
<rect x="425.40" y="287.77" width="1" height="1" fill="#404040"/>
<rect x="428.20" y="287.77" width="1" height="1" fill="#404040"/>
<rect x="431.00" y="287.77" width="1" height="1" fill="#404040"/>
<rect x="401.90" y="295.61" width="1.2" height="4.34" fill="#303030"/>
<rect x="403.90" y="295.61" width="1.4" height="4.34" fill="#484848"/>
<rect x="406.00" y="295.61" width="1.4" height="4.34" fill="#484848"/>
<rect x="409.05" y="295.61" width="1.1" height="4.34" fill="#b0b0b0"/>
<rect x="410.80" y="295.61" width="1.6" height="4.34" fill="#606060"/>
<rect x="413.10" y="295.61" width="1.6" height="4.34" fill="#707070"/>
<rect x="415.40" y="295.61" width="1.6" height="4.34" fill="#707070"/>
<rect x="417.70" y="295.61" width="1.6" height="4.34" fill="#707070"/>
<rect x="420.05" y="295.61" width="1.5" height="4.34" fill="#686868"/>
<rect x="422.40" y="295.61" width="1.2" height="4.34" fill="#989898"/>
<rect x="425.10" y="295.61" width="3.4" height="4.34" fill="#585858"/>
<rect x="429.95" y="295.61" width="1.3" height="4.34" fill="#383838"/>
<rect x="432.60" y="295.61" width="1.2" height="4.34" fill="#303030"/>
<rect x="403.00" y="294.11" width="1" height="1" fill="#c8c8c8"/>
<rect x="405.80" y="294.11" width="1" height="1" fill="#c8c8c8"/>
<rect x="408.60" y="294.11" width="1" height="1" fill="#c8c8c8"/>
<rect x="411.40" y="294.11" width="1" height="1" fill="#c8c8c8"/>
<rect x="414.20" y="294.11" width="1" height="1" fill="#c8c8c8"/>
<rect x="417.00" y="294.11" width="1" height="1" fill="#c8c8c8"/>
<rect x="419.80" y="294.11" width="1" height="1" fill="#c8c8c8"/>
<rect x="422.60" y="294.11" width="1" height="1" fill="#c8c8c8"/>
<rect x="425.40" y="294.11" width="1" height="1" fill="#c8c8c8"/>
<rect x="428.20" y="294.11" width="1" height="1" fill="#c8c8c8"/>
<rect x="431.00" y="294.11" width="1" height="1" fill="#c8c8c8"/>
<rect x="401.90" y="301.95" width="1.2" height="4.34" fill="#303030"/>
<rect x="403.90" y="301.95" width="1.4" height="4.34" fill="#484848"/>
<rect x="406.00" y="301.95" width="1.4" height="4.34" fill="#484848"/>
<rect x="409.05" y="301.95" width="1.1" height="4.34" fill="#b0b0b0"/>
<rect x="410.80" y="301.95" width="1.6" height="4.34" fill="#606060"/>
<rect x="413.10" y="301.95" width="1.6" height="4.34" fill="#707070"/>
<rect x="415.40" y="301.95" width="1.6" height="4.34" fill="#707070"/>
<rect x="417.70" y="301.95" width="1.6" height="4.34" fill="#707070"/>
<rect x="420.05" y="301.95" width="1.5" height="4.34" fill="#686868"/>
<rect x="422.40" y="301.95" width="1.2" height="4.34" fill="#989898"/>
<rect x="425.10" y="301.95" width="3.4" height="4.34" fill="#585858"/>
<rect x="429.95" y="301.95" width="1.3" height="4.34" fill="#383838"/>
<rect x="432.60" y="301.95" width="1.2" height="4.34" fill="#303030"/>
<rect x="403.00" y="300.45" width="1" height="1" fill="#707070"/>
<rect x="405.80" y="300.45" width="1" height="1" fill="#707070"/>
<rect x="408.60" y="300.45" width="1" height="1" fill="#707070"/>
<rect x="411.40" y="300.45" width="1" height="1" fill="#707070"/>
<rect x="414.20" y="300.45" width="1" height="1" fill="#707070"/>
<rect x="417.00" y="300.45" width="1" height="1" fill="#707070"/>
<rect x="419.80" y="300.45" width="1" height="1" fill="#707070"/>
<rect x="422.60" y="300.45" width="1" height="1" fill="#707070"/>
<rect x="425.40" y="300.45" width="1" height="1" fill="#707070"/>
<rect x="428.20" y="300.45" width="1" height="1" fill="#707070"/>
<rect x="431.00" y="300.45" width="1" height="1" fill="#707070"/>
<rect x="401.90" y="308.29" width="1.2" height="4.34" fill="#303030"/>
<rect x="403.90" y="308.29" width="1.4" height="4.34" fill="#484848"/>
<rect x="406.00" y="308.29" width="1.4" height="4.34" fill="#484848"/>
<rect x="409.05" y="308.29" width="1.1" height="4.34" fill="#b0b0b0"/>
<rect x="410.80" y="308.29" width="1.6" height="4.34" fill="#606060"/>
<rect x="413.10" y="308.29" width="1.6" height="4.34" fill="#707070"/>
<rect x="415.40" y="308.29" width="1.6" height="4.34" fill="#707070"/>
<rect x="417.70" y="308.29" width="1.6" height="4.34" fill="#707070"/>
<rect x="420.05" y="308.29" width="1.5" height="4.34" fill="#686868"/>
<rect x="422.40" y="308.29" width="1.2" height="4.34" fill="#989898"/>
<rect x="425.10" y="308.29" width="3.4" height="4.34" fill="#585858"/>
<rect x="429.95" y="308.29" width="1.3" height="4.34" fill="#383838"/>
<rect x="432.60" y="308.29" width="1.2" height="4.34" fill="#303030"/>
<rect x="403.00" y="306.79" width="1" height="1" fill="#404040"/>
<rect x="405.80" y="306.79" width="1" height="1" fill="#404040"/>
<rect x="408.60" y="306.79" width="1" height="1" fill="#404040"/>
<rect x="411.40" y="306.79" width="1" height="1" fill="#404040"/>
<rect x="414.20" y="306.79" width="1" height="1" fill="#404040"/>
<rect x="417.00" y="306.79" width="1" height="1" fill="#404040"/>
<rect x="419.80" y="306.79" width="1" height="1" fill="#404040"/>
<rect x="422.60" y="306.79" width="1" height="1" fill="#404040"/>
<rect x="425.40" y="306.79" width="1" height="1" fill="#404040"/>
<rect x="428.20" y="306.79" width="1" height="1" fill="#404040"/>
<rect x="431.00" y="306.79" width="1" height="1" fill="#404040"/>
<rect x="401.90" y="314.63" width="1.2" height="4.34" fill="#303030"/>
<rect x="403.90" y="314.63" width="1.4" height="4.34" fill="#484848"/>
<rect x="406.00" y="314.63" width="1.4" height="4.34" fill="#484848"/>
<rect x="409.05" y="314.63" width="1.1" height="4.34" fill="#b0b0b0"/>
<rect x="410.80" y="314.63" width="1.6" height="4.34" fill="#606060"/>
<rect x="413.10" y="314.63" width="1.6" height="4.34" fill="#707070"/>
<rect x="415.40" y="314.63" width="1.6" height="4.34" fill="#707070"/>
<rect x="417.70" y="314.63" width="1.6" height="4.34" fill="#707070"/>
<rect x="420.05" y="314.63" width="1.5" height="4.34" fill="#686868"/>
<rect x="422.40" y="314.63" width="1.2" height="4.34" fill="#989898"/>
<rect x="425.10" y="314.63" width="3.4" height="4.34" fill="#585858"/>
<rect x="429.95" y="314.63" width="1.3" height="4.34" fill="#383838"/>
<rect x="432.60" y="314.63" width="1.2" height="4.34" fill="#303030"/>
<rect x="403.00" y="313.13" width="1" height="1" fill="#c8c8c8"/>
<rect x="405.80" y="313.13" width="1" height="1" fill="#c8c8c8"/>
<rect x="408.60" y="313.13" width="1" height="1" fill="#c8c8c8"/>
<rect x="411.40" y="313.13" width="1" height="1" fill="#c8c8c8"/>
<rect x="414.20" y="313.13" width="1" height="1" fill="#c8c8c8"/>
<rect x="417.00" y="313.13" width="1" height="1" fill="#c8c8c8"/>
<rect x="419.80" y="313.13" width="1" height="1" fill="#c8c8c8"/>
<rect x="422.60" y="313.13" width="1" height="1" fill="#c8c8c8"/>
<rect x="425.40" y="313.13" width="1" height="1" fill="#c8c8c8"/>
<rect x="428.20" y="313.13" width="1" height="1" fill="#c8c8c8"/>
<rect x="431.00" y="313.13" width="1" height="1" fill="#c8c8c8"/>
<rect x="401.90" y="320.98" width="1.2" height="4.34" fill="#303030"/>
<rect x="403.90" y="320.98" width="1.4" height="4.34" fill="#484848"/>
<rect x="406.00" y="320.98" width="1.4" height="4.34" fill="#484848"/>
<rect x="409.05" y="320.98" width="1.1" height="4.34" fill="#b0b0b0"/>
<rect x="410.80" y="320.98" width="1.6" height="4.34" fill="#606060"/>
<rect x="413.10" y="320.98" width="1.6" height="4.34" fill="#707070"/>
<rect x="415.40" y="320.98" width="1.6" height="4.34" fill="#707070"/>
<rect x="417.70" y="320.98" width="1.6" height="4.34" fill="#707070"/>
<rect x="420.05" y="320.98" width="1.5" height="4.34" fill="#686868"/>
<rect x="422.40" y="320.98" width="1.2" height="4.34" fill="#989898"/>
<rect x="425.10" y="320.98" width="3.4" height="4.34" fill="#585858"/>
<rect x="429.95" y="320.98" width="1.3" height="4.34" fill="#383838"/>
<rect x="432.60" y="320.98" width="1.2" height="4.34" fill="#303030"/>
<rect x="403.00" y="319.48" width="1" height="1" fill="#707070"/>
<rect x="405.80" y="319.48" width="1" height="1" fill="#707070"/>
<rect x="408.60" y="319.48" width="1" height="1" fill="#707070"/>
<rect x="411.40" y="319.48" width="1" height="1" fill="#707070"/>
<rect x="414.20" y="319.48" width="1" height="1" fill="#707070"/>
<rect x="417.00" y="319.48" width="1" height="1" fill="#707070"/>
<rect x="419.80" y="319.48" width="1" height="1" fill="#707070"/>
<rect x="422.60" y="319.48" width="1" height="1" fill="#707070"/>
<rect x="425.40" y="319.48" width="1" height="1" fill="#707070"/>
<rect x="428.20" y="319.48" width="1" height="1" fill="#707070"/>
<rect x="431.00" y="319.48" width="1" height="1" fill="#707070"/>
<rect x="401.90" y="327.32" width="1.2" height="4.34" fill="#303030"/>
<rect x="403.90" y="327.32" width="1.4" height="4.34" fill="#484848"/>
<rect x="406.00" y="327.32" width="1.4" height="4.34" fill="#484848"/>
<rect x="409.05" y="327.32" width="1.1" height="4.34" fill="#b0b0b0"/>
<rect x="410.80" y="327.32" width="1.6" height="4.34" fill="#606060"/>
<rect x="413.10" y="327.32" width="1.6" height="4.34" fill="#707070"/>
<rect x="415.40" y="327.32" width="1.6" height="4.34" fill="#707070"/>
<rect x="417.70" y="327.32" width="1.6" height="4.34" fill="#707070"/>
<rect x="420.05" y="327.32" width="1.5" height="4.34" fill="#686868"/>
<rect x="422.40" y="327.32" width="1.2" height="4.34" fill="#989898"/>
<rect x="425.10" y="327.32" width="3.4" height="4.34" fill="#585858"/>
<rect x="429.95" y="327.32" width="1.3" height="4.34" fill="#383838"/>
<rect x="432.60" y="327.32" width="1.2" height="4.34" fill="#303030"/>
<rect x="403.00" y="325.82" width="1" height="1" fill="#404040"/>
<rect x="405.80" y="325.82" width="1" height="1" fill="#404040"/>
<rect x="408.60" y="325.82" width="1" height="1" fill="#404040"/>
<rect x="411.40" y="325.82" width="1" height="1" fill="#404040"/>
<rect x="414.20" y="325.82" width="1" height="1" fill="#404040"/>
<rect x="417.00" y="325.82" width="1" height="1" fill="#404040"/>
<rect x="419.80" y="325.82" width="1" height="1" fill="#404040"/>
<rect x="422.60" y="325.82" width="1" height="1" fill="#404040"/>
<rect x="425.40" y="325.82" width="1" height="1" fill="#404040"/>
<rect x="428.20" y="325.82" width="1" height="1" fill="#404040"/>
<rect x="431.00" y="325.82" width="1" height="1" fill="#404040"/>
<rect x="401.90" y="333.66" width="1.2" height="4.34" fill="#303030"/>
<rect x="403.90" y="333.66" width="1.4" height="4.34" fill="#484848"/>
<rect x="406.00" y="333.66" width="1.4" height="4.34" fill="#484848"/>
<rect x="409.05" y="333.66" width="1.1" height="4.34" fill="#b0b0b0"/>
<rect x="410.80" y="333.66" width="1.6" height="4.34" fill="#606060"/>
<rect x="413.10" y="333.66" width="1.6" height="4.34" fill="#707070"/>
<rect x="415.40" y="333.66" width="1.6" height="4.34" fill="#707070"/>
<rect x="417.70" y="333.66" width="1.6" height="4.34" fill="#707070"/>
<rect x="420.05" y="333.66" width="1.5" height="4.34" fill="#686868"/>
<rect x="422.40" y="333.66" width="1.2" height="4.34" fill="#989898"/>
<rect x="425.10" y="333.66" width="3.4" height="4.34" fill="#585858"/>
<rect x="429.95" y="333.66" width="1.3" height="4.34" fill="#383838"/>
<rect x="432.60" y="333.66" width="1.2" height="4.34" fill="#303030"/>
<rect x="403.00" y="332.16" width="1" height="1" fill="#c8c8c8"/>
<rect x="405.80" y="332.16" width="1" height="1" fill="#c8c8c8"/>
<rect x="408.60" y="332.16" width="1" height="1" fill="#c8c8c8"/>
<rect x="411.40" y="332.16" width="1" height="1" fill="#c8c8c8"/>
<rect x="414.20" y="332.16" width="1" height="1" fill="#c8c8c8"/>
<rect x="417.00" y="332.16" width="1" height="1" fill="#c8c8c8"/>
<rect x="419.80" y="332.16" width="1" height="1" fill="#c8c8c8"/>
<rect x="422.60" y="332.16" width="1" height="1" fill="#c8c8c8"/>
<rect x="425.40" y="332.16" width="1" height="1" fill="#c8c8c8"/>
<rect x="428.20" y="332.16" width="1" height="1" fill="#c8c8c8"/>
<rect x="431.00" y="332.16" width="1" height="1" fill="#c8c8c8"/>
<rect x="401.90" y="340.00" width="1.2" height="4.34" fill="#303030"/>
<rect x="403.90" y="340.00" width="1.4" height="4.34" fill="#484848"/>
<rect x="406.00" y="340.00" width="1.4" height="4.34" fill="#484848"/>
<rect x="409.05" y="340.00" width="1.1" height="4.34" fill="#b0b0b0"/>
<rect x="410.80" y="340.00" width="1.6" height="4.34" fill="#606060"/>
<rect x="413.10" y="340.00" width="1.6" height="4.34" fill="#707070"/>
<rect x="415.40" y="340.00" width="1.6" height="4.34" fill="#707070"/>
<rect x="417.70" y="340.00" width="1.6" height="4.34" fill="#707070"/>
<rect x="420.05" y="340.00" width="1.5" height="4.34" fill="#686868"/>
<rect x="422.40" y="340.00" width="1.2" height="4.34" fill="#989898"/>
<rect x="425.10" y="340.00" width="3.4" height="4.34" fill="#585858"/>
<rect x="429.95" y="340.00" width="1.3" height="4.34" fill="#383838"/>
<rect x="432.60" y="340.00" width="1.2" height="4.34" fill="#303030"/>
<rect x="403.00" y="338.50" width="1" height="1" fill="#707070"/>
<rect x="405.80" y="338.50" width="1" height="1" fill="#707070"/>
<rect x="408.60" y="338.50" width="1" height="1" fill="#707070"/>
<rect x="411.40" y="338.50" width="1" height="1" fill="#707070"/>
<rect x="414.20" y="338.50" width="1" height="1" fill="#707070"/>
<rect x="417.00" y="338.50" width="1" height="1" fill="#707070"/>
<rect x="419.80" y="338.50" width="1" height="1" fill="#707070"/>
<rect x="422.60" y="338.50" width="1" height="1" fill="#707070"/>
<rect x="425.40" y="338.50" width="1" height="1" fill="#707070"/>
<rect x="428.20" y="338.50" width="1" height="1" fill="#707070"/>
<rect x="431.00" y="338.50" width="1" height="1" fill="#707070"/>
<rect x="401.90" y="346.34" width="1.2" height="4.34" fill="#303030"/>
<rect x="403.90" y="346.34" width="1.4" height="4.34" fill="#484848"/>
<rect x="406.00" y="346.34" width="1.4" height="4.34" fill="#484848"/>
<rect x="409.05" y="346.34" width="1.1" height="4.34" fill="#b0b0b0"/>
<rect x="410.80" y="346.34" width="1.6" height="4.34" fill="#606060"/>
<rect x="413.10" y="346.34" width="1.6" height="4.34" fill="#707070"/>
<rect x="415.40" y="346.34" width="1.6" height="4.34" fill="#707070"/>
<rect x="417.70" y="346.34" width="1.6" height="4.34" fill="#707070"/>
<rect x="420.05" y="346.34" width="1.5" height="4.34" fill="#686868"/>
<rect x="422.40" y="346.34" width="1.2" height="4.34" fill="#989898"/>
<rect x="425.10" y="346.34" width="3.4" height="4.34" fill="#585858"/>
<rect x="429.95" y="346.34" width="1.3" height="4.34" fill="#383838"/>
<rect x="432.60" y="346.34" width="1.2" height="4.34" fill="#303030"/>
<rect x="403.00" y="344.84" width="1" height="1" fill="#404040"/>
<rect x="405.80" y="344.84" width="1" height="1" fill="#404040"/>
<rect x="408.60" y="344.84" width="1" height="1" fill="#404040"/>
<rect x="411.40" y="344.84" width="1" height="1" fill="#404040"/>
<rect x="414.20" y="344.84" width="1" height="1" fill="#404040"/>
<rect x="417.00" y="344.84" width="1" height="1" fill="#404040"/>
<rect x="419.80" y="344.84" width="1" height="1" fill="#404040"/>
<rect x="422.60" y="344.84" width="1" height="1" fill="#404040"/>
<rect x="425.40" y="344.84" width="1" height="1" fill="#404040"/>
<rect x="428.20" y="344.84" width="1" height="1" fill="#404040"/>
<rect x="431.00" y="344.84" width="1" height="1" fill="#404040"/>
<rect x="401.90" y="352.69" width="1.2" height="4.34" fill="#303030"/>
<rect x="403.90" y="352.69" width="1.4" height="4.34" fill="#484848"/>
<rect x="406.00" y="352.69" width="1.4" height="4.34" fill="#484848"/>
<rect x="409.05" y="352.69" width="1.1" height="4.34" fill="#b0b0b0"/>
<rect x="410.80" y="352.69" width="1.6" height="4.34" fill="#606060"/>
<rect x="413.10" y="352.69" width="1.6" height="4.34" fill="#707070"/>
<rect x="415.40" y="352.69" width="1.6" height="4.34" fill="#707070"/>
<rect x="417.70" y="352.69" width="1.6" height="4.34" fill="#707070"/>
<rect x="420.05" y="352.69" width="1.5" height="4.34" fill="#686868"/>
<rect x="422.40" y="352.69" width="1.2" height="4.34" fill="#989898"/>
<rect x="425.10" y="352.69" width="3.4" height="4.34" fill="#585858"/>
<rect x="429.95" y="352.69" width="1.3" height="4.34" fill="#383838"/>
<rect x="432.60" y="352.69" width="1.2" height="4.34" fill="#303030"/>
<rect x="403.00" y="351.19" width="1" height="1" fill="#c8c8c8"/>
<rect x="405.80" y="351.19" width="1" height="1" fill="#c8c8c8"/>
<rect x="408.60" y="351.19" width="1" height="1" fill="#c8c8c8"/>
<rect x="411.40" y="351.19" width="1" height="1" fill="#c8c8c8"/>
<rect x="414.20" y="351.19" width="1" height="1" fill="#c8c8c8"/>
<rect x="417.00" y="351.19" width="1" height="1" fill="#c8c8c8"/>
<rect x="419.80" y="351.19" width="1" height="1" fill="#c8c8c8"/>
<rect x="422.60" y="351.19" width="1" height="1" fill="#c8c8c8"/>
<rect x="425.40" y="351.19" width="1" height="1" fill="#c8c8c8"/>
<rect x="428.20" y="351.19" width="1" height="1" fill="#c8c8c8"/>
<rect x="431.00" y="351.19" width="1" height="1" fill="#c8c8c8"/>
<rect x="401.90" y="359.03" width="1.2" height="4.34" fill="#303030"/>
<rect x="403.90" y="359.03" width="1.4" height="4.34" fill="#484848"/>
<rect x="406.00" y="359.03" width="1.4" height="4.34" fill="#484848"/>
<rect x="409.05" y="359.03" width="1.1" height="4.34" fill="#b0b0b0"/>
<rect x="410.80" y="359.03" width="1.6" height="4.34" fill="#606060"/>
<rect x="413.10" y="359.03" width="1.6" height="4.34" fill="#707070"/>
<rect x="415.40" y="359.03" width="1.6" height="4.34" fill="#707070"/>
<rect x="417.70" y="359.03" width="1.6" height="4.34" fill="#707070"/>
<rect x="420.05" y="359.03" width="1.5" height="4.34" fill="#686868"/>
<rect x="422.40" y="359.03" width="1.2" height="4.34" fill="#989898"/>
<rect x="425.10" y="359.03" width="3.4" height="4.34" fill="#585858"/>
<rect x="429.95" y="359.03" width="1.3" height="4.34" fill="#383838"/>
<rect x="432.60" y="359.03" width="1.2" height="4.34" fill="#303030"/>
<rect x="403.00" y="357.53" width="1" height="1" fill="#707070"/>
<rect x="405.80" y="357.53" width="1" height="1" fill="#707070"/>
<rect x="408.60" y="357.53" width="1" height="1" fill="#707070"/>
<rect x="411.40" y="357.53" width="1" height="1" fill="#707070"/>
<rect x="414.20" y="357.53" width="1" height="1" fill="#707070"/>
<rect x="417.00" y="357.53" width="1" height="1" fill="#707070"/>
<rect x="419.80" y="357.53" width="1" height="1" fill="#707070"/>
<rect x="422.60" y="357.53" width="1" height="1" fill="#707070"/>
<rect x="425.40" y="357.53" width="1" height="1" fill="#707070"/>
<rect x="428.20" y="357.53" width="1" height="1" fill="#707070"/>
<rect x="431.00" y="357.53" width="1" height="1" fill="#707070"/>
<rect x="401.90" y="365.37" width="1.2" height="4.34" fill="#303030"/>
<rect x="403.90" y="365.37" width="1.4" height="4.34" fill="#484848"/>
<rect x="406.00" y="365.37" width="1.4" height="4.34" fill="#484848"/>
<rect x="409.05" y="365.37" width="1.1" height="4.34" fill="#b0b0b0"/>
<rect x="410.80" y="365.37" width="1.6" height="4.34" fill="#606060"/>
<rect x="413.10" y="365.37" width="1.6" height="4.34" fill="#707070"/>
<rect x="415.40" y="365.37" width="1.6" height="4.34" fill="#707070"/>
<rect x="417.70" y="365.37" width="1.6" height="4.34" fill="#707070"/>
<rect x="420.05" y="365.37" width="1.5" height="4.34" fill="#686868"/>
<rect x="422.40" y="365.37" width="1.2" height="4.34" fill="#989898"/>
<rect x="425.10" y="365.37" width="3.4" height="4.34" fill="#585858"/>
<rect x="429.95" y="365.37" width="1.3" height="4.34" fill="#383838"/>
<rect x="432.60" y="365.37" width="1.2" height="4.34" fill="#303030"/>
<rect x="403.00" y="363.87" width="1" height="1" fill="#404040"/>
<rect x="405.80" y="363.87" width="1" height="1" fill="#404040"/>
<rect x="408.60" y="363.87" width="1" height="1" fill="#404040"/>
<rect x="411.40" y="363.87" width="1" height="1" fill="#404040"/>
<rect x="414.20" y="363.87" width="1" height="1" fill="#404040"/>
<rect x="417.00" y="363.87" width="1" height="1" fill="#404040"/>
<rect x="419.80" y="363.87" width="1" height="1" fill="#404040"/>
<rect x="422.60" y="363.87" width="1" height="1" fill="#404040"/>
<rect x="425.40" y="363.87" width="1" height="1" fill="#404040"/>
<rect x="428.20" y="363.87" width="1" height="1" fill="#404040"/>
<rect x="431.00" y="363.87" width="1" height="1" fill="#404040"/>
<rect x="401.90" y="371.71" width="1.2" height="4.34" fill="#303030"/>
<rect x="403.90" y="371.71" width="1.4" height="4.34" fill="#484848"/>
<rect x="406.00" y="371.71" width="1.4" height="4.34" fill="#484848"/>
<rect x="409.05" y="371.71" width="1.1" height="4.34" fill="#b0b0b0"/>
<rect x="410.80" y="371.71" width="1.6" height="4.34" fill="#606060"/>
<rect x="413.10" y="371.71" width="1.6" height="4.34" fill="#707070"/>
<rect x="415.40" y="371.71" width="1.6" height="4.34" fill="#707070"/>
<rect x="417.70" y="371.71" width="1.6" height="4.34" fill="#707070"/>
<rect x="420.05" y="371.71" width="1.5" height="4.34" fill="#686868"/>
<rect x="422.40" y="371.71" width="1.2" height="4.34" fill="#989898"/>
<rect x="425.10" y="371.71" width="3.4" height="4.34" fill="#585858"/>
<rect x="429.95" y="371.71" width="1.3" height="4.34" fill="#383838"/>
<rect x="432.60" y="371.71" width="1.2" height="4.34" fill="#303030"/>
<rect x="403.00" y="370.21" width="1" height="1" fill="#c8c8c8"/>
<rect x="405.80" y="370.21" width="1" height="1" fill="#c8c8c8"/>
<rect x="408.60" y="370.21" width="1" height="1" fill="#c8c8c8"/>
<rect x="411.40" y="370.21" width="1" height="1" fill="#c8c8c8"/>
<rect x="414.20" y="370.21" width="1" height="1" fill="#c8c8c8"/>
<rect x="417.00" y="370.21" width="1" height="1" fill="#c8c8c8"/>
<rect x="419.80" y="370.21" width="1" height="1" fill="#c8c8c8"/>
<rect x="422.60" y="370.21" width="1" height="1" fill="#c8c8c8"/>
<rect x="425.40" y="370.21" width="1" height="1" fill="#c8c8c8"/>
<rect x="428.20" y="370.21" width="1" height="1" fill="#c8c8c8"/>
<rect x="431.00" y="370.21" width="1" height="1" fill="#c8c8c8"/>
<rect x="401.90" y="378.05" width="1.2" height="4.34" fill="#303030"/>
<rect x="403.90" y="378.05" width="1.4" height="4.34" fill="#484848"/>
<rect x="406.00" y="378.05" width="1.4" height="4.34" fill="#484848"/>
<rect x="409.05" y="378.05" width="1.1" height="4.34" fill="#b0b0b0"/>
<rect x="410.80" y="378.05" width="1.6" height="4.34" fill="#606060"/>
<rect x="413.10" y="378.05" width="1.6" height="4.34" fill="#707070"/>
<rect x="415.40" y="378.05" width="1.6" height="4.34" fill="#707070"/>
<rect x="417.70" y="378.05" width="1.6" height="4.34" fill="#707070"/>
<rect x="420.05" y="378.05" width="1.5" height="4.34" fill="#686868"/>
<rect x="422.40" y="378.05" width="1.2" height="4.34" fill="#989898"/>
<rect x="425.10" y="378.05" width="3.4" height="4.34" fill="#585858"/>
<rect x="429.95" y="378.05" width="1.3" height="4.34" fill="#383838"/>
<rect x="432.60" y="378.05" width="1.2" height="4.34" fill="#303030"/>
<rect x="403.00" y="376.55" width="1" height="1" fill="#707070"/>
<rect x="405.80" y="376.55" width="1" height="1" fill="#707070"/>
<rect x="408.60" y="376.55" width="1" height="1" fill="#707070"/>
<rect x="411.40" y="376.55" width="1" height="1" fill="#707070"/>
<rect x="414.20" y="376.55" width="1" height="1" fill="#707070"/>
<rect x="417.00" y="376.55" width="1" height="1" fill="#707070"/>
<rect x="419.80" y="376.55" width="1" height="1" fill="#707070"/>
<rect x="422.60" y="376.55" width="1" height="1" fill="#707070"/>
<rect x="425.40" y="376.55" width="1" height="1" fill="#707070"/>
<rect x="428.20" y="376.55" width="1" height="1" fill="#707070"/>
<rect x="431.00" y="376.55" width="1" height="1" fill="#707070"/>
<rect x="401.90" y="384.40" width="1.2" height="4.34" fill="#303030"/>
<rect x="403.90" y="384.40" width="1.4" height="4.34" fill="#484848"/>
<rect x="406.00" y="384.40" width="1.4" height="4.34" fill="#484848"/>
<rect x="409.05" y="384.40" width="1.1" height="4.34" fill="#b0b0b0"/>
<rect x="410.80" y="384.40" width="1.6" height="4.34" fill="#606060"/>
<rect x="413.10" y="384.40" width="1.6" height="4.34" fill="#707070"/>
<rect x="415.40" y="384.40" width="1.6" height="4.34" fill="#707070"/>
<rect x="417.70" y="384.40" width="1.6" height="4.34" fill="#707070"/>
<rect x="420.05" y="384.40" width="1.5" height="4.34" fill="#686868"/>
<rect x="422.40" y="384.40" width="1.2" height="4.34" fill="#989898"/>
<rect x="425.10" y="384.40" width="3.4" height="4.34" fill="#585858"/>
<rect x="429.95" y="384.40" width="1.3" height="4.34" fill="#383838"/>
<rect x="432.60" y="384.40" width="1.2" height="4.34" fill="#303030"/>
<rect x="403.00" y="382.90" width="1" height="1" fill="#404040"/>
<rect x="405.80" y="382.90" width="1" height="1" fill="#404040"/>
<rect x="408.60" y="382.90" width="1" height="1" fill="#404040"/>
<rect x="411.40" y="382.90" width="1" height="1" fill="#404040"/>
<rect x="414.20" y="382.90" width="1" height="1" fill="#404040"/>
<rect x="417.00" y="382.90" width="1" height="1" fill="#404040"/>
<rect x="419.80" y="382.90" width="1" height="1" fill="#404040"/>
<rect x="422.60" y="382.90" width="1" height="1" fill="#404040"/>
<rect x="425.40" y="382.90" width="1" height="1" fill="#404040"/>
<rect x="428.20" y="382.90" width="1" height="1" fill="#404040"/>
<rect x="431.00" y="382.90" width="1" height="1" fill="#404040"/>
<rect x="398.9" y="141.3" width="36.5" height="1.9" fill="#000"/>
</g>
<g fill="none" stroke="#000" stroke-width="1">
<path d="M436.2,151.2 L435.6,151.2 C433.0,153.6 433.2,157 433.2,160.3 C433.2,163.6 433.0,167 435.6,169.4 L436.2,169.4 Z" fill="#fff" stroke="none"/>
<path d="M435.6,151.2 C433.0,153.6 433.2,157 433.2,160.3 C433.2,163.6 433.0,167 435.6,169.4" fill="none" stroke="#000" stroke-width="1.3"/>
<path d="M435.8,151.2 L521.7,151.2 C540,151.2 553,162 565.7,180.6 L552,192.6 C541,178 532,169.4 519.4,169.4 L435.8,169.4" fill="none" stroke-width="1.25"/>
<line x1="476.5" y1="143.5" x2="476.5" y2="214.3" stroke="#222"/>
<use href="#arr" transform="translate(476.5,151) rotate(90)"/>
<use href="#arr" transform="translate(476.5,169.3) rotate(-90)"/>
<g stroke="#242424" stroke-width="1.15">
  <line x1="435.5" y1="259.5" x2="559.3" y2="259.5"/>
  <line x1="559.2" y1="187" x2="559.2" y2="263" stroke="#333"/>
</g>
<use href="#arr" transform="translate(559.2,259.5) rotate(0)"/>
<line x1="559" y1="186.7" x2="607" y2="244.3" stroke="#222"/>
<path d="M605.64,243.25 L610.94,236.77 L612.66,238.43 L606.36,243.95 Z" fill="#000" stroke="none"/>
<g stroke="#4a4a4a" stroke-width="1.25">
  <line x1="559" y1="186.7" x2="644.3" y2="186.7"/>
  <line x1="640.2" y1="186.7" x2="640.2" y2="497"/>
</g>
<use href="#arr" transform="translate(640.2,186.7) rotate(-90)"/>
<use href="#arr" transform="translate(640.2,393.5) rotate(90)"/>
<use href="#arr" transform="translate(640.2,429.5) rotate(-90)"/>
<line x1="469.4" y1="393.4" x2="644" y2="393.4" stroke-width="1.2"/>
<line x1="471" y1="429.6" x2="644" y2="429.6" stroke-width="1.2"/>
<g stroke="#242424" stroke-width="1.15">
  <line x1="395" y1="359" x2="395" y2="389.4"/>
  <line x1="440.2" y1="359.7" x2="440.2" y2="389.4"/>
  <line x1="343" y1="363.3" x2="448" y2="363.3"/>
</g>
<use href="#arr" transform="translate(395,363.3) rotate(0)"/>
<use href="#arr" transform="translate(440.2,363.3) rotate(180)"/>
<rect x="394.5" y="389.4" width="46" height="3.8" fill="#fff" stroke-width="1.1"/>
</g>
<clipPath id="h3"><rect x="366.1" y="393.3" width="36.299999999999955" height="36.30000000000001"/></clipPath>
<g clip-path="url(#h3)" stroke="#000" stroke-width="1.15">
<line x1="331.60" y1="429.6" x2="367.90" y2="393.3"/>
<line x1="336.75" y1="429.6" x2="373.05" y2="393.3"/>
<line x1="341.90" y1="429.6" x2="378.20" y2="393.3"/>
<line x1="347.05" y1="429.6" x2="383.35" y2="393.3"/>
<line x1="352.20" y1="429.6" x2="388.50" y2="393.3"/>
<line x1="357.35" y1="429.6" x2="393.65" y2="393.3"/>
<line x1="362.50" y1="429.6" x2="398.80" y2="393.3"/>
<line x1="367.65" y1="429.6" x2="403.95" y2="393.3"/>
<line x1="372.80" y1="429.6" x2="409.10" y2="393.3"/>
<line x1="377.95" y1="429.6" x2="414.25" y2="393.3"/>
<line x1="383.10" y1="429.6" x2="419.40" y2="393.3"/>
<line x1="388.25" y1="429.6" x2="424.55" y2="393.3"/>
<line x1="393.40" y1="429.6" x2="429.70" y2="393.3"/>
<line x1="398.55" y1="429.6" x2="434.85" y2="393.3"/>
</g>
<rect x="366.1" y="393.3" width="36.299999999999955" height="36.30000000000001" fill="none" stroke="#000" stroke-width="1.3"/>
<clipPath id="h4"><rect x="432.5" y="393.3" width="36.89999999999998" height="36.30000000000001"/></clipPath>
<g clip-path="url(#h4)" stroke="#000" stroke-width="1.15">
<line x1="397.90" y1="429.6" x2="434.20" y2="393.3"/>
<line x1="403.05" y1="429.6" x2="439.35" y2="393.3"/>
<line x1="408.20" y1="429.6" x2="444.50" y2="393.3"/>
<line x1="413.35" y1="429.6" x2="449.65" y2="393.3"/>
<line x1="418.50" y1="429.6" x2="454.80" y2="393.3"/>
<line x1="423.65" y1="429.6" x2="459.95" y2="393.3"/>
<line x1="428.80" y1="429.6" x2="465.10" y2="393.3"/>
<line x1="433.95" y1="429.6" x2="470.25" y2="393.3"/>
<line x1="439.10" y1="429.6" x2="475.40" y2="393.3"/>
<line x1="444.25" y1="429.6" x2="480.55" y2="393.3"/>
<line x1="449.40" y1="429.6" x2="485.70" y2="393.3"/>
<line x1="454.55" y1="429.6" x2="490.85" y2="393.3"/>
<line x1="459.70" y1="429.6" x2="496.00" y2="393.3"/>
<line x1="464.85" y1="429.6" x2="501.15" y2="393.3"/>
</g>
<rect x="432.5" y="393.3" width="36.89999999999998" height="36.30000000000001" fill="none" stroke="#000" stroke-width="1.3"/>
<g fill="none" stroke="#000" stroke-width="1">
<rect x="394.9" y="429.7" width="45.4" height="1.7" fill="#fff" stroke-width="1"/>
<rect x="394.9" y="431.4" width="44.6" height="13.7" stroke-width="1.1"/>
<rect x="426.6" y="432" width="3.8" height="4.5" stroke-width="0.9"/>
<rect x="396" y="445.1" width="36.6" height="9.5" stroke-width="1.1"/>
<rect x="402.6" y="445.1" width="22.2" height="10.4" fill="#fff" stroke-width="1.1"/>
<line x1="401" y1="445.1" x2="401" y2="454.6"/>
<line x1="428.7" y1="445.1" x2="428.7" y2="454.6"/>
</g>
<clipPath id="cb41504562"><rect x="415.75" y="456.25" width="7.399999999999977" height="62.60000000000002"/></clipPath>
<g clip-path="url(#cb41504562)">
<polyline points="422.1,456.2 422.0,457.0 421.8,457.7 421.5,458.4 421.1,459.1 420.6,459.8 420.1,460.5 419.6,461.2 419.1,461.9 418.6,462.6 418.1,463.3 417.7,464.0 417.3,464.7 417.1,465.4 416.9,466.1 416.8,466.8 416.8,467.5 416.9,468.2 417.2,468.9 417.5,469.6 417.9,470.3 418.3,471.0 418.8,471.7 419.3,472.4 419.8,473.1 420.4,473.8 420.8,474.5 421.2,475.2 421.6,475.9 421.9,476.6 422.0,477.4 422.1,478.1 422.1,478.8 421.9,479.5 421.7,480.2 421.4,480.9 421.0,481.6 420.6,482.3 420.1,483.0 419.5,483.7 419.0,484.4 418.5,485.1 418.0,485.8 417.6,486.5 417.3,487.2 417.0,487.9 416.9,488.6 416.8,489.3 416.8,490.0 417.0,490.7 417.2,491.4 417.5,492.1 417.9,492.8 418.4,493.5 418.9,494.2 419.4,494.9 419.9,495.6 420.4,496.3 420.9,497.0 421.3,497.7 421.6,498.5 421.9,499.2 422.1,499.9 422.1,500.6 422.1,501.3 421.9,502.0 421.7,502.7 421.3,503.4 420.9,504.1 420.5,504.8 420.0,505.5 419.5,506.2 418.9,506.9 418.4,507.6 418.0,508.3 417.6,509.0 417.2,509.7 417.0,510.4 416.8,511.1 416.8,511.8 416.8,512.5 417.0,513.2 417.2,513.9 417.6,514.6 418.0,515.3 418.5,516.0 419.0,516.7 419.5,517.4 420.0,518.1 420.5,518.9" fill="none" stroke="#000" stroke-width="1.4"/>
<polyline points="416.8,456.2 416.9,457.0 417.1,457.7 417.4,458.4 417.8,459.1 418.3,459.8 418.8,460.5 419.3,461.2 419.8,461.9 420.3,462.6 420.8,463.3 421.2,464.0 421.6,464.7 421.8,465.4 422.0,466.1 422.1,466.8 422.1,467.5 422.0,468.2 421.7,468.9 421.4,469.6 421.0,470.3 420.6,471.0 420.1,471.7 419.6,472.4 419.1,473.1 418.5,473.8 418.1,474.5 417.7,475.2 417.3,475.9 417.0,476.6 416.9,477.4 416.8,478.1 416.8,478.8 417.0,479.5 417.2,480.2 417.5,480.9 417.9,481.6 418.3,482.3 418.8,483.0 419.4,483.7 419.9,484.4 420.4,485.1 420.9,485.8 421.3,486.5 421.6,487.2 421.9,487.9 422.0,488.6 422.1,489.3 422.1,490.0 421.9,490.7 421.7,491.4 421.4,492.1 421.0,492.8 420.5,493.5 420.0,494.2 419.5,494.9 419.0,495.6 418.5,496.3 418.0,497.0 417.6,497.7 417.3,498.5 417.0,499.2 416.8,499.9 416.8,500.6 416.8,501.3 417.0,502.0 417.2,502.7 417.6,503.4 418.0,504.1 418.4,504.8 418.9,505.5 419.4,506.2 420.0,506.9 420.5,507.6 420.9,508.3 421.3,509.0 421.7,509.7 421.9,510.4 422.1,511.1 422.1,511.8 422.1,512.5 421.9,513.2 421.7,513.9 421.3,514.6 420.9,515.3 420.4,516.0 419.9,516.7 419.4,517.4 418.9,518.1 418.4,518.9" fill="none" stroke="#000" stroke-width="1.4"/>
</g>
<rect x="415.75" y="456.25" width="7.399999999999977" height="62.60000000000002" fill="none" stroke="#000" stroke-width="1.5"/>
<clipPath id="cb41505230"><rect x="415.75" y="523.05" width="7.399999999999977" height="43.200000000000045"/></clipPath>
<g clip-path="url(#cb41505230)">
<polyline points="422.1,523.0 422.1,523.8 421.9,524.5 421.6,525.2 421.3,525.9 420.9,526.6 420.4,527.3 419.9,528.0 419.4,528.7 418.8,529.4 418.3,530.1 417.9,530.8 417.5,531.5 417.2,532.3 416.9,533.0 416.8,533.7 416.8,534.4 416.9,535.1 417.0,535.8 417.3,536.5 417.7,537.2 418.1,537.9 418.6,538.6 419.1,539.3 419.6,540.0 420.2,540.8 420.6,541.5 421.1,542.2 421.5,542.9 421.8,543.6 422.0,544.3 422.1,545.0 422.1,545.7 422.0,546.4 421.8,547.1 421.5,547.8 421.1,548.5 420.7,549.3 420.2,550.0 419.7,550.7 419.2,551.4 418.7,552.1 418.2,552.8 417.7,553.5 417.4,554.2 417.1,554.9 416.9,555.6 416.8,556.3 416.8,557.0 416.9,557.8 417.1,558.5 417.4,559.2 417.8,559.9 418.3,560.6 418.8,561.3 419.3,562.0 419.8,562.7 420.3,563.4 420.8,564.1 421.2,564.8 421.6,565.5 421.9,566.2" fill="none" stroke="#000" stroke-width="1.4"/>
<polyline points="416.8,523.0 416.8,523.8 417.0,524.5 417.3,525.2 417.6,525.9 418.0,526.6 418.5,527.3 419.0,528.0 419.5,528.7 420.1,529.4 420.6,530.1 421.0,530.8 421.4,531.5 421.7,532.3 422.0,533.0 422.1,533.7 422.1,534.4 422.0,535.1 421.9,535.8 421.6,536.5 421.2,537.2 420.8,537.9 420.3,538.6 419.8,539.3 419.3,540.0 418.7,540.8 418.3,541.5 417.8,542.2 417.4,542.9 417.1,543.6 416.9,544.3 416.8,545.0 416.8,545.7 416.9,546.4 417.1,547.1 417.4,547.8 417.8,548.5 418.2,549.3 418.7,550.0 419.2,550.7 419.7,551.4 420.2,552.1 420.7,552.8 421.2,553.5 421.5,554.2 421.8,554.9 422.0,555.6 422.1,556.3 422.1,557.0 422.0,557.8 421.8,558.5 421.5,559.2 421.1,559.9 420.6,560.6 420.1,561.3 419.6,562.0 419.1,562.7 418.6,563.4 418.1,564.1 417.7,564.8 417.3,565.5 417.0,566.2" fill="none" stroke="#000" stroke-width="1.4"/>
</g>
<rect x="415.75" y="523.05" width="7.399999999999977" height="43.200000000000045" fill="none" stroke="#000" stroke-width="1.5"/>
<g fill="none" stroke="#000" stroke-width="1">
<rect x="415.5" y="567" width="8" height="15" stroke-width="1"/>
<rect x="417.7" y="572" width="3.5" height="10" stroke-width="0.8"/>
<rect x="409.3" y="582.1" width="20" height="8.6" fill="#fff" stroke-width="1.2"/>
<line x1="413.6" y1="582.1" x2="413.6" y2="590.7"/>
<line x1="425" y1="582.1" x2="425" y2="590.7"/>
<g stroke="#242424" stroke-width="1.15">
  <line x1="411.7" y1="590.7" x2="411.7" y2="608.6"/>
  <line x1="426.7" y1="590.7" x2="426.7" y2="608.6"/>
  <line x1="357.5" y1="605.2" x2="434.2" y2="605.2"/>
</g>
<use href="#arr" transform="translate(411.7,605.2) rotate(0)"/>
<use href="#arr" transform="translate(426.7,605.2) rotate(180)"/>
<g stroke-width="1.25">
  <circle cx="185.7" cy="302.7" r="3.7"/><line x1="183" y1="308" x2="189" y2="297"/>
  <circle cx="183" cy="477" r="3.8"/><line x1="180.5" y1="482.5" x2="186" y2="471"/>
  <circle cx="347.2" cy="357.8" r="3.9"/><line x1="344.5" y1="363.3" x2="350.5" y2="352"/>
  <circle cx="471.6" cy="210.5" r="3.8"/><line x1="477" y1="213" x2="466" y2="208"/>
</g>
</g>
<rect x="141.89999999999998" y="250.0" width="1.6" height="1.4" fill="#22229a" opacity="0.8"/>
<rect x="141.89999999999998" y="255.90000000000003" width="1.6" height="1.4" fill="#22229a" opacity="0.8"/>
<rect x="141.89999999999998" y="261.8" width="1.6" height="1.4" fill="#22229a" opacity="0.8"/>
<rect x="141.89999999999998" y="263.90000000000003" width="1.6" height="1.4" fill="#22229a" opacity="0.8"/>
<rect x="145.79999999999998" y="250.0" width="1.6" height="1.4" fill="#22229a" opacity="0.8"/>
<rect x="145.79999999999998" y="255.90000000000003" width="1.6" height="1.4" fill="#22229a" opacity="0.8"/>
<rect x="145.79999999999998" y="261.8" width="1.6" height="1.4" fill="#22229a" opacity="0.8"/>
<rect x="145.79999999999998" y="263.90000000000003" width="1.6" height="1.4" fill="#22229a" opacity="0.8"/>
<rect x="149.79999999999998" y="250.0" width="1.6" height="1.4" fill="#22229a" opacity="0.8"/>
<rect x="149.79999999999998" y="255.90000000000003" width="1.6" height="1.4" fill="#22229a" opacity="0.8"/>
<rect x="149.79999999999998" y="261.8" width="1.6" height="1.4" fill="#22229a" opacity="0.8"/>
<rect x="149.79999999999998" y="263.90000000000003" width="1.6" height="1.4" fill="#22229a" opacity="0.8"/>
<rect x="153.7" y="250.0" width="1.6" height="1.4" fill="#22229a" opacity="0.8"/>
<rect x="153.7" y="255.90000000000003" width="1.6" height="1.4" fill="#22229a" opacity="0.8"/>
<rect x="153.7" y="261.8" width="1.6" height="1.4" fill="#22229a" opacity="0.8"/>
<rect x="153.7" y="263.90000000000003" width="1.6" height="1.4" fill="#22229a" opacity="0.8"/>
<rect x="580.0" y="481.0" width="3.6" height="1" fill="#ffff80" opacity="0.7"/>
<rect x="580.0" y="483.0" width="3.6" height="1" fill="#ffff80" opacity="0.7"/>
<rect x="580.0" y="485.0" width="3.6" height="1" fill="#ffff80" opacity="0.7"/>
<rect x="580.0" y="487.0" width="3.6" height="1" fill="#ffff80" opacity="0.7"/>
<rect x="580.0" y="489.0" width="3.6" height="1" fill="#ffff80" opacity="0.7"/>
<rect x="580.0" y="491.0" width="3.6" height="1" fill="#ffff80" opacity="0.7"/>
<rect x="580.0" y="493.0" width="3.6" height="1" fill="#ffff80" opacity="0.7"/>
<rect x="580.0" y="495.0" width="3.6" height="1" fill="#ffff80" opacity="0.7"/>
<rect x="587.9" y="481.0" width="3.6" height="1" fill="#ffff80" opacity="0.7"/>
<rect x="587.9" y="483.0" width="3.6" height="1" fill="#ffff80" opacity="0.7"/>
<rect x="587.9" y="485.0" width="3.6" height="1" fill="#ffff80" opacity="0.7"/>
<rect x="587.9" y="487.0" width="3.6" height="1" fill="#ffff80" opacity="0.7"/>
<rect x="587.9" y="489.0" width="3.6" height="1" fill="#ffff80" opacity="0.7"/>
<rect x="587.9" y="491.0" width="3.6" height="1" fill="#ffff80" opacity="0.7"/>
<rect x="587.9" y="493.0" width="3.6" height="1" fill="#ffff80" opacity="0.7"/>
<rect x="587.9" y="495.0" width="3.6" height="1" fill="#ffff80" opacity="0.7"/>
<rect x="139.8" y="569.3" width="8.0" height="1.3" fill="#999"/>
<rect x="151.5" y="569.3" width="8.0" height="1.3" fill="#999"/>
<rect x="415.5" y="569.3" width="8.0" height="1.3" fill="#999"/>
<text x="0" y="0" font-size="11.5" transform="translate(53.1,267.3) rotate(-90)" textLength="22.7" lengthAdjust="spacingAndGlyphs">305</text>
<text x="0" y="0" font-size="11.5" transform="translate(53.1,502.4) rotate(-90)" textLength="19.3" lengthAdjust="spacingAndGlyphs">413</text>
<text x="191.4" y="306.4" font-size="10.6" textLength="15.7" lengthAdjust="spacingAndGlyphs">40</text>
<text x="189" y="480.9" font-size="10.9" textLength="24.8" lengthAdjust="spacingAndGlyphs">33.5</text>
<text x="353" y="361.7" font-size="10.8" textLength="14.6" lengthAdjust="spacingAndGlyphs">50</text>
<text x="470" y="88.6" font-size="10.9" textLength="19.4" lengthAdjust="spacingAndGlyphs">189</text>
<text x="477.9" y="257.9" font-size="11" textLength="18.5" lengthAdjust="spacingAndGlyphs">156</text>
<text x="572.6" y="259" font-size="11" textLength="15.8" lengthAdjust="spacingAndGlyphs">40</text>
<circle cx="590.6" cy="251.3" r="1.55" fill="none" stroke="#000" stroke-width="1.1"/>
<text x="357.5" y="603" font-size="9.5" textLength="34.9" lengthAdjust="spacingAndGlyphs">G3/8''</text>
<text x="0" y="0" font-size="10.5" transform="translate(638.7,302) rotate(-90)" textLength="22.7" lengthAdjust="spacingAndGlyphs">228</text>
<text x="0" y="0" font-size="10" transform="translate(638.1,497.7) rotate(-90)" textLength="15.8" lengthAdjust="spacingAndGlyphs">40</text>
<text x="0" y="0" font-size="10" transform="translate(638.1,473.4) rotate(-90)" textLength="26.1" lengthAdjust="spacingAndGlyphs">MAX</text>
<text x="0" y="0" font-size="10" transform="translate(475.4,206) rotate(-90)" textLength="16" lengthAdjust="spacingAndGlyphs">20</text>

</svg>
</body></html>
